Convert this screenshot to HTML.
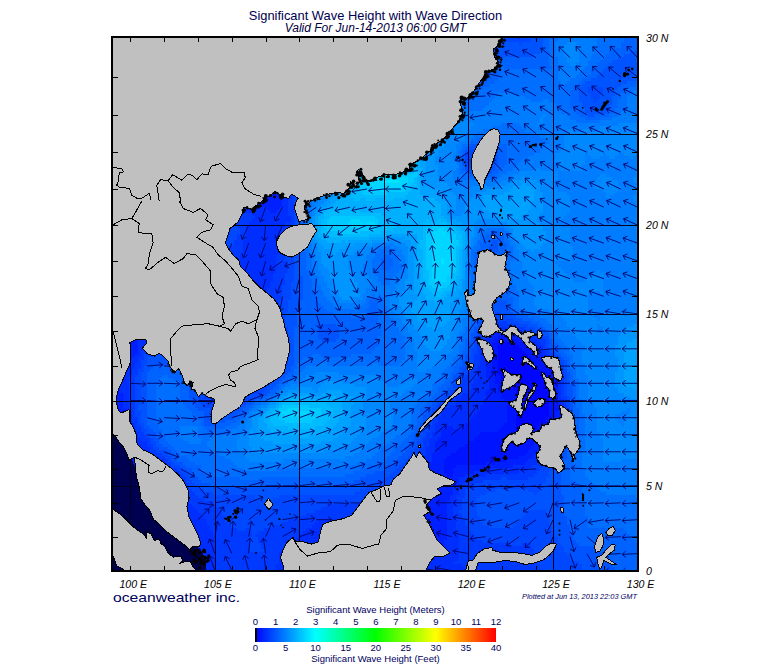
<!DOCTYPE html>
<html><head><meta charset="utf-8"><title>Significant Wave Height</title>
<style>
html,body{margin:0;padding:0;background:#fff;}
body{width:775px;height:665px;overflow:hidden;position:relative;font-family:"Liberation Sans",sans-serif;}
svg{position:absolute;left:0;top:0;}
text{font-family:"Liberation Sans",sans-serif;}
</style></head><body>
<svg width="775" height="665" viewBox="0 0 775 665">
<defs>
<clipPath id="mapclip"><rect x="112" y="37" width="526" height="534"/></clipPath>
<linearGradient id="lg" x1="0" x2="1" y1="0" y2="0">
<stop offset="0" stop-color="#0000ff"/>
<stop offset="0.25" stop-color="#00ffff"/>
<stop offset="0.5" stop-color="#00ff00"/>
<stop offset="0.75" stop-color="#ffff00"/>
<stop offset="1" stop-color="#ff0000"/>
</linearGradient>
</defs>

<g clip-path="url(#mapclip)" shape-rendering="crispEdges">
<rect x="111" y="36" width="528" height="536" fill="#0050ff"/>
<rect x="111" y="36" width="528" height="536" fill="#002eff"/>
<path fill="#0006ff" d="M501 342h12v3h-12zM498 345h21v3h-21zM498 348h24v3h-24zM498 351h27v3h-27zM498 354h30v3h-30zM498 357h33v3h-33zM498 360h33v3h-33zM498 363h36v3h-36zM498 366h39v3h-39zM498 369h42v3h-42zM498 372h48v3h-48zM501 375h48v3h-48zM501 378h48v3h-48zM504 381h45v3h-45zM507 384h39v3h-39zM513 387h33v3h-33zM516 390h33v3h-33zM516 393h33v3h-33zM519 396h30v3h-30zM519 399h30v3h-30zM519 402h30v3h-30zM519 405h30v3h-30zM519 408h30v3h-30zM519 411h30v3h-30zM516 414h33v3h-33zM516 417h30v3h-30zM516 420h30v3h-30zM516 423h24v3h-24zM516 426h21v3h-21zM516 429h15v3h-15zM516 432h12v3h-12zM516 435h6v3h-6zM516 438h3v3h-3zM111 468h3v3h-3zM111 471h3v3h-3zM111 474h6v3h-6zM111 477h6v3h-6zM111 480h6v3h-6zM111 483h9v3h-9zM111 486h9v3h-9zM111 489h9v3h-9zM111 492h12v3h-12zM111 495h12v3h-12zM111 498h12v3h-12zM111 501h12v3h-12zM111 504h12v3h-12zM111 507h12v3h-12zM111 510h12v3h-12zM111 513h12v3h-12zM111 516h12v3h-12zM111 519h12v3h-12zM111 522h12v3h-12zM111 525h12v3h-12zM111 528h12v3h-12zM111 531h12v3h-12zM111 534h12v3h-12zM111 537h12v3h-12zM111 540h12v3h-12zM111 543h12v3h-12zM111 546h12v3h-12zM111 549h12v3h-12zM111 552h12v3h-12zM111 555h12v3h-12zM111 558h9v3h-9zM111 561h9v3h-9zM111 564h9v3h-9zM111 567h9v3h-9zM111 570h9v3h-9z"/>
<path fill="#0014ff" d="M111 306h3v3h-3zM111 309h3v3h-3zM111 312h3v3h-3zM111 315h3v3h-3zM111 318h3v3h-3zM111 321h6v3h-6zM111 324h6v3h-6zM111 327h6v3h-6zM111 330h6v3h-6zM111 333h6v3h-6zM111 336h6v3h-6zM498 336h12v3h-12zM111 339h6v3h-6zM495 339h24v3h-24zM111 342h6v3h-6zM492 342h9v3h-9zM513 342h12v3h-12zM111 345h6v3h-6zM492 345h6v3h-6zM519 345h9v3h-9zM111 348h6v3h-6zM492 348h6v3h-6zM522 348h9v3h-9zM111 351h6v3h-6zM492 351h6v3h-6zM525 351h9v3h-9zM111 354h3v3h-3zM492 354h6v3h-6zM528 354h9v3h-9zM111 357h3v3h-3zM492 357h6v3h-6zM531 357h9v3h-9zM111 360h3v3h-3zM492 360h6v3h-6zM531 360h12v3h-12zM492 363h6v3h-6zM534 363h12v3h-12zM492 366h6v3h-6zM537 366h12v3h-12zM492 369h6v3h-6zM540 369h12v3h-12zM492 372h6v3h-6zM546 372h6v3h-6zM495 375h6v3h-6zM549 375h6v3h-6zM495 378h6v3h-6zM549 378h6v3h-6zM495 381h9v3h-9zM549 381h6v3h-6zM498 384h9v3h-9zM546 384h6v3h-6zM498 387h15v3h-15zM546 387h6v3h-6zM498 390h18v3h-18zM549 390h6v3h-6zM501 393h15v3h-15zM549 393h6v3h-6zM501 396h18v3h-18zM549 396h6v3h-6zM504 399h15v3h-15zM549 399h6v3h-6zM510 402h9v3h-9zM549 402h6v3h-6zM507 405h12v3h-12zM549 405h9v3h-9zM111 408h3v3h-3zM507 408h12v3h-12zM549 408h9v3h-9zM111 411h3v3h-3zM507 411h12v3h-12zM549 411h6v3h-6zM111 414h3v3h-3zM507 414h9v3h-9zM549 414h6v3h-6zM111 417h3v3h-3zM507 417h9v3h-9zM546 417h9v3h-9zM111 420h3v3h-3zM507 420h9v3h-9zM546 420h6v3h-6zM111 423h3v3h-3zM504 423h12v3h-12zM540 423h9v3h-9zM111 426h6v3h-6zM501 426h15v3h-15zM537 426h12v3h-12zM111 429h6v3h-6zM498 429h18v3h-18zM531 429h15v3h-15zM111 432h6v3h-6zM480 432h36v3h-36zM528 432h15v3h-15zM111 435h9v3h-9zM477 435h39v3h-39zM522 435h18v3h-18zM111 438h9v3h-9zM474 438h42v3h-42zM519 438h18v3h-18zM111 441h12v3h-12zM468 441h66v3h-66zM111 444h12v3h-12zM465 444h69v3h-69zM111 447h15v3h-15zM459 447h72v3h-72zM111 450h15v3h-15zM456 450h72v3h-72zM111 453h18v3h-18zM450 453h75v3h-75zM111 456h21v3h-21zM447 456h72v3h-72zM111 459h21v3h-21zM444 459h63v3h-63zM111 462h24v3h-24zM444 462h42v3h-42zM492 462h3v3h-3zM111 465h27v3h-27zM444 465h12v3h-12zM114 468h24v3h-24zM444 468h9v3h-9zM114 471h27v3h-27zM444 471h9v3h-9zM117 474h27v3h-27zM447 474h6v3h-6zM117 477h27v3h-27zM117 480h30v3h-30zM120 483h27v3h-27zM120 486h30v3h-30zM120 489h30v3h-30zM123 492h30v3h-30zM123 495h30v3h-30zM123 498h30v3h-30zM123 501h30v3h-30zM123 504h33v3h-33zM123 507h33v3h-33zM123 510h33v3h-33zM123 513h33v3h-33zM123 516h33v3h-33zM123 519h33v3h-33zM123 522h33v3h-33zM123 525h33v3h-33zM123 528h33v3h-33zM123 531h36v3h-36zM123 534h36v3h-36zM123 537h36v3h-36zM123 540h36v3h-36zM123 543h36v3h-36zM123 546h36v3h-36zM123 549h36v3h-36zM123 552h36v3h-36zM123 555h36v3h-36zM120 558h39v3h-39zM120 561h39v3h-39zM120 564h39v3h-39zM120 567h39v3h-39zM120 570h39v3h-39z"/>
<path fill="#0020ff" d="M111 36h24v3h-24zM111 39h24v3h-24zM111 42h24v3h-24zM111 45h24v3h-24zM111 48h27v3h-27zM111 51h27v3h-27zM111 54h27v3h-27zM111 57h27v3h-27zM111 60h27v3h-27zM111 63h27v3h-27zM111 66h30v3h-30zM111 69h30v3h-30zM111 72h30v3h-30zM111 75h30v3h-30zM111 78h30v3h-30zM111 81h30v3h-30zM111 84h33v3h-33zM111 87h33v3h-33zM111 90h33v3h-33zM111 93h33v3h-33zM111 96h33v3h-33zM111 99h33v3h-33zM111 102h36v3h-36zM111 105h36v3h-36zM111 108h36v3h-36zM111 111h36v3h-36zM111 114h36v3h-36zM111 117h36v3h-36zM111 120h36v3h-36zM111 123h36v3h-36zM111 126h36v3h-36zM111 129h39v3h-39zM111 132h39v3h-39zM111 135h39v3h-39zM111 138h39v3h-39zM111 141h39v3h-39zM111 144h39v3h-39zM111 147h39v3h-39zM111 150h39v3h-39zM111 153h36v3h-36zM111 156h36v3h-36zM111 159h36v3h-36zM111 162h36v3h-36zM111 165h36v3h-36zM111 168h36v3h-36zM111 171h36v3h-36zM111 174h36v3h-36zM111 177h33v3h-33zM111 180h33v3h-33zM111 183h33v3h-33zM111 186h33v3h-33zM111 189h33v3h-33zM111 192h30v3h-30zM258 192h18v3h-18zM111 195h30v3h-30zM255 195h24v3h-24zM111 198h30v3h-30zM255 198h27v3h-27zM111 201h30v3h-30zM255 201h27v3h-27zM111 204h30v3h-30zM261 204h21v3h-21zM111 207h30v3h-30zM267 207h12v3h-12zM111 210h30v3h-30zM270 210h6v3h-6zM111 213h30v3h-30zM111 216h30v3h-30zM111 219h27v3h-27zM111 222h27v3h-27zM111 225h27v3h-27zM111 228h27v3h-27zM111 231h27v3h-27zM111 234h27v3h-27zM111 237h27v3h-27zM111 240h27v3h-27zM111 243h27v3h-27zM111 246h27v3h-27zM111 249h30v3h-30zM111 252h30v3h-30zM111 255h30v3h-30zM111 258h30v3h-30zM111 261h30v3h-30zM111 264h30v3h-30zM111 267h30v3h-30zM111 270h30v3h-30zM111 273h30v3h-30zM111 276h30v3h-30zM111 279h30v3h-30zM111 282h30v3h-30zM111 285h30v3h-30zM111 288h30v3h-30zM111 291h30v3h-30zM111 294h30v3h-30zM111 297h30v3h-30zM111 300h30v3h-30zM111 303h30v3h-30zM114 306h27v3h-27zM114 309h27v3h-27zM114 312h27v3h-27zM114 315h27v3h-27zM114 318h24v3h-24zM117 321h21v3h-21zM117 324h21v3h-21zM117 327h21v3h-21zM117 330h21v3h-21zM117 333h21v3h-21zM495 333h21v3h-21zM117 336h21v3h-21zM492 336h6v3h-6zM510 336h15v3h-15zM117 339h21v3h-21zM489 339h6v3h-6zM519 339h9v3h-9zM117 342h21v3h-21zM486 342h6v3h-6zM525 342h9v3h-9zM117 345h21v3h-21zM486 345h6v3h-6zM528 345h9v3h-9zM117 348h21v3h-21zM486 348h6v3h-6zM531 348h6v3h-6zM117 351h21v3h-21zM486 351h6v3h-6zM534 351h6v3h-6zM114 354h21v3h-21zM486 354h6v3h-6zM537 354h6v3h-6zM114 357h18v3h-18zM486 357h6v3h-6zM540 357h6v3h-6zM114 360h15v3h-15zM486 360h6v3h-6zM543 360h6v3h-6zM111 363h15v3h-15zM486 363h6v3h-6zM546 363h6v3h-6zM111 366h15v3h-15zM486 366h6v3h-6zM549 366h3v3h-3zM111 369h12v3h-12zM486 369h6v3h-6zM552 369h3v3h-3zM111 372h12v3h-12zM486 372h6v3h-6zM552 372h3v3h-3zM111 375h12v3h-12zM486 375h9v3h-9zM555 375h3v3h-3zM111 378h9v3h-9zM489 378h6v3h-6zM555 378h3v3h-3zM111 381h9v3h-9zM489 381h6v3h-6zM555 381h3v3h-3zM111 384h9v3h-9zM489 384h9v3h-9zM552 384h6v3h-6zM111 387h9v3h-9zM489 387h9v3h-9zM552 387h6v3h-6zM111 390h9v3h-9zM486 390h12v3h-12zM555 390h3v3h-3zM111 393h12v3h-12zM486 393h15v3h-15zM555 393h3v3h-3zM111 396h12v3h-12zM486 396h15v3h-15zM555 396h3v3h-3zM111 399h12v3h-12zM483 399h21v3h-21zM555 399h3v3h-3zM111 402h12v3h-12zM483 402h27v3h-27zM555 402h6v3h-6zM111 405h12v3h-12zM480 405h27v3h-27zM558 405h3v3h-3zM114 408h12v3h-12zM480 408h27v3h-27zM558 408h3v3h-3zM114 411h12v3h-12zM477 411h30v3h-30zM555 411h6v3h-6zM114 414h12v3h-12zM474 414h33v3h-33zM555 414h6v3h-6zM114 417h12v3h-12zM471 417h36v3h-36zM555 417h3v3h-3zM114 420h12v3h-12zM468 420h39v3h-39zM552 420h6v3h-6zM114 423h12v3h-12zM465 423h39v3h-39zM549 423h6v3h-6zM117 426h9v3h-9zM444 426h9v3h-9zM462 426h39v3h-39zM549 426h6v3h-6zM117 429h12v3h-12zM441 429h57v3h-57zM546 429h6v3h-6zM117 432h12v3h-12zM441 432h39v3h-39zM543 432h9v3h-9zM120 435h12v3h-12zM441 435h36v3h-36zM540 435h9v3h-9zM120 438h12v3h-12zM438 438h36v3h-36zM537 438h9v3h-9zM123 441h12v3h-12zM435 441h33v3h-33zM534 441h9v3h-9zM123 444h15v3h-15zM435 444h30v3h-30zM534 444h9v3h-9zM126 447h15v3h-15zM435 447h24v3h-24zM531 447h9v3h-9zM126 450h15v3h-15zM435 450h21v3h-21zM528 450h9v3h-9zM129 453h15v3h-15zM432 453h18v3h-18zM525 453h9v3h-9zM132 456h15v3h-15zM432 456h15v3h-15zM519 456h15v3h-15zM132 459h18v3h-18zM432 459h12v3h-12zM507 459h21v3h-21zM135 462h18v3h-18zM429 462h15v3h-15zM486 462h6v3h-6zM495 462h30v3h-30zM138 465h18v3h-18zM429 465h15v3h-15zM456 465h57v3h-57zM138 468h21v3h-21zM429 468h15v3h-15zM453 468h36v3h-36zM141 471h18v3h-18zM429 471h15v3h-15zM453 471h21v3h-21zM144 474h18v3h-18zM426 474h21v3h-21zM453 474h12v3h-12zM144 477h21v3h-21zM426 477h33v3h-33zM147 480h18v3h-18zM426 480h33v3h-33zM147 483h21v3h-21zM423 483h33v3h-33zM150 486h21v3h-21zM423 486h30v3h-30zM150 489h21v3h-21zM420 489h33v3h-33zM153 492h18v3h-18zM420 492h33v3h-33zM153 495h21v3h-21zM417 495h33v3h-33zM153 498h21v3h-21zM417 498h33v3h-33zM153 501h21v3h-21zM414 501h33v3h-33zM156 504h18v3h-18zM411 504h36v3h-36zM156 507h21v3h-21zM411 507h36v3h-36zM156 510h21v3h-21zM408 510h39v3h-39zM156 513h24v3h-24zM405 513h42v3h-42zM156 516h24v3h-24zM405 516h42v3h-42zM156 519h24v3h-24zM402 519h45v3h-45zM156 522h27v3h-27zM399 522h48v3h-48zM156 525h27v3h-27zM396 525h51v3h-51zM156 528h27v3h-27zM396 528h51v3h-51zM159 531h27v3h-27zM393 531h54v3h-54zM159 534h27v3h-27zM390 534h57v3h-57zM159 537h27v3h-27zM387 537h60v3h-60zM159 540h27v3h-27zM384 540h60v3h-60zM159 543h27v3h-27zM381 543h63v3h-63zM159 546h27v3h-27zM375 546h66v3h-66zM159 549h27v3h-27zM372 549h66v3h-66zM159 552h27v3h-27zM363 552h69v3h-69zM159 555h30v3h-30zM357 555h72v3h-72zM159 558h30v3h-30zM348 558h78v3h-78zM159 561h30v3h-30zM345 561h78v3h-78zM159 564h30v3h-30zM339 564h84v3h-84zM159 567h30v3h-30zM336 567h84v3h-84zM159 570h30v3h-30zM333 570h84v3h-84z"/>
<path fill="#003aff" d="M198 36h48v3h-48zM198 39h48v3h-48zM198 42h48v3h-48zM198 45h48v3h-48zM198 48h48v3h-48zM198 51h48v3h-48zM198 54h48v3h-48zM201 57h45v3h-45zM201 60h45v3h-45zM201 63h45v3h-45zM201 66h45v3h-45zM201 69h45v3h-45zM201 72h45v3h-45zM201 75h45v3h-45zM204 78h42v3h-42zM204 81h42v3h-42zM204 84h42v3h-42zM204 87h42v3h-42zM204 90h42v3h-42zM207 93h39v3h-39zM207 96h42v3h-42zM207 99h42v3h-42zM210 102h39v3h-39zM210 105h39v3h-39zM210 108h42v3h-42zM213 111h39v3h-39zM213 114h39v3h-39zM213 117h42v3h-42zM216 120h39v3h-39zM216 123h39v3h-39zM219 126h39v3h-39zM219 129h39v3h-39zM222 132h39v3h-39zM225 135h36v3h-36zM225 138h39v3h-39zM228 141h36v3h-36zM231 144h36v3h-36zM234 147h36v3h-36zM237 150h33v3h-33zM243 153h30v3h-30zM246 156h27v3h-27zM471 156h3v3h-3zM252 159h24v3h-24zM468 159h6v3h-6zM255 162h24v3h-24zM261 165h18v3h-18zM264 168h18v3h-18zM267 171h18v3h-18zM270 174h15v3h-15zM276 177h12v3h-12zM276 180h12v3h-12zM279 183h9v3h-9zM282 186h9v3h-9zM285 189h6v3h-6zM285 192h6v3h-6zM204 195h15v3h-15zM288 195h6v3h-6zM195 198h30v3h-30zM288 198h6v3h-6zM192 201h36v3h-36zM288 201h6v3h-6zM189 204h45v3h-45zM288 204h6v3h-6zM186 207h51v3h-51zM288 207h6v3h-6zM186 210h57v3h-57zM288 210h6v3h-6zM183 213h69v3h-69zM288 213h6v3h-6zM180 216h75v3h-75zM291 216h3v3h-3zM180 219h72v3h-72zM291 219h3v3h-3zM180 222h36v3h-36zM234 222h15v3h-15zM285 222h9v3h-9zM177 225h36v3h-36zM237 225h9v3h-9zM285 225h6v3h-6zM177 228h33v3h-33zM240 228h6v3h-6zM282 228h9v3h-9zM177 231h33v3h-33zM240 231h6v3h-6zM279 231h9v3h-9zM177 234h33v3h-33zM237 234h9v3h-9zM279 234h9v3h-9zM177 237h33v3h-33zM237 237h9v3h-9zM279 237h9v3h-9zM177 240h33v3h-33zM234 240h9v3h-9zM279 240h9v3h-9zM177 243h33v3h-33zM234 243h9v3h-9zM279 243h6v3h-6zM177 246h36v3h-36zM231 246h12v3h-12zM279 246h6v3h-6zM177 249h39v3h-39zM231 249h12v3h-12zM279 249h6v3h-6zM177 252h66v3h-66zM279 252h6v3h-6zM177 255h63v3h-63zM276 255h9v3h-9zM177 258h63v3h-63zM276 258h9v3h-9zM177 261h63v3h-63zM276 261h12v3h-12zM180 264h57v3h-57zM276 264h12v3h-12zM180 267h57v3h-57zM276 267h12v3h-12zM180 270h57v3h-57zM276 270h12v3h-12zM180 273h54v3h-54zM273 273h12v3h-12zM183 276h51v3h-51zM273 276h12v3h-12zM183 279h48v3h-48zM273 279h12v3h-12zM183 282h45v3h-45zM270 282h15v3h-15zM183 285h45v3h-45zM270 285h12v3h-12zM183 288h42v3h-42zM267 288h15v3h-15zM183 291h42v3h-42zM264 291h18v3h-18zM180 294h45v3h-45zM261 294h21v3h-21zM180 297h42v3h-42zM258 297h24v3h-24zM177 300h45v3h-45zM258 300h21v3h-21zM174 303h48v3h-48zM255 303h24v3h-24zM174 306h48v3h-48zM252 306h24v3h-24zM171 309h51v3h-51zM252 309h24v3h-24zM168 312h57v3h-57zM249 312h27v3h-27zM165 315h60v3h-60zM249 315h24v3h-24zM162 318h63v3h-63zM249 318h24v3h-24zM159 321h69v3h-69zM249 321h24v3h-24zM495 321h12v3h-12zM156 324h72v3h-72zM249 324h24v3h-24zM489 324h27v3h-27zM156 327h72v3h-72zM249 327h24v3h-24zM486 327h9v3h-9zM513 327h12v3h-12zM153 330h75v3h-75zM249 330h27v3h-27zM483 330h6v3h-6zM522 330h9v3h-9zM150 333h78v3h-78zM249 333h27v3h-27zM480 333h6v3h-6zM528 333h9v3h-9zM150 336h21v3h-21zM183 336h48v3h-48zM252 336h24v3h-24zM480 336h6v3h-6zM534 336h9v3h-9zM147 339h15v3h-15zM192 339h39v3h-39zM252 339h24v3h-24zM477 339h6v3h-6zM537 339h9v3h-9zM147 342h12v3h-12zM195 342h36v3h-36zM252 342h24v3h-24zM477 342h6v3h-6zM540 342h6v3h-6zM144 345h9v3h-9zM198 345h33v3h-33zM255 345h24v3h-24zM477 345h3v3h-3zM543 345h3v3h-3zM144 348h6v3h-6zM201 348h30v3h-30zM255 348h24v3h-24zM477 348h3v3h-3zM543 348h6v3h-6zM141 351h6v3h-6zM201 351h27v3h-27zM255 351h24v3h-24zM477 351h3v3h-3zM546 351h3v3h-3zM141 354h3v3h-3zM204 354h24v3h-24zM255 354h24v3h-24zM474 354h6v3h-6zM549 354h3v3h-3zM138 357h6v3h-6zM204 357h24v3h-24zM255 357h24v3h-24zM474 357h6v3h-6zM549 357h6v3h-6zM138 360h3v3h-3zM207 360h21v3h-21zM255 360h21v3h-21zM474 360h6v3h-6zM552 360h6v3h-6zM135 363h6v3h-6zM207 363h21v3h-21zM255 363h21v3h-21zM474 363h6v3h-6zM555 363h6v3h-6zM135 366h6v3h-6zM207 366h21v3h-21zM255 366h18v3h-18zM471 366h6v3h-6zM558 366h3v3h-3zM132 369h6v3h-6zM207 369h21v3h-21zM255 369h15v3h-15zM471 369h6v3h-6zM558 369h3v3h-3zM132 372h6v3h-6zM207 372h24v3h-24zM252 372h18v3h-18zM468 372h9v3h-9zM561 372h3v3h-3zM129 375h6v3h-6zM207 375h24v3h-24zM252 375h15v3h-15zM465 375h12v3h-12zM561 375h3v3h-3zM129 378h6v3h-6zM207 378h27v3h-27zM249 378h15v3h-15zM462 378h12v3h-12zM561 378h3v3h-3zM129 381h6v3h-6zM207 381h57v3h-57zM462 381h12v3h-12zM561 381h3v3h-3zM129 384h6v3h-6zM207 384h54v3h-54zM459 384h12v3h-12zM561 384h3v3h-3zM129 387h6v3h-6zM207 387h51v3h-51zM459 387h12v3h-12zM561 387h3v3h-3zM129 390h6v3h-6zM207 390h51v3h-51zM453 390h15v3h-15zM561 390h3v3h-3zM129 393h6v3h-6zM207 393h42v3h-42zM453 393h9v3h-9zM561 393h3v3h-3zM129 396h6v3h-6zM204 396h39v3h-39zM450 396h6v3h-6zM561 396h6v3h-6zM129 399h6v3h-6zM213 399h24v3h-24zM447 399h9v3h-9zM564 399h3v3h-3zM129 402h6v3h-6zM444 402h12v3h-12zM564 402h3v3h-3zM129 405h6v3h-6zM438 405h12v3h-12zM564 405h3v3h-3zM129 408h6v3h-6zM438 408h3v3h-3zM564 408h3v3h-3zM129 411h6v3h-6zM435 411h6v3h-6zM564 411h3v3h-3zM132 414h3v3h-3zM435 414h6v3h-6zM564 414h3v3h-3zM132 417h6v3h-6zM432 417h6v3h-6zM564 417h3v3h-3zM132 420h6v3h-6zM432 420h6v3h-6zM561 420h6v3h-6zM135 423h3v3h-3zM432 423h3v3h-3zM561 423h3v3h-3zM135 426h6v3h-6zM429 426h6v3h-6zM558 426h6v3h-6zM135 429h6v3h-6zM429 429h6v3h-6zM558 429h6v3h-6zM138 432h6v3h-6zM426 432h6v3h-6zM558 432h3v3h-3zM138 435h9v3h-9zM426 435h6v3h-6zM555 435h6v3h-6zM141 438h9v3h-9zM423 438h6v3h-6zM555 438h6v3h-6zM147 441h3v3h-3zM423 441h6v3h-6zM552 441h6v3h-6zM147 444h6v3h-6zM423 444h6v3h-6zM549 444h9v3h-9zM150 447h3v3h-3zM420 447h6v3h-6zM549 447h6v3h-6zM150 450h6v3h-6zM420 450h6v3h-6zM546 450h9v3h-9zM153 453h9v3h-9zM417 453h9v3h-9zM543 453h9v3h-9zM156 456h9v3h-9zM417 456h6v3h-6zM543 456h6v3h-6zM165 459h3v3h-3zM414 459h9v3h-9zM540 459h9v3h-9zM165 462h6v3h-6zM411 462h9v3h-9zM537 462h9v3h-9zM165 465h6v3h-6zM411 465h9v3h-9zM531 465h12v3h-12zM168 468h9v3h-9zM408 468h9v3h-9zM528 468h12v3h-12zM171 471h9v3h-9zM405 471h12v3h-12zM504 471h3v3h-3zM519 471h18v3h-18zM174 474h9v3h-9zM402 474h12v3h-12zM486 474h48v3h-48zM180 477h6v3h-6zM402 477h12v3h-12zM474 477h27v3h-27zM507 477h21v3h-21zM180 480h6v3h-6zM396 480h15v3h-15zM465 480h18v3h-18zM183 483h6v3h-6zM393 483h15v3h-15zM462 483h12v3h-12zM183 486h6v3h-6zM390 486h18v3h-18zM462 486h6v3h-6zM183 489h9v3h-9zM387 489h18v3h-18zM459 489h6v3h-6zM183 492h12v3h-12zM381 492h21v3h-21zM459 492h6v3h-6zM186 495h12v3h-12zM375 495h24v3h-24zM456 495h9v3h-9zM186 498h18v3h-18zM369 498h27v3h-27zM456 498h6v3h-6zM189 501h24v3h-24zM363 501h30v3h-30zM456 501h6v3h-6zM192 504h24v3h-24zM327 504h60v3h-60zM456 504h6v3h-6zM195 507h24v3h-24zM321 507h63v3h-63zM453 507h9v3h-9zM198 510h24v3h-24zM315 510h66v3h-66zM453 510h6v3h-6zM201 513h21v3h-21zM306 513h69v3h-69zM453 513h9v3h-9zM204 516h21v3h-21zM297 516h69v3h-69zM456 516h6v3h-6zM207 519h18v3h-18zM288 519h30v3h-30zM456 519h9v3h-9zM207 522h21v3h-21zM282 522h33v3h-33zM456 522h9v3h-9zM210 525h21v3h-21zM273 525h39v3h-39zM456 525h12v3h-12zM210 528h27v3h-27zM246 528h3v3h-3zM264 528h42v3h-42zM456 528h12v3h-12zM213 531h39v3h-39zM258 531h45v3h-45zM459 531h12v3h-12zM213 534h39v3h-39zM255 534h45v3h-45zM459 534h15v3h-15zM216 537h33v3h-33zM258 537h39v3h-39zM459 537h18v3h-18zM216 540h33v3h-33zM258 540h36v3h-36zM459 540h24v3h-24zM216 543h33v3h-33zM261 543h27v3h-27zM459 543h51v3h-51zM522 543h9v3h-9zM216 546h33v3h-33zM261 546h24v3h-24zM459 546h72v3h-72zM216 549h33v3h-33zM264 549h18v3h-18zM459 549h75v3h-75zM216 552h63v3h-63zM459 552h75v3h-75zM216 555h63v3h-63zM459 555h78v3h-78zM216 558h63v3h-63zM459 558h78v3h-78zM216 561h63v3h-63zM453 561h84v3h-84zM216 564h60v3h-60zM462 564h78v3h-78zM216 567h60v3h-60zM465 567h75v3h-75zM219 570h54v3h-54zM465 570h78v3h-78z"/>
<path fill="#0048ff" d="M246 36h42v3h-42zM501 36h30v3h-30zM246 39h42v3h-42zM501 39h30v3h-30zM246 42h39v3h-39zM501 42h3v3h-3zM519 42h3v3h-3zM246 45h39v3h-39zM246 48h36v3h-36zM246 51h36v3h-36zM246 54h36v3h-36zM246 57h33v3h-33zM246 60h33v3h-33zM246 63h33v3h-33zM246 66h33v3h-33zM246 69h30v3h-30zM246 72h30v3h-30zM246 75h30v3h-30zM246 78h30v3h-30zM246 81h30v3h-30zM246 84h30v3h-30zM246 87h30v3h-30zM588 87h15v3h-15zM246 90h30v3h-30zM588 90h15v3h-15zM246 93h30v3h-30zM591 93h9v3h-9zM249 96h27v3h-27zM591 96h9v3h-9zM249 99h27v3h-27zM594 99h3v3h-3zM249 102h27v3h-27zM249 105h27v3h-27zM252 108h24v3h-24zM252 111h24v3h-24zM252 114h24v3h-24zM255 117h21v3h-21zM255 120h24v3h-24zM255 123h24v3h-24zM258 126h21v3h-21zM258 129h21v3h-21zM261 132h18v3h-18zM261 135h21v3h-21zM264 138h18v3h-18zM264 141h18v3h-18zM267 144h18v3h-18zM270 147h15v3h-15zM270 150h15v3h-15zM468 150h18v3h-18zM273 153h15v3h-15zM465 153h24v3h-24zM273 156h15v3h-15zM465 156h6v3h-6zM474 156h18v3h-18zM276 159h12v3h-12zM465 159h3v3h-3zM474 159h15v3h-15zM279 162h12v3h-12zM465 162h24v3h-24zM279 165h12v3h-12zM468 165h18v3h-18zM282 168h9v3h-9zM471 168h6v3h-6zM285 171h9v3h-9zM285 174h9v3h-9zM288 177h6v3h-6zM288 180h9v3h-9zM288 183h9v3h-9zM291 186h6v3h-6zM291 189h6v3h-6zM291 192h6v3h-6zM294 195h3v3h-3zM294 198h3v3h-3zM294 201h3v3h-3zM294 204h3v3h-3zM294 207h3v3h-3zM294 210h3v3h-3zM294 213h3v3h-3zM294 216h3v3h-3zM294 219h3v3h-3zM216 222h18v3h-18zM294 222h3v3h-3zM213 225h24v3h-24zM291 225h6v3h-6zM210 228h30v3h-30zM291 228h3v3h-3zM210 231h30v3h-30zM288 231h6v3h-6zM210 234h27v3h-27zM288 234h6v3h-6zM210 237h27v3h-27zM288 237h6v3h-6zM210 240h24v3h-24zM288 240h6v3h-6zM210 243h24v3h-24zM285 243h6v3h-6zM213 246h18v3h-18zM285 246h6v3h-6zM216 249h15v3h-15zM285 249h9v3h-9zM285 252h9v3h-9zM285 255h9v3h-9zM285 258h9v3h-9zM288 261h6v3h-6zM288 264h6v3h-6zM288 267h6v3h-6zM288 270h6v3h-6zM285 273h9v3h-9zM285 276h9v3h-9zM285 279h9v3h-9zM285 282h6v3h-6zM282 285h9v3h-9zM282 288h9v3h-9zM282 291h9v3h-9zM282 294h9v3h-9zM282 297h9v3h-9zM279 300h9v3h-9zM279 303h9v3h-9zM276 306h12v3h-12zM276 309h12v3h-12zM276 312h9v3h-9zM495 312h6v3h-6zM273 315h12v3h-12zM489 315h18v3h-18zM273 318h12v3h-12zM486 318h27v3h-27zM273 321h12v3h-12zM483 321h12v3h-12zM507 321h12v3h-12zM273 324h12v3h-12zM483 324h6v3h-6zM516 324h12v3h-12zM273 327h15v3h-15zM480 327h6v3h-6zM525 327h9v3h-9zM276 330h12v3h-12zM477 330h6v3h-6zM531 330h9v3h-9zM276 333h12v3h-12zM477 333h3v3h-3zM537 333h6v3h-6zM171 336h12v3h-12zM276 336h12v3h-12zM474 336h6v3h-6zM543 336h6v3h-6zM162 339h30v3h-30zM276 339h12v3h-12zM474 339h3v3h-3zM546 339h3v3h-3zM159 342h36v3h-36zM276 342h12v3h-12zM474 342h3v3h-3zM546 342h3v3h-3zM153 345h45v3h-45zM279 345h12v3h-12zM474 345h3v3h-3zM546 345h3v3h-3zM150 348h51v3h-51zM279 348h12v3h-12zM471 348h6v3h-6zM549 348h3v3h-3zM147 351h54v3h-54zM279 351h9v3h-9zM471 351h6v3h-6zM549 351h6v3h-6zM144 354h9v3h-9zM183 354h21v3h-21zM279 354h9v3h-9zM471 354h3v3h-3zM552 354h6v3h-6zM144 357h3v3h-3zM186 357h18v3h-18zM279 357h9v3h-9zM468 357h6v3h-6zM555 357h6v3h-6zM141 360h6v3h-6zM189 360h18v3h-18zM276 360h12v3h-12zM468 360h6v3h-6zM558 360h6v3h-6zM141 363h6v3h-6zM192 363h15v3h-15zM276 363h12v3h-12zM468 363h6v3h-6zM561 363h3v3h-3zM141 366h3v3h-3zM195 366h12v3h-12zM273 366h12v3h-12zM465 366h6v3h-6zM561 366h3v3h-3zM138 369h6v3h-6zM195 369h12v3h-12zM270 369h12v3h-12zM462 369h9v3h-9zM561 369h6v3h-6zM138 372h3v3h-3zM195 372h12v3h-12zM270 372h9v3h-9zM462 372h6v3h-6zM564 372h3v3h-3zM135 375h6v3h-6zM195 375h12v3h-12zM267 375h9v3h-9zM459 375h6v3h-6zM564 375h3v3h-3zM135 378h6v3h-6zM198 378h9v3h-9zM264 378h9v3h-9zM459 378h3v3h-3zM564 378h3v3h-3zM135 381h6v3h-6zM198 381h9v3h-9zM264 381h6v3h-6zM456 381h6v3h-6zM564 381h3v3h-3zM135 384h6v3h-6zM198 384h9v3h-9zM261 384h9v3h-9zM453 384h6v3h-6zM564 384h3v3h-3zM135 387h6v3h-6zM198 387h9v3h-9zM258 387h9v3h-9zM453 387h6v3h-6zM564 387h3v3h-3zM135 390h6v3h-6zM198 390h9v3h-9zM258 390h6v3h-6zM450 390h3v3h-3zM564 390h3v3h-3zM135 393h6v3h-6zM198 393h9v3h-9zM249 393h12v3h-12zM447 393h6v3h-6zM564 393h3v3h-3zM135 396h6v3h-6zM198 396h6v3h-6zM243 396h12v3h-12zM444 396h6v3h-6zM567 396h3v3h-3zM135 399h6v3h-6zM198 399h15v3h-15zM237 399h12v3h-12zM441 399h6v3h-6zM567 399h3v3h-3zM135 402h6v3h-6zM201 402h45v3h-45zM438 402h6v3h-6zM567 402h3v3h-3zM135 405h3v3h-3zM204 405h36v3h-36zM435 405h3v3h-3zM567 405h3v3h-3zM135 408h3v3h-3zM210 408h27v3h-27zM432 408h6v3h-6zM567 408h3v3h-3zM135 411h6v3h-6zM213 411h21v3h-21zM432 411h3v3h-3zM567 411h3v3h-3zM135 414h6v3h-6zM429 414h6v3h-6zM567 414h3v3h-3zM138 417h3v3h-3zM429 417h3v3h-3zM567 417h3v3h-3zM138 420h3v3h-3zM426 420h6v3h-6zM567 420h3v3h-3zM138 423h6v3h-6zM426 423h6v3h-6zM564 423h6v3h-6zM141 426h3v3h-3zM426 426h3v3h-3zM564 426h6v3h-6zM141 429h6v3h-6zM423 429h6v3h-6zM564 429h3v3h-3zM144 432h3v3h-3zM423 432h3v3h-3zM561 432h6v3h-6zM147 435h3v3h-3zM420 435h6v3h-6zM561 435h6v3h-6zM150 438h3v3h-3zM420 438h3v3h-3zM561 438h3v3h-3zM150 441h6v3h-6zM417 441h6v3h-6zM558 441h6v3h-6zM153 444h3v3h-3zM417 444h6v3h-6zM558 444h6v3h-6zM153 447h6v3h-6zM414 447h6v3h-6zM555 447h6v3h-6zM156 450h9v3h-9zM411 450h9v3h-9zM555 450h6v3h-6zM162 453h6v3h-6zM411 453h6v3h-6zM552 453h6v3h-6zM165 456h6v3h-6zM408 456h9v3h-9zM549 456h9v3h-9zM168 459h3v3h-3zM405 459h9v3h-9zM549 459h9v3h-9zM171 462h3v3h-3zM402 462h9v3h-9zM546 462h9v3h-9zM171 465h9v3h-9zM399 465h12v3h-12zM543 465h12v3h-12zM177 468h6v3h-6zM396 468h12v3h-12zM540 468h12v3h-12zM180 471h6v3h-6zM393 471h12v3h-12zM537 471h12v3h-12zM183 474h6v3h-6zM390 474h12v3h-12zM534 474h15v3h-15zM186 477h3v3h-3zM384 477h18v3h-18zM501 477h6v3h-6zM528 477h18v3h-18zM186 480h6v3h-6zM378 480h18v3h-18zM483 480h63v3h-63zM189 483h6v3h-6zM372 483h21v3h-21zM474 483h69v3h-69zM189 486h9v3h-9zM366 486h24v3h-24zM468 486h72v3h-72zM192 489h12v3h-12zM360 489h27v3h-27zM465 489h30v3h-30zM528 489h12v3h-12zM195 492h18v3h-18zM354 492h27v3h-27zM465 492h21v3h-21zM534 492h3v3h-3zM198 495h57v3h-57zM279 495h96v3h-96zM465 495h15v3h-15zM204 498h57v3h-57zM273 498h96v3h-96zM462 498h15v3h-15zM213 501h150v3h-150zM462 501h15v3h-15zM216 504h111v3h-111zM462 504h15v3h-15zM219 507h102v3h-102zM462 507h15v3h-15zM222 510h93v3h-93zM459 510h18v3h-18zM528 510h18v3h-18zM222 513h84v3h-84zM462 513h15v3h-15zM525 513h21v3h-21zM225 516h72v3h-72zM462 516h18v3h-18zM522 516h24v3h-24zM225 519h63v3h-63zM465 519h15v3h-15zM519 519h30v3h-30zM228 522h54v3h-54zM465 522h18v3h-18zM516 522h33v3h-33zM231 525h42v3h-42zM468 525h21v3h-21zM513 525h39v3h-39zM237 528h9v3h-9zM249 528h15v3h-15zM468 528h84v3h-84zM252 531h6v3h-6zM471 531h84v3h-84zM252 534h3v3h-3zM474 534h81v3h-81zM249 537h9v3h-9zM477 537h81v3h-81zM249 540h9v3h-9zM483 540h75v3h-75zM249 543h12v3h-12zM510 543h12v3h-12zM531 543h30v3h-30zM249 546h12v3h-12zM531 546h33v3h-33zM249 549h15v3h-15zM534 549h30v3h-30zM534 552h33v3h-33zM537 555h33v3h-33zM537 558h36v3h-36zM537 561h42v3h-42zM540 564h42v3h-42zM540 567h42v3h-42zM543 570h42v3h-42z"/>
<path fill="#0054ff" d="M288 36h45v3h-45zM441 36h60v3h-60zM531 36h12v3h-12zM288 39h39v3h-39zM444 39h57v3h-57zM531 39h12v3h-12zM285 42h39v3h-39zM447 42h54v3h-54zM504 42h15v3h-15zM522 42h21v3h-21zM285 45h36v3h-36zM453 45h90v3h-90zM282 48h39v3h-39zM456 48h84v3h-84zM636 48h3v3h-3zM282 51h36v3h-36zM459 51h81v3h-81zM630 51h9v3h-9zM282 54h33v3h-33zM462 54h72v3h-72zM624 54h15v3h-15zM279 57h33v3h-33zM465 57h36v3h-36zM618 57h21v3h-21zM279 60h33v3h-33zM468 60h30v3h-30zM612 60h27v3h-27zM279 63h30v3h-30zM471 63h21v3h-21zM609 63h30v3h-30zM279 66h30v3h-30zM474 66h15v3h-15zM606 66h33v3h-33zM276 69h30v3h-30zM477 69h9v3h-9zM603 69h36v3h-36zM276 72h30v3h-30zM480 72h6v3h-6zM600 72h39v3h-39zM276 75h27v3h-27zM597 75h42v3h-42zM276 78h27v3h-27zM591 78h45v3h-45zM276 81h24v3h-24zM585 81h42v3h-42zM276 84h24v3h-24zM582 84h39v3h-39zM276 87h24v3h-24zM579 87h9v3h-9zM603 87h15v3h-15zM276 90h21v3h-21zM579 90h9v3h-9zM603 90h12v3h-12zM276 93h21v3h-21zM579 93h12v3h-12zM600 93h15v3h-15zM276 96h21v3h-21zM579 96h12v3h-12zM600 96h12v3h-12zM276 99h21v3h-21zM579 99h15v3h-15zM597 99h15v3h-15zM276 102h21v3h-21zM582 102h30v3h-30zM276 105h21v3h-21zM582 105h27v3h-27zM276 108h18v3h-18zM585 108h24v3h-24zM276 111h18v3h-18zM585 111h21v3h-21zM276 114h18v3h-18zM588 114h6v3h-6zM276 117h18v3h-18zM279 120h15v3h-15zM279 123h15v3h-15zM279 126h15v3h-15zM279 129h15v3h-15zM279 132h15v3h-15zM282 135h15v3h-15zM282 138h15v3h-15zM282 141h15v3h-15zM285 144h12v3h-12zM471 144h21v3h-21zM285 147h12v3h-12zM468 147h30v3h-30zM285 150h12v3h-12zM465 150h3v3h-3zM486 150h12v3h-12zM288 153h9v3h-9zM489 153h9v3h-9zM288 156h12v3h-12zM462 156h3v3h-3zM492 156h6v3h-6zM288 159h12v3h-12zM462 159h3v3h-3zM489 159h9v3h-9zM291 162h9v3h-9zM462 162h3v3h-3zM489 162h9v3h-9zM291 165h9v3h-9zM465 165h3v3h-3zM486 165h9v3h-9zM291 168h9v3h-9zM465 168h6v3h-6zM477 168h18v3h-18zM294 171h9v3h-9zM468 171h24v3h-24zM294 174h9v3h-9zM294 177h9v3h-9zM297 180h6v3h-6zM297 183h6v3h-6zM297 186h6v3h-6zM297 189h6v3h-6zM297 192h6v3h-6zM297 195h6v3h-6zM297 198h6v3h-6zM297 201h6v3h-6zM297 204h6v3h-6zM297 207h6v3h-6zM297 210h6v3h-6zM297 213h3v3h-3zM297 216h3v3h-3zM297 219h3v3h-3zM297 222h3v3h-3zM297 225h3v3h-3zM294 228h6v3h-6zM294 231h3v3h-3zM294 234h3v3h-3zM294 237h3v3h-3zM294 240h3v3h-3zM492 240h6v3h-6zM291 243h6v3h-6zM492 243h6v3h-6zM291 246h6v3h-6zM489 246h9v3h-9zM294 249h3v3h-3zM486 249h12v3h-12zM294 252h6v3h-6zM486 252h9v3h-9zM294 255h6v3h-6zM483 255h12v3h-12zM294 258h6v3h-6zM483 258h9v3h-9zM294 261h6v3h-6zM483 261h9v3h-9zM294 264h6v3h-6zM483 264h6v3h-6zM294 267h6v3h-6zM483 267h6v3h-6zM294 270h6v3h-6zM294 273h6v3h-6zM294 276h9v3h-9zM294 279h9v3h-9zM291 282h12v3h-12zM291 285h12v3h-12zM291 288h12v3h-12zM291 291h12v3h-12zM291 294h12v3h-12zM291 297h12v3h-12zM495 297h3v3h-3zM288 300h12v3h-12zM492 300h15v3h-15zM288 303h12v3h-12zM489 303h18v3h-18zM288 306h9v3h-9zM486 306h21v3h-21zM288 309h9v3h-9zM486 309h24v3h-24zM285 312h12v3h-12zM483 312h12v3h-12zM501 312h12v3h-12zM285 315h12v3h-12zM480 315h9v3h-9zM507 315h9v3h-9zM285 318h12v3h-12zM480 318h6v3h-6zM513 318h9v3h-9zM285 321h12v3h-12zM477 321h6v3h-6zM519 321h12v3h-12zM285 324h12v3h-12zM315 324h21v3h-21zM477 324h6v3h-6zM528 324h9v3h-9zM288 327h6v3h-6zM318 327h21v3h-21zM474 327h6v3h-6zM534 327h9v3h-9zM288 330h6v3h-6zM318 330h21v3h-21zM474 330h3v3h-3zM540 330h6v3h-6zM288 333h6v3h-6zM318 333h21v3h-21zM471 333h6v3h-6zM543 333h6v3h-6zM288 336h6v3h-6zM318 336h21v3h-21zM471 336h3v3h-3zM288 339h6v3h-6zM321 339h15v3h-15zM471 339h3v3h-3zM549 339h3v3h-3zM288 342h6v3h-6zM468 342h6v3h-6zM549 342h3v3h-3zM291 345h3v3h-3zM468 345h6v3h-6zM549 345h6v3h-6zM291 348h3v3h-3zM468 348h3v3h-3zM552 348h6v3h-6zM288 351h6v3h-6zM468 351h3v3h-3zM555 351h3v3h-3zM153 354h30v3h-30zM288 354h6v3h-6zM465 354h6v3h-6zM558 354h3v3h-3zM147 357h39v3h-39zM288 357h6v3h-6zM465 357h3v3h-3zM561 357h3v3h-3zM147 360h42v3h-42zM288 360h6v3h-6zM462 360h6v3h-6zM564 360h3v3h-3zM147 363h45v3h-45zM288 363h6v3h-6zM462 363h6v3h-6zM564 363h3v3h-3zM144 366h9v3h-9zM177 366h18v3h-18zM285 366h6v3h-6zM459 366h6v3h-6zM564 366h3v3h-3zM144 369h6v3h-6zM183 369h12v3h-12zM282 369h9v3h-9zM459 369h3v3h-3zM141 372h6v3h-6zM186 372h9v3h-9zM279 372h9v3h-9zM456 372h6v3h-6zM567 372h3v3h-3zM141 375h6v3h-6zM186 375h9v3h-9zM276 375h9v3h-9zM453 375h6v3h-6zM567 375h3v3h-3zM141 378h6v3h-6zM189 378h9v3h-9zM273 378h9v3h-9zM453 378h6v3h-6zM567 378h3v3h-3zM141 381h6v3h-6zM189 381h9v3h-9zM270 381h9v3h-9zM450 381h6v3h-6zM567 381h3v3h-3zM141 384h6v3h-6zM189 384h9v3h-9zM270 384h6v3h-6zM450 384h3v3h-3zM567 384h6v3h-6zM141 387h6v3h-6zM189 387h9v3h-9zM267 387h6v3h-6zM447 387h6v3h-6zM567 387h6v3h-6zM141 390h6v3h-6zM189 390h9v3h-9zM264 390h6v3h-6zM444 390h6v3h-6zM567 390h6v3h-6zM141 393h6v3h-6zM189 393h9v3h-9zM261 393h6v3h-6zM441 393h6v3h-6zM567 393h6v3h-6zM141 396h6v3h-6zM189 396h9v3h-9zM255 396h6v3h-6zM438 396h6v3h-6zM570 396h3v3h-3zM141 399h6v3h-6zM192 399h6v3h-6zM249 399h6v3h-6zM435 399h6v3h-6zM570 399h3v3h-3zM141 402h6v3h-6zM192 402h9v3h-9zM246 402h6v3h-6zM432 402h6v3h-6zM570 402h3v3h-3zM138 405h9v3h-9zM195 405h9v3h-9zM240 405h6v3h-6zM429 405h6v3h-6zM570 405h3v3h-3zM138 408h9v3h-9zM198 408h12v3h-12zM237 408h6v3h-6zM426 408h6v3h-6zM570 408h3v3h-3zM141 411h6v3h-6zM204 411h9v3h-9zM234 411h6v3h-6zM426 411h6v3h-6zM570 411h3v3h-3zM141 414h6v3h-6zM204 414h33v3h-33zM423 414h6v3h-6zM570 414h3v3h-3zM141 417h6v3h-6zM204 417h30v3h-30zM423 417h6v3h-6zM570 417h3v3h-3zM141 420h6v3h-6zM204 420h21v3h-21zM423 420h3v3h-3zM570 420h3v3h-3zM144 423h3v3h-3zM204 423h12v3h-12zM420 423h6v3h-6zM570 423h3v3h-3zM144 426h6v3h-6zM420 426h6v3h-6zM570 426h3v3h-3zM147 429h6v3h-6zM417 429h6v3h-6zM567 429h6v3h-6zM147 432h9v3h-9zM417 432h6v3h-6zM567 432h6v3h-6zM150 435h6v3h-6zM414 435h6v3h-6zM567 435h6v3h-6zM153 438h6v3h-6zM414 438h6v3h-6zM564 438h6v3h-6zM156 441h3v3h-3zM411 441h6v3h-6zM564 441h6v3h-6zM156 444h6v3h-6zM408 444h9v3h-9zM564 444h6v3h-6zM159 447h9v3h-9zM405 447h9v3h-9zM561 447h9v3h-9zM165 450h6v3h-6zM405 450h6v3h-6zM561 450h6v3h-6zM168 453h6v3h-6zM402 453h9v3h-9zM558 453h9v3h-9zM171 456h3v3h-3zM399 456h9v3h-9zM558 456h9v3h-9zM171 459h6v3h-6zM396 459h9v3h-9zM558 459h6v3h-6zM174 462h9v3h-9zM393 462h9v3h-9zM555 462h9v3h-9zM180 465h6v3h-6zM387 465h12v3h-12zM555 465h9v3h-9zM183 468h9v3h-9zM384 468h12v3h-12zM552 468h9v3h-9zM186 471h6v3h-6zM375 471h18v3h-18zM549 471h12v3h-12zM189 474h6v3h-6zM366 474h24v3h-24zM549 474h12v3h-12zM189 477h9v3h-9zM360 477h24v3h-24zM546 477h15v3h-15zM192 480h9v3h-9zM354 480h24v3h-24zM546 480h15v3h-15zM195 483h15v3h-15zM348 483h24v3h-24zM543 483h18v3h-18zM198 486h168v3h-168zM540 486h21v3h-21zM204 489h156v3h-156zM495 489h33v3h-33zM540 489h21v3h-21zM213 492h141v3h-141zM486 492h48v3h-48zM537 492h24v3h-24zM255 495h24v3h-24zM480 495h84v3h-84zM261 498h12v3h-12zM477 498h87v3h-87zM477 501h87v3h-87zM477 504h87v3h-87zM477 507h84v3h-84zM477 510h51v3h-51zM546 510h15v3h-15zM477 513h48v3h-48zM546 513h18v3h-18zM480 516h42v3h-42zM546 516h21v3h-21zM480 519h39v3h-39zM549 519h18v3h-18zM483 522h33v3h-33zM549 522h18v3h-18zM489 525h24v3h-24zM552 525h18v3h-18zM552 528h18v3h-18zM555 531h15v3h-15zM555 534h18v3h-18zM558 537h15v3h-15zM558 540h18v3h-18zM561 543h18v3h-18zM564 546h30v3h-30zM564 549h33v3h-33zM567 552h36v3h-36zM570 555h36v3h-36zM573 558h36v3h-36zM579 561h30v3h-30zM582 564h30v3h-30zM582 567h33v3h-33zM585 570h30v3h-30z"/>
<path fill="#0062ff" d="M333 36h108v3h-108zM543 36h9v3h-9zM624 36h15v3h-15zM327 39h117v3h-117zM543 39h6v3h-6zM624 39h15v3h-15zM324 42h123v3h-123zM543 42h6v3h-6zM621 42h18v3h-18zM321 45h132v3h-132zM543 45h6v3h-6zM621 45h18v3h-18zM321 48h135v3h-135zM540 48h9v3h-9zM612 48h24v3h-24zM318 51h51v3h-51zM405 51h54v3h-54zM540 51h9v3h-9zM609 51h21v3h-21zM315 54h45v3h-45zM414 54h48v3h-48zM534 54h15v3h-15zM606 54h18v3h-18zM312 57h42v3h-42zM420 57h45v3h-45zM501 57h48v3h-48zM603 57h15v3h-15zM312 60h36v3h-36zM426 60h42v3h-42zM498 60h51v3h-51zM600 60h12v3h-12zM309 63h36v3h-36zM432 63h39v3h-39zM492 63h57v3h-57zM597 63h12v3h-12zM309 66h30v3h-30zM438 66h36v3h-36zM489 66h12v3h-12zM504 66h48v3h-48zM594 66h12v3h-12zM306 69h30v3h-30zM441 69h36v3h-36zM486 69h15v3h-15zM591 69h12v3h-12zM306 72h27v3h-27zM444 72h36v3h-36zM486 72h15v3h-15zM591 72h9v3h-9zM303 75h27v3h-27zM450 75h48v3h-48zM588 75h9v3h-9zM303 78h24v3h-24zM453 78h45v3h-45zM582 78h9v3h-9zM636 78h3v3h-3zM300 81h27v3h-27zM456 81h39v3h-39zM579 81h6v3h-6zM627 81h12v3h-12zM300 84h24v3h-24zM459 84h30v3h-30zM576 84h6v3h-6zM621 84h15v3h-15zM300 87h21v3h-21zM465 87h18v3h-18zM573 87h6v3h-6zM618 87h9v3h-9zM297 90h24v3h-24zM468 90h9v3h-9zM570 90h9v3h-9zM615 90h9v3h-9zM297 93h21v3h-21zM570 93h9v3h-9zM615 93h6v3h-6zM297 96h21v3h-21zM570 96h9v3h-9zM612 96h9v3h-9zM297 99h18v3h-18zM570 99h9v3h-9zM612 99h6v3h-6zM297 102h18v3h-18zM570 102h12v3h-12zM612 102h6v3h-6zM297 105h18v3h-18zM570 105h12v3h-12zM609 105h9v3h-9zM294 108h18v3h-18zM573 108h12v3h-12zM609 108h6v3h-6zM294 111h18v3h-18zM576 111h9v3h-9zM606 111h6v3h-6zM294 114h18v3h-18zM579 114h9v3h-9zM594 114h15v3h-15zM294 117h15v3h-15zM585 117h15v3h-15zM294 120h15v3h-15zM294 123h15v3h-15zM294 126h15v3h-15zM294 129h15v3h-15zM294 132h15v3h-15zM297 135h12v3h-12zM297 138h12v3h-12zM477 138h21v3h-21zM297 141h12v3h-12zM471 141h30v3h-30zM297 144h12v3h-12zM468 144h3v3h-3zM492 144h15v3h-15zM297 147h12v3h-12zM465 147h3v3h-3zM498 147h9v3h-9zM297 150h12v3h-12zM462 150h3v3h-3zM498 150h9v3h-9zM297 153h12v3h-12zM462 153h3v3h-3zM498 153h9v3h-9zM300 156h9v3h-9zM459 156h3v3h-3zM498 156h9v3h-9zM300 159h9v3h-9zM459 159h3v3h-3zM498 159h9v3h-9zM300 162h9v3h-9zM498 162h9v3h-9zM300 165h9v3h-9zM462 165h3v3h-3zM495 165h9v3h-9zM300 168h9v3h-9zM462 168h3v3h-3zM495 168h6v3h-6zM303 171h6v3h-6zM465 171h3v3h-3zM492 171h6v3h-6zM303 174h6v3h-6zM468 174h27v3h-27zM303 177h6v3h-6zM303 180h6v3h-6zM303 183h6v3h-6zM303 186h6v3h-6zM303 189h6v3h-6zM303 192h6v3h-6zM303 195h6v3h-6zM303 198h6v3h-6zM303 201h3v3h-3zM303 204h3v3h-3zM303 207h3v3h-3zM303 210h3v3h-3zM300 213h3v3h-3zM300 216h3v3h-3zM300 219h3v3h-3zM300 222h3v3h-3zM300 225h3v3h-3zM300 228h3v3h-3zM297 231h6v3h-6zM492 231h9v3h-9zM297 234h3v3h-3zM486 234h18v3h-18zM297 237h6v3h-6zM483 237h21v3h-21zM297 240h6v3h-6zM483 240h9v3h-9zM498 240h6v3h-6zM297 243h6v3h-6zM480 243h12v3h-12zM498 243h9v3h-9zM297 246h6v3h-6zM480 246h9v3h-9zM498 246h9v3h-9zM297 249h6v3h-6zM477 249h9v3h-9zM498 249h9v3h-9zM300 252h6v3h-6zM474 252h12v3h-12zM495 252h12v3h-12zM300 255h6v3h-6zM384 255h6v3h-6zM474 255h9v3h-9zM495 255h12v3h-12zM300 258h6v3h-6zM381 258h12v3h-12zM474 258h9v3h-9zM492 258h12v3h-12zM300 261h6v3h-6zM381 261h12v3h-12zM474 261h9v3h-9zM492 261h12v3h-12zM300 264h6v3h-6zM381 264h12v3h-12zM474 264h9v3h-9zM489 264h15v3h-15zM300 267h6v3h-6zM381 267h9v3h-9zM474 267h9v3h-9zM489 267h15v3h-15zM300 270h9v3h-9zM474 270h27v3h-27zM300 273h9v3h-9zM474 273h27v3h-27zM303 276h6v3h-6zM474 276h30v3h-30zM303 279h9v3h-9zM474 279h30v3h-30zM303 282h9v3h-9zM477 282h27v3h-27zM303 285h9v3h-9zM477 285h27v3h-27zM303 288h9v3h-9zM480 288h27v3h-27zM303 291h12v3h-12zM480 291h30v3h-30zM303 294h12v3h-12zM480 294h30v3h-30zM303 297h15v3h-15zM480 297h15v3h-15zM498 297h15v3h-15zM300 300h18v3h-18zM369 300h9v3h-9zM480 300h12v3h-12zM507 300h6v3h-6zM300 303h21v3h-21zM369 303h9v3h-9zM480 303h9v3h-9zM507 303h6v3h-6zM297 306h27v3h-27zM369 306h9v3h-9zM477 306h9v3h-9zM507 306h6v3h-6zM297 309h30v3h-30zM366 309h12v3h-12zM477 309h9v3h-9zM510 309h6v3h-6zM297 312h36v3h-36zM366 312h12v3h-12zM477 312h6v3h-6zM513 312h6v3h-6zM297 315h54v3h-54zM366 315h12v3h-12zM474 315h6v3h-6zM516 315h12v3h-12zM297 318h81v3h-81zM474 318h6v3h-6zM522 318h12v3h-12zM297 321h81v3h-81zM474 321h3v3h-3zM531 321h9v3h-9zM297 324h18v3h-18zM336 324h42v3h-42zM471 324h6v3h-6zM537 324h6v3h-6zM294 327h24v3h-24zM339 327h39v3h-39zM471 327h3v3h-3zM543 327h3v3h-3zM294 330h24v3h-24zM339 330h42v3h-42zM468 330h6v3h-6zM546 330h3v3h-3zM294 333h24v3h-24zM339 333h42v3h-42zM468 333h3v3h-3zM549 333h3v3h-3zM294 336h24v3h-24zM339 336h39v3h-39zM468 336h3v3h-3zM549 336h3v3h-3zM294 339h27v3h-27zM336 339h39v3h-39zM465 339h6v3h-6zM552 339h3v3h-3zM294 342h84v3h-84zM465 342h3v3h-3zM552 342h6v3h-6zM294 345h84v3h-84zM465 345h3v3h-3zM555 345h6v3h-6zM294 348h81v3h-81zM465 348h3v3h-3zM558 348h3v3h-3zM294 351h78v3h-78zM462 351h6v3h-6zM558 351h6v3h-6zM294 354h18v3h-18zM321 354h30v3h-30zM462 354h3v3h-3zM561 354h6v3h-6zM294 357h9v3h-9zM459 357h6v3h-6zM564 357h6v3h-6zM294 360h6v3h-6zM459 360h3v3h-3zM567 360h3v3h-3zM294 363h3v3h-3zM456 363h6v3h-6zM567 363h3v3h-3zM153 366h24v3h-24zM291 366h6v3h-6zM453 366h6v3h-6zM567 366h3v3h-3zM150 369h33v3h-33zM291 369h3v3h-3zM453 369h6v3h-6zM567 369h6v3h-6zM147 372h39v3h-39zM288 372h6v3h-6zM450 372h6v3h-6zM570 372h3v3h-3zM147 375h15v3h-15zM168 375h18v3h-18zM285 375h6v3h-6zM450 375h3v3h-3zM570 375h3v3h-3zM147 378h12v3h-12zM174 378h15v3h-15zM282 378h6v3h-6zM447 378h6v3h-6zM570 378h3v3h-3zM147 381h12v3h-12zM180 381h9v3h-9zM279 381h3v3h-3zM444 381h6v3h-6zM570 381h6v3h-6zM147 384h9v3h-9zM180 384h9v3h-9zM276 384h3v3h-3zM441 384h9v3h-9zM573 384h3v3h-3zM147 387h9v3h-9zM180 387h9v3h-9zM273 387h6v3h-6zM438 387h9v3h-9zM573 387h3v3h-3zM147 390h9v3h-9zM180 390h9v3h-9zM270 390h6v3h-6zM438 390h6v3h-6zM573 390h3v3h-3zM147 393h9v3h-9zM180 393h9v3h-9zM267 393h6v3h-6zM435 393h6v3h-6zM573 393h3v3h-3zM147 396h9v3h-9zM180 396h9v3h-9zM261 396h6v3h-6zM432 396h6v3h-6zM573 396h3v3h-3zM147 399h9v3h-9zM180 399h12v3h-12zM255 399h6v3h-6zM429 399h6v3h-6zM573 399h3v3h-3zM147 402h9v3h-9zM183 402h9v3h-9zM252 402h3v3h-3zM426 402h6v3h-6zM573 402h3v3h-3zM147 405h9v3h-9zM186 405h9v3h-9zM246 405h6v3h-6zM423 405h6v3h-6zM573 405h3v3h-3zM147 408h9v3h-9zM189 408h9v3h-9zM243 408h6v3h-6zM420 408h6v3h-6zM573 408h6v3h-6zM147 411h9v3h-9zM192 411h12v3h-12zM240 411h6v3h-6zM420 411h6v3h-6zM573 411h6v3h-6zM147 414h9v3h-9zM195 414h9v3h-9zM237 414h6v3h-6zM420 414h3v3h-3zM573 414h6v3h-6zM147 417h9v3h-9zM198 417h6v3h-6zM234 417h6v3h-6zM417 417h6v3h-6zM573 417h6v3h-6zM147 420h9v3h-9zM201 420h3v3h-3zM225 420h12v3h-12zM417 420h6v3h-6zM573 420h6v3h-6zM147 423h12v3h-12zM201 423h3v3h-3zM216 423h15v3h-15zM417 423h3v3h-3zM573 423h6v3h-6zM150 426h9v3h-9zM204 426h21v3h-21zM414 426h6v3h-6zM573 426h6v3h-6zM153 429h9v3h-9zM207 429h6v3h-6zM414 429h3v3h-3zM573 429h6v3h-6zM156 432h6v3h-6zM411 432h6v3h-6zM573 432h6v3h-6zM156 435h9v3h-9zM408 435h6v3h-6zM573 435h3v3h-3zM159 438h6v3h-6zM405 438h9v3h-9zM570 438h6v3h-6zM159 441h9v3h-9zM402 441h9v3h-9zM570 441h6v3h-6zM162 444h9v3h-9zM399 444h9v3h-9zM570 444h6v3h-6zM168 447h6v3h-6zM396 447h9v3h-9zM570 447h6v3h-6zM171 450h6v3h-6zM393 450h12v3h-12zM567 450h9v3h-9zM174 453h6v3h-6zM390 453h12v3h-12zM567 453h6v3h-6zM174 456h12v3h-12zM387 456h12v3h-12zM567 456h6v3h-6zM177 459h12v3h-12zM384 459h12v3h-12zM564 459h9v3h-9zM183 462h12v3h-12zM378 462h15v3h-15zM564 462h9v3h-9zM186 465h15v3h-15zM369 465h18v3h-18zM564 465h9v3h-9zM192 468h9v3h-9zM360 468h24v3h-24zM561 468h9v3h-9zM192 471h12v3h-12zM354 471h21v3h-21zM561 471h9v3h-9zM195 474h15v3h-15zM345 474h21v3h-21zM561 474h9v3h-9zM198 477h42v3h-42zM261 477h99v3h-99zM561 477h9v3h-9zM201 480h153v3h-153zM561 480h12v3h-12zM210 483h138v3h-138zM561 483h18v3h-18zM561 486h21v3h-21zM561 489h21v3h-21zM561 492h24v3h-24zM564 495h21v3h-21zM564 498h21v3h-21zM564 501h21v3h-21zM564 504h21v3h-21zM561 507h24v3h-24zM561 510h24v3h-24zM564 513h21v3h-21zM567 516h21v3h-21zM567 519h21v3h-21zM567 522h21v3h-21zM570 525h18v3h-18zM570 528h54v3h-54zM570 531h57v3h-57zM573 534h57v3h-57zM573 537h60v3h-60zM576 540h60v3h-60zM579 543h60v3h-60zM594 546h45v3h-45zM597 549h42v3h-42zM603 552h36v3h-36zM606 555h33v3h-33zM609 558h30v3h-30zM609 561h30v3h-30zM612 564h27v3h-27zM615 567h24v3h-24zM615 570h24v3h-24z"/>
<path fill="#006eff" d="M552 36h9v3h-9zM597 36h27v3h-27zM549 39h9v3h-9zM597 39h27v3h-27zM549 42h6v3h-6zM597 42h24v3h-24zM549 45h6v3h-6zM597 45h24v3h-24zM549 48h6v3h-6zM594 48h18v3h-18zM369 51h36v3h-36zM549 51h6v3h-6zM594 51h15v3h-15zM360 54h54v3h-54zM549 54h6v3h-6zM591 54h15v3h-15zM354 57h66v3h-66zM549 57h9v3h-9zM591 57h12v3h-12zM348 60h78v3h-78zM549 60h9v3h-9zM588 60h12v3h-12zM345 63h87v3h-87zM549 63h9v3h-9zM588 63h9v3h-9zM339 66h99v3h-99zM501 66h3v3h-3zM552 66h6v3h-6zM585 66h9v3h-9zM336 69h105v3h-105zM501 69h57v3h-57zM582 69h9v3h-9zM333 72h111v3h-111zM501 72h57v3h-57zM579 72h12v3h-12zM330 75h42v3h-42zM408 75h42v3h-42zM498 75h60v3h-60zM576 75h12v3h-12zM327 78h36v3h-36zM417 78h36v3h-36zM498 78h60v3h-60zM570 78h12v3h-12zM327 81h30v3h-30zM423 81h33v3h-33zM495 81h66v3h-66zM567 81h12v3h-12zM324 84h27v3h-27zM429 84h30v3h-30zM489 84h87v3h-87zM636 84h3v3h-3zM321 87h27v3h-27zM435 87h30v3h-30zM483 87h90v3h-90zM627 87h12v3h-12zM321 90h24v3h-24zM441 90h27v3h-27zM477 90h93v3h-93zM624 90h9v3h-9zM318 93h24v3h-24zM444 93h54v3h-54zM516 93h54v3h-54zM621 93h9v3h-9zM318 96h21v3h-21zM450 96h45v3h-45zM525 96h45v3h-45zM621 96h6v3h-6zM315 99h21v3h-21zM453 99h39v3h-39zM531 99h12v3h-12zM549 99h21v3h-21zM618 99h9v3h-9zM315 102h18v3h-18zM459 102h30v3h-30zM555 102h15v3h-15zM618 102h9v3h-9zM315 105h18v3h-18zM462 105h24v3h-24zM558 105h12v3h-12zM618 105h9v3h-9zM312 108h18v3h-18zM468 108h15v3h-15zM558 108h15v3h-15zM615 108h12v3h-12zM312 111h15v3h-15zM561 111h15v3h-15zM612 111h9v3h-9zM312 114h15v3h-15zM567 114h12v3h-12zM609 114h9v3h-9zM309 117h15v3h-15zM570 117h15v3h-15zM600 117h12v3h-12zM309 120h15v3h-15zM576 120h24v3h-24zM309 123h15v3h-15zM501 123h18v3h-18zM309 126h12v3h-12zM492 126h30v3h-30zM309 129h12v3h-12zM483 129h42v3h-42zM309 132h12v3h-12zM477 132h54v3h-54zM309 135h12v3h-12zM474 135h66v3h-66zM309 138h9v3h-9zM471 138h6v3h-6zM498 138h48v3h-48zM309 141h9v3h-9zM468 141h3v3h-3zM501 141h48v3h-48zM309 144h9v3h-9zM462 144h6v3h-6zM507 144h39v3h-39zM309 147h9v3h-9zM462 147h3v3h-3zM507 147h36v3h-36zM309 150h9v3h-9zM459 150h3v3h-3zM507 150h33v3h-33zM309 153h9v3h-9zM459 153h3v3h-3zM507 153h27v3h-27zM309 156h9v3h-9zM456 156h3v3h-3zM507 156h21v3h-21zM309 159h9v3h-9zM456 159h3v3h-3zM507 159h15v3h-15zM309 162h9v3h-9zM459 162h3v3h-3zM507 162h12v3h-12zM309 165h9v3h-9zM459 165h3v3h-3zM504 165h12v3h-12zM309 168h9v3h-9zM459 168h3v3h-3zM501 168h12v3h-12zM309 171h9v3h-9zM459 171h6v3h-6zM498 171h9v3h-9zM309 174h9v3h-9zM462 174h6v3h-6zM495 174h6v3h-6zM309 177h6v3h-6zM462 177h36v3h-36zM309 180h6v3h-6zM480 180h6v3h-6zM309 183h6v3h-6zM309 186h6v3h-6zM309 189h6v3h-6zM309 192h6v3h-6zM309 195h6v3h-6zM309 198h3v3h-3zM306 201h6v3h-6zM306 204h6v3h-6zM306 207h3v3h-3zM306 210h3v3h-3zM303 213h6v3h-6zM303 216h3v3h-3zM303 219h3v3h-3zM303 222h3v3h-3zM303 225h3v3h-3zM303 228h3v3h-3zM486 228h18v3h-18zM303 231h3v3h-3zM483 231h9v3h-9zM501 231h6v3h-6zM300 234h6v3h-6zM480 234h6v3h-6zM504 234h3v3h-3zM303 237h3v3h-3zM480 237h3v3h-3zM504 237h3v3h-3zM303 240h3v3h-3zM477 240h6v3h-6zM504 240h6v3h-6zM303 243h3v3h-3zM477 243h3v3h-3zM507 243h3v3h-3zM303 246h3v3h-3zM384 246h6v3h-6zM474 246h6v3h-6zM507 246h6v3h-6zM303 249h6v3h-6zM378 249h18v3h-18zM471 249h6v3h-6zM507 249h6v3h-6zM306 252h3v3h-3zM375 252h21v3h-21zM471 252h3v3h-3zM507 252h6v3h-6zM306 255h6v3h-6zM375 255h9v3h-9zM390 255h9v3h-9zM471 255h3v3h-3zM507 255h6v3h-6zM306 258h6v3h-6zM372 258h9v3h-9zM393 258h6v3h-6zM471 258h3v3h-3zM504 258h9v3h-9zM306 261h6v3h-6zM372 261h9v3h-9zM393 261h6v3h-6zM471 261h3v3h-3zM504 261h6v3h-6zM306 264h6v3h-6zM372 264h9v3h-9zM393 264h9v3h-9zM471 264h3v3h-3zM504 264h6v3h-6zM306 267h6v3h-6zM372 267h9v3h-9zM390 267h12v3h-12zM471 267h3v3h-3zM504 267h6v3h-6zM309 270h6v3h-6zM372 270h27v3h-27zM471 270h3v3h-3zM501 270h9v3h-9zM309 273h6v3h-6zM375 273h21v3h-21zM471 273h3v3h-3zM501 273h9v3h-9zM309 276h9v3h-9zM378 276h15v3h-15zM471 276h3v3h-3zM504 276h9v3h-9zM312 279h6v3h-6zM378 279h12v3h-12zM471 279h3v3h-3zM504 279h9v3h-9zM312 282h6v3h-6zM381 282h9v3h-9zM471 282h6v3h-6zM504 282h9v3h-9zM312 285h9v3h-9zM471 285h6v3h-6zM504 285h12v3h-12zM312 288h9v3h-9zM474 288h6v3h-6zM507 288h9v3h-9zM315 291h9v3h-9zM474 291h6v3h-6zM510 291h9v3h-9zM315 294h9v3h-9zM372 294h3v3h-3zM378 294h3v3h-3zM471 294h9v3h-9zM510 294h9v3h-9zM318 297h9v3h-9zM366 297h18v3h-18zM471 297h9v3h-9zM513 297h6v3h-6zM318 300h12v3h-12zM366 300h3v3h-3zM378 300h6v3h-6zM471 300h9v3h-9zM513 300h6v3h-6zM321 303h12v3h-12zM363 303h6v3h-6zM378 303h6v3h-6zM471 303h9v3h-9zM513 303h6v3h-6zM324 306h12v3h-12zM357 306h12v3h-12zM378 306h9v3h-9zM471 306h6v3h-6zM513 306h6v3h-6zM327 309h39v3h-39zM378 309h9v3h-9zM471 309h6v3h-6zM516 309h9v3h-9zM333 312h33v3h-33zM378 312h9v3h-9zM471 312h6v3h-6zM519 312h15v3h-15zM351 315h15v3h-15zM378 315h12v3h-12zM471 315h3v3h-3zM528 315h12v3h-12zM378 318h15v3h-15zM468 318h6v3h-6zM534 318h12v3h-12zM378 321h18v3h-18zM468 321h6v3h-6zM540 321h9v3h-9zM378 324h18v3h-18zM468 324h3v3h-3zM543 324h9v3h-9zM378 327h21v3h-21zM465 327h6v3h-6zM546 327h6v3h-6zM381 330h18v3h-18zM465 330h3v3h-3zM549 330h6v3h-6zM381 333h21v3h-21zM462 333h6v3h-6zM552 333h6v3h-6zM378 336h27v3h-27zM462 336h6v3h-6zM552 336h6v3h-6zM375 339h30v3h-30zM462 339h3v3h-3zM555 339h6v3h-6zM378 342h27v3h-27zM462 342h3v3h-3zM558 342h6v3h-6zM378 345h27v3h-27zM459 345h6v3h-6zM561 345h6v3h-6zM375 348h30v3h-30zM459 348h6v3h-6zM561 348h9v3h-9zM372 351h33v3h-33zM459 351h3v3h-3zM564 351h6v3h-6zM312 354h9v3h-9zM351 354h54v3h-54zM456 354h6v3h-6zM567 354h6v3h-6zM303 357h102v3h-102zM453 357h6v3h-6zM570 357h3v3h-3zM300 360h102v3h-102zM453 360h6v3h-6zM570 360h3v3h-3zM297 363h21v3h-21zM327 363h45v3h-45zM378 363h21v3h-21zM450 363h6v3h-6zM570 363h3v3h-3zM297 366h9v3h-9zM447 366h6v3h-6zM570 366h6v3h-6zM294 369h9v3h-9zM444 369h9v3h-9zM573 369h3v3h-3zM294 372h6v3h-6zM441 372h9v3h-9zM573 372h3v3h-3zM162 375h6v3h-6zM291 375h6v3h-6zM441 375h9v3h-9zM573 375h3v3h-3zM159 378h15v3h-15zM288 378h6v3h-6zM438 378h9v3h-9zM573 378h6v3h-6zM159 381h21v3h-21zM282 381h6v3h-6zM435 381h9v3h-9zM576 381h3v3h-3zM156 384h24v3h-24zM279 384h6v3h-6zM432 384h9v3h-9zM576 384h3v3h-3zM156 387h24v3h-24zM279 387h3v3h-3zM432 387h6v3h-6zM576 387h3v3h-3zM156 390h24v3h-24zM276 390h3v3h-3zM429 390h9v3h-9zM576 390h3v3h-3zM156 393h24v3h-24zM273 393h3v3h-3zM426 393h9v3h-9zM576 393h3v3h-3zM156 396h24v3h-24zM267 396h6v3h-6zM423 396h9v3h-9zM576 396h3v3h-3zM156 399h24v3h-24zM261 399h6v3h-6zM420 399h9v3h-9zM576 399h6v3h-6zM156 402h27v3h-27zM255 402h6v3h-6zM417 402h9v3h-9zM576 402h6v3h-6zM156 405h30v3h-30zM252 405h3v3h-3zM414 405h9v3h-9zM576 405h6v3h-6zM156 408h33v3h-33zM249 408h3v3h-3zM414 408h6v3h-6zM579 408h3v3h-3zM156 411h36v3h-36zM246 411h3v3h-3zM411 411h9v3h-9zM579 411h3v3h-3zM156 414h39v3h-39zM243 414h3v3h-3zM411 414h9v3h-9zM579 414h6v3h-6zM156 417h42v3h-42zM240 417h6v3h-6zM411 417h6v3h-6zM579 417h6v3h-6zM156 420h45v3h-45zM237 420h6v3h-6zM411 420h6v3h-6zM579 420h6v3h-6zM159 423h42v3h-42zM231 423h9v3h-9zM411 423h6v3h-6zM579 423h6v3h-6zM159 426h21v3h-21zM198 426h6v3h-6zM225 426h12v3h-12zM408 426h6v3h-6zM579 426h6v3h-6zM162 429h18v3h-18zM198 429h9v3h-9zM213 429h18v3h-18zM405 429h9v3h-9zM579 429h6v3h-6zM162 432h18v3h-18zM198 432h30v3h-30zM402 432h9v3h-9zM579 432h6v3h-6zM165 435h15v3h-15zM198 435h15v3h-15zM396 435h12v3h-12zM576 435h9v3h-9zM165 438h18v3h-18zM201 438h9v3h-9zM393 438h12v3h-12zM576 438h9v3h-9zM168 441h21v3h-21zM201 441h6v3h-6zM390 441h12v3h-12zM576 441h9v3h-9zM171 444h36v3h-36zM384 444h15v3h-15zM576 444h9v3h-9zM174 447h36v3h-36zM381 447h15v3h-15zM576 447h9v3h-9zM177 450h36v3h-36zM378 450h15v3h-15zM576 450h6v3h-6zM180 453h39v3h-39zM375 453h15v3h-15zM573 453h9v3h-9zM186 456h39v3h-39zM372 456h15v3h-15zM573 456h9v3h-9zM189 459h42v3h-42zM366 459h18v3h-18zM573 459h9v3h-9zM195 462h39v3h-39zM357 462h21v3h-21zM573 462h9v3h-9zM201 465h36v3h-36zM345 465h24v3h-24zM573 465h9v3h-9zM201 468h42v3h-42zM276 468h84v3h-84zM570 468h15v3h-15zM204 471h150v3h-150zM570 471h15v3h-15zM210 474h135v3h-135zM570 474h15v3h-15zM240 477h21v3h-21zM570 477h18v3h-18zM573 480h18v3h-18zM579 483h15v3h-15zM582 486h15v3h-15zM582 489h18v3h-18zM585 492h21v3h-21zM585 495h51v3h-51zM585 498h54v3h-54zM585 501h54v3h-54zM585 504h54v3h-54zM585 507h54v3h-54zM585 510h54v3h-54zM585 513h54v3h-54zM588 516h51v3h-51zM588 519h51v3h-51zM588 522h51v3h-51zM588 525h51v3h-51zM624 528h15v3h-15zM627 531h12v3h-12zM630 534h9v3h-9zM633 537h6v3h-6zM636 540h3v3h-3z"/>
<path fill="#007cff" d="M561 36h36v3h-36zM558 39h39v3h-39zM555 42h12v3h-12zM576 42h21v3h-21zM555 45h9v3h-9zM579 45h18v3h-18zM555 48h6v3h-6zM579 48h15v3h-15zM555 51h9v3h-9zM579 51h15v3h-15zM555 54h9v3h-9zM579 54h12v3h-12zM558 57h9v3h-9zM579 57h12v3h-12zM558 60h9v3h-9zM579 60h9v3h-9zM558 63h12v3h-12zM576 63h12v3h-12zM558 66h27v3h-27zM558 69h24v3h-24zM558 72h21v3h-21zM372 75h36v3h-36zM558 75h18v3h-18zM363 78h54v3h-54zM558 78h12v3h-12zM357 81h66v3h-66zM561 81h6v3h-6zM351 84h78v3h-78zM348 87h87v3h-87zM345 90h96v3h-96zM633 90h6v3h-6zM342 93h39v3h-39zM402 93h42v3h-42zM498 93h18v3h-18zM630 93h9v3h-9zM339 96h30v3h-30zM414 96h36v3h-36zM495 96h30v3h-30zM627 96h12v3h-12zM336 99h27v3h-27zM423 99h30v3h-30zM492 99h39v3h-39zM543 99h6v3h-6zM627 99h12v3h-12zM333 102h24v3h-24zM429 102h30v3h-30zM489 102h66v3h-66zM627 102h12v3h-12zM333 105h21v3h-21zM435 105h27v3h-27zM486 105h72v3h-72zM627 105h12v3h-12zM330 108h18v3h-18zM441 108h27v3h-27zM483 108h75v3h-75zM627 108h12v3h-12zM327 111h18v3h-18zM447 111h114v3h-114zM621 111h18v3h-18zM327 114h18v3h-18zM453 114h90v3h-90zM546 114h21v3h-21zM618 114h21v3h-21zM324 117h18v3h-18zM459 117h81v3h-81zM543 117h27v3h-27zM612 117h27v3h-27zM324 120h15v3h-15zM468 120h72v3h-72zM543 120h33v3h-33zM600 120h39v3h-39zM324 123h12v3h-12zM474 123h27v3h-27zM519 123h18v3h-18zM540 123h78v3h-78zM321 126h15v3h-15zM471 126h21v3h-21zM522 126h78v3h-78zM321 129h12v3h-12zM468 129h15v3h-15zM525 129h42v3h-42zM573 129h9v3h-9zM591 129h6v3h-6zM321 132h12v3h-12zM468 132h9v3h-9zM531 132h36v3h-36zM321 135h9v3h-9zM465 135h9v3h-9zM540 135h24v3h-24zM318 138h12v3h-12zM465 138h6v3h-6zM546 138h18v3h-18zM318 141h12v3h-12zM459 141h9v3h-9zM549 141h15v3h-15zM318 144h9v3h-9zM456 144h6v3h-6zM546 144h18v3h-18zM318 147h9v3h-9zM456 147h6v3h-6zM543 147h21v3h-21zM318 150h9v3h-9zM456 150h3v3h-3zM540 150h21v3h-21zM318 153h9v3h-9zM453 153h6v3h-6zM534 153h21v3h-21zM585 153h3v3h-3zM603 153h3v3h-3zM618 153h6v3h-6zM636 153h3v3h-3zM318 156h9v3h-9zM453 156h3v3h-3zM528 156h27v3h-27zM585 156h6v3h-6zM600 156h9v3h-9zM615 156h15v3h-15zM633 156h6v3h-6zM318 159h6v3h-6zM453 159h3v3h-3zM522 159h33v3h-33zM585 159h54v3h-54zM318 162h6v3h-6zM456 162h3v3h-3zM519 162h39v3h-39zM585 162h54v3h-54zM318 165h6v3h-6zM516 165h42v3h-42zM582 165h57v3h-57zM318 168h6v3h-6zM456 168h3v3h-3zM513 168h21v3h-21zM540 168h21v3h-21zM582 168h57v3h-57zM318 171h6v3h-6zM453 171h6v3h-6zM507 171h12v3h-12zM558 171h78v3h-78zM318 174h6v3h-6zM453 174h9v3h-9zM501 174h12v3h-12zM558 174h42v3h-42zM606 174h30v3h-30zM315 177h9v3h-9zM453 177h9v3h-9zM498 177h9v3h-9zM558 177h39v3h-39zM612 177h21v3h-21zM315 180h9v3h-9zM456 180h24v3h-24zM486 180h15v3h-15zM555 180h42v3h-42zM618 180h15v3h-15zM315 183h9v3h-9zM459 183h36v3h-36zM555 183h39v3h-39zM618 183h18v3h-18zM315 186h6v3h-6zM465 186h6v3h-6zM555 186h39v3h-39zM621 186h15v3h-15zM315 189h6v3h-6zM558 189h45v3h-45zM618 189h18v3h-18zM315 192h6v3h-6zM567 192h39v3h-39zM615 192h21v3h-21zM315 195h6v3h-6zM570 195h36v3h-36zM609 195h24v3h-24zM312 198h6v3h-6zM570 198h63v3h-63zM312 201h6v3h-6zM570 201h66v3h-66zM312 204h3v3h-3zM570 204h66v3h-66zM309 207h3v3h-3zM570 207h66v3h-66zM309 210h3v3h-3zM570 210h66v3h-66zM309 213h3v3h-3zM567 213h69v3h-69zM306 216h3v3h-3zM564 216h72v3h-72zM306 219h3v3h-3zM561 219h75v3h-75zM306 222h3v3h-3zM555 222h81v3h-81zM306 225h3v3h-3zM480 225h24v3h-24zM561 225h75v3h-75zM306 228h3v3h-3zM477 228h9v3h-9zM504 228h3v3h-3zM570 228h66v3h-66zM306 231h3v3h-3zM477 231h6v3h-6zM507 231h3v3h-3zM570 231h66v3h-66zM306 234h3v3h-3zM477 234h3v3h-3zM507 234h3v3h-3zM570 234h66v3h-66zM306 237h3v3h-3zM474 237h6v3h-6zM507 237h3v3h-3zM570 237h66v3h-66zM306 240h3v3h-3zM474 240h3v3h-3zM510 240h3v3h-3zM570 240h66v3h-66zM306 243h6v3h-6zM384 243h9v3h-9zM474 243h3v3h-3zM510 243h6v3h-6zM570 243h66v3h-66zM306 246h6v3h-6zM375 246h9v3h-9zM390 246h9v3h-9zM471 246h3v3h-3zM513 246h3v3h-3zM573 246h63v3h-63zM309 249h3v3h-3zM372 249h6v3h-6zM396 249h6v3h-6zM513 249h6v3h-6zM573 249h63v3h-63zM309 252h6v3h-6zM369 252h6v3h-6zM396 252h6v3h-6zM468 252h3v3h-3zM513 252h6v3h-6zM573 252h63v3h-63zM312 255h3v3h-3zM366 255h9v3h-9zM399 255h6v3h-6zM468 255h3v3h-3zM513 255h6v3h-6zM573 255h63v3h-63zM312 258h3v3h-3zM366 258h6v3h-6zM399 258h6v3h-6zM468 258h3v3h-3zM513 258h6v3h-6zM570 258h66v3h-66zM312 261h6v3h-6zM366 261h6v3h-6zM399 261h6v3h-6zM468 261h3v3h-3zM510 261h12v3h-12zM555 261h81v3h-81zM312 264h6v3h-6zM363 264h9v3h-9zM402 264h3v3h-3zM468 264h3v3h-3zM510 264h12v3h-12zM558 264h78v3h-78zM312 267h6v3h-6zM363 267h9v3h-9zM402 267h3v3h-3zM468 267h3v3h-3zM510 267h12v3h-12zM561 267h75v3h-75zM315 270h6v3h-6zM363 270h9v3h-9zM399 270h6v3h-6zM468 270h3v3h-3zM510 270h15v3h-15zM564 270h33v3h-33zM600 270h36v3h-36zM315 273h6v3h-6zM366 273h9v3h-9zM396 273h6v3h-6zM468 273h3v3h-3zM510 273h15v3h-15zM567 273h27v3h-27zM603 273h33v3h-33zM318 276h6v3h-6zM369 276h9v3h-9zM393 276h9v3h-9zM468 276h3v3h-3zM513 276h15v3h-15zM570 276h18v3h-18zM603 276h33v3h-33zM318 279h6v3h-6zM372 279h6v3h-6zM390 279h9v3h-9zM468 279h3v3h-3zM513 279h15v3h-15zM573 279h12v3h-12zM603 279h33v3h-33zM318 282h9v3h-9zM369 282h12v3h-12zM390 282h9v3h-9zM468 282h3v3h-3zM513 282h18v3h-18zM603 282h33v3h-33zM321 285h6v3h-6zM369 285h27v3h-27zM468 285h3v3h-3zM516 285h18v3h-18zM603 285h33v3h-33zM321 288h9v3h-9zM366 288h30v3h-30zM468 288h6v3h-6zM516 288h18v3h-18zM603 288h33v3h-33zM324 291h6v3h-6zM366 291h27v3h-27zM468 291h6v3h-6zM519 291h15v3h-15zM591 291h9v3h-9zM603 291h33v3h-33zM324 294h9v3h-9zM363 294h9v3h-9zM375 294h3v3h-3zM381 294h12v3h-12zM468 294h3v3h-3zM519 294h15v3h-15zM588 294h48v3h-48zM327 297h9v3h-9zM363 297h3v3h-3zM384 297h6v3h-6zM468 297h3v3h-3zM519 297h15v3h-15zM588 297h51v3h-51zM330 300h9v3h-9zM357 300h9v3h-9zM384 300h6v3h-6zM468 300h3v3h-3zM519 300h15v3h-15zM588 300h51v3h-51zM333 303h30v3h-30zM384 303h6v3h-6zM468 303h3v3h-3zM519 303h15v3h-15zM588 303h51v3h-51zM336 306h21v3h-21zM387 306h3v3h-3zM468 306h3v3h-3zM519 306h18v3h-18zM588 306h51v3h-51zM387 309h6v3h-6zM465 309h6v3h-6zM525 309h24v3h-24zM588 309h51v3h-51zM387 312h9v3h-9zM465 312h6v3h-6zM534 312h18v3h-18zM588 312h18v3h-18zM618 312h3v3h-3zM636 312h3v3h-3zM390 315h9v3h-9zM465 315h6v3h-6zM540 315h21v3h-21zM594 315h6v3h-6zM393 318h9v3h-9zM462 318h6v3h-6zM546 318h18v3h-18zM597 318h3v3h-3zM396 321h6v3h-6zM462 321h6v3h-6zM549 321h18v3h-18zM396 324h9v3h-9zM462 324h6v3h-6zM552 324h15v3h-15zM597 324h3v3h-3zM399 327h9v3h-9zM462 327h3v3h-3zM552 327h18v3h-18zM597 327h6v3h-6zM399 330h9v3h-9zM459 330h6v3h-6zM555 330h15v3h-15zM597 330h6v3h-6zM402 333h9v3h-9zM459 333h3v3h-3zM558 333h15v3h-15zM405 336h6v3h-6zM456 336h6v3h-6zM558 336h18v3h-18zM405 339h9v3h-9zM456 339h6v3h-6zM561 339h18v3h-18zM405 342h9v3h-9zM456 342h6v3h-6zM564 342h18v3h-18zM405 345h9v3h-9zM453 345h6v3h-6zM567 345h18v3h-18zM405 348h9v3h-9zM453 348h6v3h-6zM570 348h15v3h-15zM405 351h12v3h-12zM450 351h9v3h-9zM570 351h12v3h-12zM405 354h12v3h-12zM447 354h9v3h-9zM573 354h9v3h-9zM405 357h12v3h-12zM444 357h9v3h-9zM573 357h9v3h-9zM402 360h15v3h-15zM441 360h12v3h-12zM573 360h9v3h-9zM318 363h9v3h-9zM372 363h6v3h-6zM399 363h18v3h-18zM438 363h12v3h-12zM573 363h12v3h-12zM306 366h111v3h-111zM432 366h15v3h-15zM576 366h9v3h-9zM303 369h114v3h-114zM426 369h18v3h-18zM576 369h9v3h-9zM300 372h15v3h-15zM339 372h102v3h-102zM576 372h9v3h-9zM297 375h9v3h-9zM378 375h63v3h-63zM576 375h12v3h-12zM294 378h9v3h-9zM381 378h30v3h-30zM417 378h21v3h-21zM579 378h9v3h-9zM288 381h12v3h-12zM384 381h21v3h-21zM417 381h18v3h-18zM579 381h9v3h-9zM285 384h6v3h-6zM387 384h12v3h-12zM414 384h18v3h-18zM579 384h9v3h-9zM282 387h3v3h-3zM411 387h21v3h-21zM579 387h9v3h-9zM279 390h3v3h-3zM405 390h24v3h-24zM579 390h9v3h-9zM276 393h3v3h-3zM402 393h24v3h-24zM579 393h9v3h-9zM273 396h3v3h-3zM393 396h30v3h-30zM579 396h9v3h-9zM267 399h6v3h-6zM390 399h30v3h-30zM582 399h9v3h-9zM261 402h6v3h-6zM390 402h27v3h-27zM582 402h12v3h-12zM255 405h6v3h-6zM390 405h24v3h-24zM582 405h12v3h-12zM252 408h6v3h-6zM390 408h24v3h-24zM582 408h15v3h-15zM627 408h3v3h-3zM249 411h3v3h-3zM393 411h18v3h-18zM582 411h15v3h-15zM621 411h9v3h-9zM246 414h6v3h-6zM393 414h18v3h-18zM585 414h12v3h-12zM615 414h12v3h-12zM246 417h3v3h-3zM393 417h18v3h-18zM585 417h12v3h-12zM615 417h12v3h-12zM243 420h6v3h-6zM393 420h18v3h-18zM585 420h12v3h-12zM618 420h6v3h-6zM240 423h6v3h-6zM393 423h18v3h-18zM585 423h12v3h-12zM621 423h3v3h-3zM180 426h18v3h-18zM237 426h9v3h-9zM390 426h18v3h-18zM585 426h12v3h-12zM180 429h18v3h-18zM231 429h12v3h-12zM384 429h21v3h-21zM585 429h12v3h-12zM180 432h18v3h-18zM228 432h12v3h-12zM381 432h21v3h-21zM585 432h15v3h-15zM180 435h18v3h-18zM213 435h27v3h-27zM378 435h18v3h-18zM585 435h15v3h-15zM183 438h18v3h-18zM210 438h27v3h-27zM372 438h21v3h-21zM585 438h18v3h-18zM189 441h12v3h-12zM207 441h30v3h-30zM369 441h21v3h-21zM585 441h18v3h-18zM207 444h30v3h-30zM366 444h18v3h-18zM585 444h18v3h-18zM210 447h27v3h-27zM363 447h18v3h-18zM585 447h18v3h-18zM213 450h27v3h-27zM360 450h18v3h-18zM582 450h21v3h-21zM219 453h24v3h-24zM354 453h21v3h-21zM582 453h21v3h-21zM225 456h21v3h-21zM345 456h27v3h-27zM582 456h21v3h-21zM231 459h18v3h-18zM282 459h84v3h-84zM582 459h21v3h-21zM621 459h18v3h-18zM234 462h123v3h-123zM582 462h57v3h-57zM237 465h108v3h-108zM582 465h57v3h-57zM243 468h33v3h-33zM585 468h54v3h-54zM585 471h54v3h-54zM585 474h54v3h-54zM588 477h51v3h-51zM591 480h48v3h-48zM594 483h45v3h-45zM597 486h42v3h-42zM600 489h39v3h-39zM606 492h33v3h-33zM636 495h3v3h-3z"/>
<path fill="#0088ff" d="M567 42h9v3h-9zM564 45h15v3h-15zM561 48h18v3h-18zM564 51h15v3h-15zM564 54h15v3h-15zM567 57h12v3h-12zM567 60h12v3h-12zM570 63h6v3h-6zM381 93h21v3h-21zM369 96h45v3h-45zM363 99h60v3h-60zM357 102h72v3h-72zM354 105h81v3h-81zM348 108h93v3h-93zM345 111h30v3h-30zM405 111h42v3h-42zM345 114h21v3h-21zM414 114h39v3h-39zM543 114h3v3h-3zM342 117h18v3h-18zM423 117h36v3h-36zM540 117h3v3h-3zM339 120h18v3h-18zM426 120h42v3h-42zM540 120h3v3h-3zM336 123h18v3h-18zM432 123h42v3h-42zM537 123h3v3h-3zM618 123h21v3h-21zM336 126h15v3h-15zM438 126h33v3h-33zM600 126h39v3h-39zM333 129h15v3h-15zM441 129h27v3h-27zM567 129h6v3h-6zM582 129h9v3h-9zM597 129h42v3h-42zM333 132h12v3h-12zM444 132h24v3h-24zM567 132h72v3h-72zM330 135h12v3h-12zM444 135h21v3h-21zM564 135h75v3h-75zM330 138h12v3h-12zM444 138h21v3h-21zM564 138h75v3h-75zM330 141h9v3h-9zM444 141h15v3h-15zM564 141h75v3h-75zM327 144h12v3h-12zM444 144h12v3h-12zM564 144h75v3h-75zM327 147h9v3h-9zM441 147h15v3h-15zM564 147h75v3h-75zM327 150h9v3h-9zM438 150h18v3h-18zM561 150h78v3h-78zM327 153h9v3h-9zM438 153h15v3h-15zM555 153h30v3h-30zM588 153h15v3h-15zM606 153h12v3h-12zM624 153h12v3h-12zM327 156h6v3h-6zM435 156h18v3h-18zM555 156h30v3h-30zM591 156h9v3h-9zM609 156h6v3h-6zM630 156h3v3h-3zM324 159h9v3h-9zM435 159h18v3h-18zM555 159h30v3h-30zM324 162h9v3h-9zM435 162h21v3h-21zM558 162h27v3h-27zM324 165h9v3h-9zM438 165h21v3h-21zM558 165h24v3h-24zM324 168h9v3h-9zM438 168h18v3h-18zM534 168h6v3h-6zM561 168h21v3h-21zM324 171h6v3h-6zM438 171h15v3h-15zM519 171h39v3h-39zM636 171h3v3h-3zM324 174h6v3h-6zM438 174h15v3h-15zM513 174h45v3h-45zM600 174h6v3h-6zM636 174h3v3h-3zM324 177h6v3h-6zM441 177h12v3h-12zM507 177h15v3h-15zM531 177h27v3h-27zM597 177h15v3h-15zM633 177h6v3h-6zM324 180h6v3h-6zM444 180h12v3h-12zM501 180h12v3h-12zM537 180h18v3h-18zM597 180h21v3h-21zM633 180h6v3h-6zM324 183h6v3h-6zM447 183h12v3h-12zM495 183h12v3h-12zM540 183h15v3h-15zM594 183h24v3h-24zM636 183h3v3h-3zM321 186h9v3h-9zM450 186h15v3h-15zM471 186h30v3h-30zM540 186h15v3h-15zM594 186h27v3h-27zM636 186h3v3h-3zM321 189h6v3h-6zM450 189h36v3h-36zM540 189h18v3h-18zM603 189h15v3h-15zM636 189h3v3h-3zM321 192h6v3h-6zM453 192h24v3h-24zM543 192h24v3h-24zM606 192h9v3h-9zM636 192h3v3h-3zM321 195h6v3h-6zM456 195h18v3h-18zM543 195h27v3h-27zM606 195h3v3h-3zM633 195h6v3h-6zM318 198h9v3h-9zM456 198h15v3h-15zM543 198h27v3h-27zM633 198h6v3h-6zM318 201h6v3h-6zM456 201h12v3h-12zM543 201h27v3h-27zM636 201h3v3h-3zM315 204h6v3h-6zM456 204h9v3h-9zM543 204h27v3h-27zM636 204h3v3h-3zM312 207h6v3h-6zM456 207h9v3h-9zM543 207h27v3h-27zM636 207h3v3h-3zM312 210h3v3h-3zM453 210h12v3h-12zM543 210h27v3h-27zM636 210h3v3h-3zM312 213h3v3h-3zM453 213h9v3h-9zM540 213h27v3h-27zM636 213h3v3h-3zM309 216h3v3h-3zM537 216h27v3h-27zM636 216h3v3h-3zM309 219h3v3h-3zM477 219h18v3h-18zM537 219h24v3h-24zM636 219h3v3h-3zM309 222h3v3h-3zM474 222h33v3h-33zM540 222h15v3h-15zM636 222h3v3h-3zM309 225h3v3h-3zM474 225h6v3h-6zM504 225h6v3h-6zM543 225h18v3h-18zM636 225h3v3h-3zM309 228h3v3h-3zM474 228h3v3h-3zM507 228h6v3h-6zM543 228h27v3h-27zM636 228h3v3h-3zM309 231h3v3h-3zM474 231h3v3h-3zM510 231h3v3h-3zM546 231h24v3h-24zM636 231h3v3h-3zM309 234h3v3h-3zM474 234h3v3h-3zM510 234h3v3h-3zM546 234h24v3h-24zM636 234h3v3h-3zM309 237h3v3h-3zM471 237h3v3h-3zM510 237h6v3h-6zM546 237h24v3h-24zM636 237h3v3h-3zM309 240h6v3h-6zM387 240h9v3h-9zM471 240h3v3h-3zM513 240h6v3h-6zM546 240h24v3h-24zM636 240h3v3h-3zM312 243h3v3h-3zM372 243h12v3h-12zM393 243h12v3h-12zM471 243h3v3h-3zM516 243h6v3h-6zM543 243h27v3h-27zM636 243h3v3h-3zM312 246h6v3h-6zM363 246h12v3h-12zM399 246h9v3h-9zM468 246h3v3h-3zM516 246h9v3h-9zM540 246h33v3h-33zM636 246h3v3h-3zM312 249h6v3h-6zM357 249h15v3h-15zM402 249h6v3h-6zM468 249h3v3h-3zM519 249h12v3h-12zM534 249h39v3h-39zM636 249h3v3h-3zM315 252h6v3h-6zM354 252h15v3h-15zM402 252h6v3h-6zM519 252h54v3h-54zM636 252h3v3h-3zM315 255h6v3h-6zM348 255h18v3h-18zM405 255h3v3h-3zM519 255h54v3h-54zM636 255h3v3h-3zM315 258h6v3h-6zM348 258h18v3h-18zM405 258h3v3h-3zM519 258h51v3h-51zM636 258h3v3h-3zM318 261h3v3h-3zM348 261h18v3h-18zM405 261h3v3h-3zM465 261h3v3h-3zM522 261h33v3h-33zM636 261h3v3h-3zM318 264h6v3h-6zM348 264h15v3h-15zM405 264h3v3h-3zM465 264h3v3h-3zM522 264h36v3h-36zM636 264h3v3h-3zM318 267h9v3h-9zM348 267h15v3h-15zM405 267h3v3h-3zM465 267h3v3h-3zM522 267h39v3h-39zM636 267h3v3h-3zM321 270h9v3h-9zM351 270h12v3h-12zM405 270h3v3h-3zM465 270h3v3h-3zM525 270h39v3h-39zM597 270h3v3h-3zM636 270h3v3h-3zM321 273h9v3h-9zM351 273h15v3h-15zM402 273h6v3h-6zM465 273h3v3h-3zM525 273h42v3h-42zM594 273h9v3h-9zM636 273h3v3h-3zM324 276h6v3h-6zM354 276h15v3h-15zM402 276h6v3h-6zM465 276h3v3h-3zM528 276h42v3h-42zM588 276h15v3h-15zM636 276h3v3h-3zM324 279h9v3h-9zM354 279h18v3h-18zM399 279h6v3h-6zM465 279h3v3h-3zM528 279h45v3h-45zM585 279h18v3h-18zM636 279h3v3h-3zM327 282h6v3h-6zM357 282h12v3h-12zM399 282h6v3h-6zM465 282h3v3h-3zM531 282h72v3h-72zM636 282h3v3h-3zM327 285h9v3h-9zM357 285h12v3h-12zM396 285h9v3h-9zM465 285h3v3h-3zM534 285h69v3h-69zM636 285h3v3h-3zM330 288h6v3h-6zM357 288h9v3h-9zM396 288h9v3h-9zM465 288h3v3h-3zM534 288h69v3h-69zM636 288h3v3h-3zM330 291h9v3h-9zM357 291h9v3h-9zM393 291h9v3h-9zM465 291h3v3h-3zM534 291h57v3h-57zM600 291h3v3h-3zM636 291h3v3h-3zM333 294h6v3h-6zM360 294h3v3h-3zM393 294h9v3h-9zM465 294h3v3h-3zM534 294h54v3h-54zM636 294h3v3h-3zM336 297h6v3h-6zM351 297h12v3h-12zM390 297h9v3h-9zM465 297h3v3h-3zM534 297h54v3h-54zM339 300h18v3h-18zM390 300h9v3h-9zM462 300h6v3h-6zM534 300h54v3h-54zM390 303h9v3h-9zM462 303h6v3h-6zM534 303h54v3h-54zM390 306h12v3h-12zM462 306h6v3h-6zM537 306h51v3h-51zM393 309h9v3h-9zM459 309h6v3h-6zM549 309h39v3h-39zM396 312h9v3h-9zM459 312h6v3h-6zM552 312h36v3h-36zM606 312h12v3h-12zM621 312h15v3h-15zM399 315h6v3h-6zM459 315h6v3h-6zM561 315h33v3h-33zM600 315h39v3h-39zM402 318h6v3h-6zM459 318h3v3h-3zM564 318h33v3h-33zM600 318h39v3h-39zM402 321h9v3h-9zM456 321h6v3h-6zM567 321h72v3h-72zM405 324h9v3h-9zM456 324h6v3h-6zM567 324h30v3h-30zM600 324h33v3h-33zM408 327h6v3h-6zM453 327h9v3h-9zM570 327h27v3h-27zM603 327h24v3h-24zM408 330h9v3h-9zM453 330h6v3h-6zM570 330h27v3h-27zM603 330h21v3h-21zM411 333h9v3h-9zM450 333h9v3h-9zM573 333h48v3h-48zM411 336h12v3h-12zM450 336h6v3h-6zM576 336h42v3h-42zM414 339h9v3h-9zM447 339h9v3h-9zM579 339h39v3h-39zM414 342h9v3h-9zM447 342h9v3h-9zM582 342h36v3h-36zM414 345h12v3h-12zM444 345h9v3h-9zM585 345h30v3h-30zM414 348h15v3h-15zM441 348h12v3h-12zM585 348h30v3h-30zM417 351h33v3h-33zM582 351h33v3h-33zM417 354h30v3h-30zM582 354h33v3h-33zM417 357h27v3h-27zM582 357h36v3h-36zM417 360h24v3h-24zM582 360h36v3h-36zM417 363h21v3h-21zM585 363h33v3h-33zM417 366h15v3h-15zM585 366h33v3h-33zM417 369h9v3h-9zM585 369h33v3h-33zM315 372h24v3h-24zM585 372h30v3h-30zM306 375h72v3h-72zM588 375h27v3h-27zM303 378h78v3h-78zM411 378h6v3h-6zM588 378h27v3h-27zM300 381h24v3h-24zM342 381h42v3h-42zM405 381h12v3h-12zM588 381h27v3h-27zM291 384h30v3h-30zM354 384h33v3h-33zM399 384h15v3h-15zM588 384h27v3h-27zM285 387h12v3h-12zM312 387h6v3h-6zM366 387h45v3h-45zM588 387h30v3h-30zM282 390h6v3h-6zM315 390h3v3h-3zM366 390h39v3h-39zM588 390h30v3h-30zM279 393h3v3h-3zM366 393h36v3h-36zM588 393h36v3h-36zM276 396h3v3h-3zM366 396h27v3h-27zM588 396h42v3h-42zM273 399h3v3h-3zM363 399h27v3h-27zM591 399h45v3h-45zM267 402h3v3h-3zM363 402h27v3h-27zM594 402h45v3h-45zM261 405h6v3h-6zM363 405h27v3h-27zM594 405h45v3h-45zM258 408h3v3h-3zM363 408h27v3h-27zM597 408h30v3h-30zM630 408h9v3h-9zM252 411h6v3h-6zM363 411h30v3h-30zM597 411h24v3h-24zM630 411h9v3h-9zM252 414h3v3h-3zM363 414h30v3h-30zM597 414h18v3h-18zM627 414h12v3h-12zM249 417h3v3h-3zM366 417h27v3h-27zM597 417h18v3h-18zM627 417h12v3h-12zM249 420h3v3h-3zM366 420h27v3h-27zM597 420h21v3h-21zM624 420h15v3h-15zM246 423h6v3h-6zM366 423h27v3h-27zM597 423h24v3h-24zM624 423h15v3h-15zM246 426h6v3h-6zM366 426h24v3h-24zM597 426h42v3h-42zM243 429h6v3h-6zM363 429h21v3h-21zM597 429h42v3h-42zM240 432h9v3h-9zM360 432h21v3h-21zM600 432h39v3h-39zM240 435h9v3h-9zM357 435h21v3h-21zM600 435h39v3h-39zM237 438h12v3h-12zM354 438h18v3h-18zM603 438h36v3h-36zM237 441h12v3h-12zM351 441h18v3h-18zM603 441h36v3h-36zM237 444h12v3h-12zM345 444h21v3h-21zM603 444h36v3h-36zM237 447h15v3h-15zM339 447h24v3h-24zM603 447h36v3h-36zM240 450h18v3h-18zM324 450h36v3h-36zM603 450h36v3h-36zM243 453h111v3h-111zM603 453h36v3h-36zM246 456h99v3h-99zM603 456h36v3h-36zM249 459h33v3h-33zM603 459h18v3h-18z"/>
<path fill="#0096ff" d="M375 111h30v3h-30zM366 114h48v3h-48zM360 117h63v3h-63zM357 120h69v3h-69zM354 123h78v3h-78zM351 126h24v3h-24zM402 126h36v3h-36zM348 129h18v3h-18zM408 129h33v3h-33zM345 132h18v3h-18zM414 132h30v3h-30zM342 135h15v3h-15zM417 135h27v3h-27zM342 138h12v3h-12zM420 138h24v3h-24zM339 141h12v3h-12zM423 141h21v3h-21zM339 144h12v3h-12zM423 144h21v3h-21zM336 147h12v3h-12zM426 147h15v3h-15zM336 150h9v3h-9zM426 150h12v3h-12zM336 153h9v3h-9zM426 153h12v3h-12zM333 156h9v3h-9zM426 156h9v3h-9zM333 159h9v3h-9zM426 159h9v3h-9zM333 162h9v3h-9zM426 162h9v3h-9zM333 165h6v3h-6zM426 165h12v3h-12zM333 168h6v3h-6zM426 168h12v3h-12zM330 171h9v3h-9zM426 171h12v3h-12zM330 174h9v3h-9zM423 174h15v3h-15zM330 177h6v3h-6zM423 177h18v3h-18zM522 177h9v3h-9zM330 180h6v3h-6zM423 180h21v3h-21zM513 180h24v3h-24zM330 183h6v3h-6zM426 183h21v3h-21zM507 183h15v3h-15zM525 183h15v3h-15zM330 186h6v3h-6zM432 186h18v3h-18zM501 186h12v3h-12zM531 186h9v3h-9zM327 189h9v3h-9zM438 189h12v3h-12zM486 189h24v3h-24zM534 189h6v3h-6zM327 192h6v3h-6zM441 192h12v3h-12zM477 192h27v3h-27zM534 192h9v3h-9zM327 195h6v3h-6zM444 195h12v3h-12zM474 195h9v3h-9zM534 195h9v3h-9zM327 198h3v3h-3zM444 198h12v3h-12zM471 198h12v3h-12zM534 198h9v3h-9zM324 201h6v3h-6zM447 201h9v3h-9zM468 201h12v3h-12zM531 201h12v3h-12zM321 204h6v3h-6zM447 204h9v3h-9zM465 204h18v3h-18zM531 204h12v3h-12zM318 207h3v3h-3zM447 207h9v3h-9zM465 207h18v3h-18zM531 207h12v3h-12zM315 210h3v3h-3zM447 210h6v3h-6zM465 210h24v3h-24zM528 210h15v3h-15zM315 213h3v3h-3zM447 213h6v3h-6zM462 213h33v3h-33zM525 213h15v3h-15zM312 216h3v3h-3zM450 216h51v3h-51zM522 216h15v3h-15zM312 219h3v3h-3zM456 219h21v3h-21zM495 219h42v3h-42zM312 222h3v3h-3zM462 222h12v3h-12zM507 222h33v3h-33zM312 225h3v3h-3zM465 225h9v3h-9zM510 225h33v3h-33zM312 228h3v3h-3zM468 228h6v3h-6zM513 228h30v3h-30zM312 231h3v3h-3zM468 231h6v3h-6zM513 231h33v3h-33zM312 234h3v3h-3zM468 234h6v3h-6zM513 234h33v3h-33zM312 237h3v3h-3zM390 237h15v3h-15zM468 237h3v3h-3zM516 237h30v3h-30zM315 240h3v3h-3zM372 240h15v3h-15zM396 240h15v3h-15zM468 240h3v3h-3zM519 240h27v3h-27zM315 243h6v3h-6zM354 243h18v3h-18zM405 243h6v3h-6zM468 243h3v3h-3zM522 243h21v3h-21zM318 246h6v3h-6zM345 246h18v3h-18zM408 246h3v3h-3zM525 246h15v3h-15zM318 249h12v3h-12zM339 249h18v3h-18zM408 249h6v3h-6zM465 249h3v3h-3zM531 249h3v3h-3zM321 252h12v3h-12zM336 252h18v3h-18zM408 252h6v3h-6zM465 252h3v3h-3zM321 255h27v3h-27zM408 255h6v3h-6zM465 255h3v3h-3zM321 258h27v3h-27zM408 258h6v3h-6zM465 258h3v3h-3zM321 261h27v3h-27zM408 261h6v3h-6zM324 264h24v3h-24zM408 264h6v3h-6zM327 267h21v3h-21zM408 267h6v3h-6zM330 270h21v3h-21zM408 270h6v3h-6zM330 273h21v3h-21zM408 273h6v3h-6zM330 276h24v3h-24zM408 276h6v3h-6zM333 279h21v3h-21zM405 279h9v3h-9zM462 279h3v3h-3zM333 282h24v3h-24zM405 282h9v3h-9zM462 282h3v3h-3zM336 285h21v3h-21zM405 285h9v3h-9zM462 285h3v3h-3zM336 288h21v3h-21zM405 288h9v3h-9zM462 288h3v3h-3zM339 291h18v3h-18zM402 291h12v3h-12zM459 291h6v3h-6zM339 294h21v3h-21zM402 294h15v3h-15zM459 294h6v3h-6zM342 297h9v3h-9zM399 297h18v3h-18zM453 297h12v3h-12zM399 300h15v3h-15zM453 300h9v3h-9zM399 303h12v3h-12zM450 303h12v3h-12zM402 306h9v3h-9zM450 306h12v3h-12zM402 309h9v3h-9zM450 309h9v3h-9zM405 312h9v3h-9zM450 312h9v3h-9zM405 315h12v3h-12zM450 315h9v3h-9zM408 318h9v3h-9zM450 318h9v3h-9zM411 321h12v3h-12zM447 321h9v3h-9zM414 324h12v3h-12zM444 324h12v3h-12zM633 324h6v3h-6zM414 327h18v3h-18zM438 327h15v3h-15zM627 327h12v3h-12zM417 330h36v3h-36zM624 330h15v3h-15zM420 333h30v3h-30zM621 333h18v3h-18zM423 336h27v3h-27zM618 336h21v3h-21zM423 339h24v3h-24zM618 339h15v3h-15zM423 342h24v3h-24zM618 342h9v3h-9zM426 345h18v3h-18zM615 345h12v3h-12zM429 348h12v3h-12zM615 348h9v3h-9zM615 351h9v3h-9zM615 354h9v3h-9zM618 357h6v3h-6zM618 360h6v3h-6zM618 363h6v3h-6zM618 366h6v3h-6zM618 369h6v3h-6zM615 372h9v3h-9zM615 375h9v3h-9zM615 378h9v3h-9zM324 381h18v3h-18zM615 381h9v3h-9zM321 384h33v3h-33zM615 384h9v3h-9zM297 387h15v3h-15zM318 387h48v3h-48zM618 387h15v3h-15zM288 390h27v3h-27zM318 390h9v3h-9zM342 390h24v3h-24zM618 390h21v3h-21zM282 393h6v3h-6zM312 393h9v3h-9zM348 393h18v3h-18zM624 393h15v3h-15zM279 396h3v3h-3zM354 396h12v3h-12zM630 396h9v3h-9zM276 399h3v3h-3zM354 399h9v3h-9zM636 399h3v3h-3zM270 402h6v3h-6zM354 402h9v3h-9zM267 405h3v3h-3zM351 405h12v3h-12zM261 408h6v3h-6zM351 408h12v3h-12zM258 411h6v3h-6zM351 411h12v3h-12zM255 414h6v3h-6zM351 414h12v3h-12zM252 417h6v3h-6zM351 417h15v3h-15zM252 420h6v3h-6zM351 420h15v3h-15zM252 423h6v3h-6zM351 423h15v3h-15zM252 426h6v3h-6zM348 426h18v3h-18zM249 429h9v3h-9zM345 429h18v3h-18zM249 432h9v3h-9zM342 432h18v3h-18zM249 435h12v3h-12zM339 435h18v3h-18zM249 438h15v3h-15zM333 438h21v3h-21zM249 441h24v3h-24zM321 441h30v3h-30zM249 444h96v3h-96zM252 447h87v3h-87zM258 450h66v3h-66z"/>
<path fill="#00a2ff" d="M375 126h27v3h-27zM366 129h42v3h-42zM363 132h51v3h-51zM357 135h60v3h-60zM354 138h21v3h-21zM396 138h24v3h-24zM351 141h18v3h-18zM402 141h21v3h-21zM351 144h12v3h-12zM408 144h15v3h-15zM348 147h12v3h-12zM411 147h15v3h-15zM345 150h12v3h-12zM411 150h15v3h-15zM345 153h9v3h-9zM414 153h12v3h-12zM342 156h12v3h-12zM417 156h9v3h-9zM342 159h9v3h-9zM420 159h6v3h-6zM342 162h6v3h-6zM420 162h6v3h-6zM339 165h9v3h-9zM420 165h6v3h-6zM339 168h9v3h-9zM423 168h3v3h-3zM339 171h6v3h-6zM423 171h3v3h-3zM339 174h6v3h-6zM420 174h3v3h-3zM336 177h9v3h-9zM420 177h3v3h-3zM336 180h9v3h-9zM420 180h3v3h-3zM336 183h6v3h-6zM420 183h6v3h-6zM522 183h3v3h-3zM336 186h6v3h-6zM420 186h12v3h-12zM513 186h18v3h-18zM336 189h6v3h-6zM420 189h18v3h-18zM510 189h24v3h-24zM333 192h9v3h-9zM420 192h21v3h-21zM504 192h30v3h-30zM333 195h6v3h-6zM423 195h21v3h-21zM483 195h51v3h-51zM330 198h9v3h-9zM435 198h9v3h-9zM483 198h51v3h-51zM330 201h6v3h-6zM438 201h9v3h-9zM480 201h51v3h-51zM327 204h6v3h-6zM363 204h3v3h-3zM441 204h6v3h-6zM483 204h48v3h-48zM321 207h6v3h-6zM363 207h3v3h-3zM441 207h6v3h-6zM483 207h48v3h-48zM318 210h3v3h-3zM441 210h6v3h-6zM489 210h39v3h-39zM318 213h3v3h-3zM441 213h6v3h-6zM495 213h30v3h-30zM315 216h3v3h-3zM444 216h6v3h-6zM501 216h21v3h-21zM315 219h3v3h-3zM447 219h9v3h-9zM315 222h3v3h-3zM453 222h9v3h-9zM315 225h3v3h-3zM459 225h6v3h-6zM315 228h3v3h-3zM462 228h6v3h-6zM315 231h3v3h-3zM465 231h3v3h-3zM315 234h3v3h-3zM390 234h27v3h-27zM465 234h3v3h-3zM315 237h6v3h-6zM369 237h21v3h-21zM405 237h12v3h-12zM465 237h3v3h-3zM318 240h9v3h-9zM342 240h3v3h-3zM348 240h24v3h-24zM411 240h6v3h-6zM465 240h3v3h-3zM321 243h33v3h-33zM411 243h6v3h-6zM465 243h3v3h-3zM324 246h21v3h-21zM411 246h6v3h-6zM465 246h3v3h-3zM330 249h9v3h-9zM414 249h3v3h-3zM462 249h3v3h-3zM333 252h3v3h-3zM414 252h3v3h-3zM462 252h3v3h-3zM414 255h3v3h-3zM462 255h3v3h-3zM414 258h3v3h-3zM462 258h3v3h-3zM414 261h3v3h-3zM462 261h3v3h-3zM414 264h3v3h-3zM462 264h3v3h-3zM414 267h3v3h-3zM462 267h3v3h-3zM414 270h3v3h-3zM462 270h3v3h-3zM414 273h6v3h-6zM462 273h3v3h-3zM414 276h6v3h-6zM462 276h3v3h-3zM414 279h6v3h-6zM459 279h3v3h-3zM414 282h6v3h-6zM459 282h3v3h-3zM414 285h6v3h-6zM456 285h6v3h-6zM414 288h9v3h-9zM456 288h6v3h-6zM414 291h9v3h-9zM450 291h9v3h-9zM417 294h9v3h-9zM447 294h12v3h-12zM417 297h9v3h-9zM444 297h9v3h-9zM414 300h21v3h-21zM438 300h15v3h-15zM411 303h39v3h-39zM411 306h39v3h-39zM411 309h39v3h-39zM414 312h36v3h-36zM417 315h33v3h-33zM417 318h33v3h-33zM423 321h24v3h-24zM426 324h18v3h-18zM432 327h6v3h-6zM633 339h6v3h-6zM627 342h12v3h-12zM627 345h12v3h-12zM624 348h15v3h-15zM624 351h15v3h-15zM624 354h15v3h-15zM624 357h15v3h-15zM624 360h15v3h-15zM624 363h15v3h-15zM624 366h9v3h-9zM624 369h15v3h-15zM624 372h15v3h-15zM624 375h15v3h-15zM624 378h15v3h-15zM624 381h15v3h-15zM624 384h15v3h-15zM633 387h6v3h-6zM327 390h15v3h-15zM288 393h24v3h-24zM321 393h27v3h-27zM282 396h6v3h-6zM309 396h18v3h-18zM336 396h18v3h-18zM279 399h3v3h-3zM342 399h12v3h-12zM276 402h3v3h-3zM342 402h12v3h-12zM270 405h6v3h-6zM342 405h9v3h-9zM267 408h3v3h-3zM342 408h9v3h-9zM264 411h3v3h-3zM342 411h9v3h-9zM261 414h3v3h-3zM342 414h9v3h-9zM258 417h6v3h-6zM339 417h12v3h-12zM258 420h6v3h-6zM339 420h12v3h-12zM258 423h9v3h-9zM336 423h15v3h-15zM258 426h9v3h-9zM333 426h15v3h-15zM258 429h12v3h-12zM330 429h15v3h-15zM258 432h27v3h-27zM324 432h18v3h-18zM261 435h39v3h-39zM309 435h30v3h-30zM264 438h69v3h-69zM273 441h48v3h-48z"/>
<path fill="#00b0ff" d="M375 138h21v3h-21zM369 141h33v3h-33zM363 144h45v3h-45zM360 147h51v3h-51zM357 150h18v3h-18zM393 150h18v3h-18zM354 153h15v3h-15zM399 153h15v3h-15zM354 156h9v3h-9zM402 156h15v3h-15zM351 159h9v3h-9zM405 159h15v3h-15zM348 162h12v3h-12zM408 162h12v3h-12zM348 165h9v3h-9zM414 165h6v3h-6zM348 168h9v3h-9zM417 168h6v3h-6zM345 171h9v3h-9zM420 171h3v3h-3zM345 174h9v3h-9zM345 177h6v3h-6zM417 177h3v3h-3zM345 180h6v3h-6zM417 180h3v3h-3zM342 183h9v3h-9zM417 183h3v3h-3zM342 186h9v3h-9zM414 186h6v3h-6zM342 189h9v3h-9zM411 189h9v3h-9zM342 192h9v3h-9zM408 192h12v3h-12zM339 195h12v3h-12zM405 195h18v3h-18zM339 198h15v3h-15zM360 198h6v3h-6zM375 198h9v3h-9zM393 198h42v3h-42zM336 201h102v3h-102zM333 204h30v3h-30zM366 204h75v3h-75zM327 207h9v3h-9zM339 207h24v3h-24zM366 207h75v3h-75zM321 210h6v3h-6zM360 210h81v3h-81zM321 213h3v3h-3zM381 213h60v3h-60zM318 216h6v3h-6zM384 216h60v3h-60zM318 219h3v3h-3zM393 219h33v3h-33zM429 219h9v3h-9zM441 219h6v3h-6zM318 222h3v3h-3zM393 222h30v3h-30zM447 222h6v3h-6zM318 225h3v3h-3zM396 225h27v3h-27zM453 225h6v3h-6zM318 228h3v3h-3zM393 228h30v3h-30zM456 228h6v3h-6zM318 231h3v3h-3zM381 231h42v3h-42zM459 231h6v3h-6zM318 234h9v3h-9zM369 234h21v3h-21zM417 234h6v3h-6zM462 234h3v3h-3zM321 237h48v3h-48zM417 237h6v3h-6zM462 237h3v3h-3zM327 240h15v3h-15zM345 240h3v3h-3zM417 240h3v3h-3zM462 240h3v3h-3zM417 243h3v3h-3zM462 243h3v3h-3zM417 246h3v3h-3zM462 246h3v3h-3zM417 249h6v3h-6zM459 249h3v3h-3zM417 252h6v3h-6zM459 252h3v3h-3zM417 255h6v3h-6zM459 255h3v3h-3zM417 258h6v3h-6zM459 258h3v3h-3zM417 261h6v3h-6zM459 261h3v3h-3zM417 264h6v3h-6zM459 264h3v3h-3zM417 267h6v3h-6zM459 267h3v3h-3zM417 270h6v3h-6zM459 270h3v3h-3zM420 273h3v3h-3zM459 273h3v3h-3zM420 276h3v3h-3zM456 276h6v3h-6zM420 279h6v3h-6zM456 279h3v3h-3zM420 282h6v3h-6zM453 282h6v3h-6zM420 285h6v3h-6zM453 285h3v3h-3zM423 288h6v3h-6zM450 288h6v3h-6zM423 291h9v3h-9zM444 291h6v3h-6zM426 294h9v3h-9zM441 294h6v3h-6zM426 297h18v3h-18zM435 300h3v3h-3zM633 366h6v3h-6zM288 396h21v3h-21zM327 396h9v3h-9zM282 399h9v3h-9zM300 399h42v3h-42zM279 402h3v3h-3zM327 402h15v3h-15zM276 405h3v3h-3zM330 405h12v3h-12zM270 408h6v3h-6zM333 408h9v3h-9zM267 411h6v3h-6zM333 411h9v3h-9zM264 414h6v3h-6zM330 414h12v3h-12zM264 417h6v3h-6zM330 417h9v3h-9zM264 420h6v3h-6zM327 420h12v3h-12zM267 423h6v3h-6zM324 423h12v3h-12zM267 426h21v3h-21zM315 426h18v3h-18zM270 429h60v3h-60zM285 432h39v3h-39zM300 435h9v3h-9z"/>
<path fill="#00bcff" d="M375 150h18v3h-18zM369 153h30v3h-30zM363 156h39v3h-39zM360 159h18v3h-18zM390 159h15v3h-15zM360 162h12v3h-12zM396 162h12v3h-12zM357 165h12v3h-12zM399 165h15v3h-15zM357 168h9v3h-9zM402 168h15v3h-15zM354 171h9v3h-9zM405 171h9v3h-9zM417 171h3v3h-3zM354 174h9v3h-9zM417 174h3v3h-3zM351 177h9v3h-9zM414 177h3v3h-3zM351 180h9v3h-9zM414 180h3v3h-3zM351 183h9v3h-9zM411 183h6v3h-6zM351 186h9v3h-9zM408 186h6v3h-6zM351 189h9v3h-9zM405 189h6v3h-6zM351 192h12v3h-12zM387 192h21v3h-21zM351 195h54v3h-54zM354 198h6v3h-6zM366 198h9v3h-9zM384 198h9v3h-9zM336 207h3v3h-3zM327 210h33v3h-33zM324 213h57v3h-57zM324 216h6v3h-6zM375 216h9v3h-9zM321 219h6v3h-6zM378 219h15v3h-15zM426 219h3v3h-3zM438 219h3v3h-3zM321 222h6v3h-6zM378 222h15v3h-15zM423 222h24v3h-24zM321 225h3v3h-3zM381 225h15v3h-15zM423 225h9v3h-9zM447 225h6v3h-6zM321 228h6v3h-6zM375 228h18v3h-18zM423 228h6v3h-6zM450 228h6v3h-6zM321 231h21v3h-21zM360 231h21v3h-21zM423 231h3v3h-3zM453 231h6v3h-6zM327 234h42v3h-42zM423 234h3v3h-3zM456 234h6v3h-6zM423 237h3v3h-3zM456 237h6v3h-6zM420 240h6v3h-6zM459 240h3v3h-3zM420 243h6v3h-6zM459 243h3v3h-3zM420 246h6v3h-6zM456 246h6v3h-6zM423 249h3v3h-3zM456 249h3v3h-3zM423 252h3v3h-3zM456 252h3v3h-3zM423 255h3v3h-3zM456 255h3v3h-3zM423 258h3v3h-3zM456 258h3v3h-3zM423 261h3v3h-3zM456 261h3v3h-3zM423 264h3v3h-3zM456 264h3v3h-3zM423 267h3v3h-3zM456 267h3v3h-3zM423 270h6v3h-6zM456 270h3v3h-3zM423 273h6v3h-6zM453 273h6v3h-6zM423 276h6v3h-6zM453 276h3v3h-3zM426 279h3v3h-3zM450 279h6v3h-6zM426 282h3v3h-3zM450 282h3v3h-3zM426 285h6v3h-6zM447 285h6v3h-6zM429 288h9v3h-9zM441 288h9v3h-9zM432 291h12v3h-12zM435 294h6v3h-6zM291 399h9v3h-9zM282 402h45v3h-45zM279 405h3v3h-3zM309 405h21v3h-21zM276 408h3v3h-3zM321 408h12v3h-12zM273 411h6v3h-6zM321 411h12v3h-12zM270 414h6v3h-6zM321 414h9v3h-9zM270 417h9v3h-9zM315 417h15v3h-15zM270 420h15v3h-15zM312 420h15v3h-15zM273 423h51v3h-51zM288 426h27v3h-27z"/>
<path fill="#00caff" d="M378 159h12v3h-12zM372 162h24v3h-24zM369 165h30v3h-30zM366 168h15v3h-15zM390 168h12v3h-12zM363 171h12v3h-12zM396 171h9v3h-9zM414 171h3v3h-3zM363 174h9v3h-9zM402 174h15v3h-15zM360 177h9v3h-9zM408 177h6v3h-6zM360 180h9v3h-9zM408 180h6v3h-6zM360 183h9v3h-9zM405 183h6v3h-6zM360 186h12v3h-12zM402 186h6v3h-6zM360 189h21v3h-21zM384 189h21v3h-21zM363 192h24v3h-24zM330 216h45v3h-45zM327 219h24v3h-24zM360 219h18v3h-18zM327 222h21v3h-21zM363 222h3v3h-3zM375 222h3v3h-3zM324 225h27v3h-27zM360 225h21v3h-21zM432 225h15v3h-15zM327 228h48v3h-48zM429 228h9v3h-9zM444 228h6v3h-6zM342 231h18v3h-18zM426 231h6v3h-6zM447 231h6v3h-6zM426 234h6v3h-6zM450 234h6v3h-6zM426 237h6v3h-6zM450 237h6v3h-6zM426 240h6v3h-6zM453 240h6v3h-6zM426 243h6v3h-6zM453 243h6v3h-6zM426 246h6v3h-6zM453 246h3v3h-3zM426 249h6v3h-6zM453 249h3v3h-3zM426 252h6v3h-6zM453 252h3v3h-3zM426 255h6v3h-6zM453 255h3v3h-3zM426 258h6v3h-6zM453 258h3v3h-3zM426 261h6v3h-6zM453 261h3v3h-3zM426 264h6v3h-6zM453 264h3v3h-3zM426 267h6v3h-6zM450 267h6v3h-6zM429 270h3v3h-3zM450 270h6v3h-6zM429 273h3v3h-3zM450 273h3v3h-3zM429 276h3v3h-3zM447 276h6v3h-6zM429 279h6v3h-6zM447 279h3v3h-3zM429 282h21v3h-21zM432 285h15v3h-15zM438 288h3v3h-3zM282 405h27v3h-27zM279 408h9v3h-9zM300 408h21v3h-21zM279 411h3v3h-3zM309 411h12v3h-12zM276 414h9v3h-9zM306 414h15v3h-15zM279 417h36v3h-36zM285 420h27v3h-27z"/>
<path fill="#00d6ff" d="M381 168h9v3h-9zM375 171h21v3h-21zM372 174h30v3h-30zM369 177h39v3h-39zM369 180h15v3h-15zM399 180h9v3h-9zM369 183h36v3h-36zM372 186h30v3h-30zM381 189h3v3h-3zM351 219h9v3h-9zM348 222h15v3h-15zM366 222h9v3h-9zM351 225h9v3h-9zM438 228h6v3h-6zM432 231h15v3h-15zM432 234h18v3h-18zM432 237h18v3h-18zM432 240h21v3h-21zM432 243h21v3h-21zM432 246h21v3h-21zM432 249h21v3h-21zM432 252h21v3h-21zM432 255h21v3h-21zM432 258h9v3h-9zM444 258h9v3h-9zM432 261h9v3h-9zM444 261h9v3h-9zM432 264h21v3h-21zM432 267h18v3h-18zM432 270h18v3h-18zM432 273h18v3h-18zM432 276h15v3h-15zM435 279h12v3h-12zM288 408h12v3h-12zM282 411h27v3h-27zM285 414h21v3h-21z"/>
<path fill="#00e4ff" d="M384 180h15v3h-15zM441 258h3v3h-3zM441 261h3v3h-3z"/>
<polygon points="105,430 118,436 128,450 136,470 141,495 151,512 165,528 185,544 200,548 206,560 206,575 105,575" fill="#000050"/>
</g>
<g clip-path="url(#mapclip)" stroke="#000020" stroke-width="1" shape-rendering="crispEdges">
<line x1="130.5" y1="36" x2="130.5" y2="572"/>
<line x1="215.5" y1="36" x2="215.5" y2="572"/>
<line x1="299.5" y1="36" x2="299.5" y2="572"/>
<line x1="384.5" y1="36" x2="384.5" y2="572"/>
<line x1="468.5" y1="36" x2="468.5" y2="572"/>
<line x1="553.5" y1="36" x2="553.5" y2="572"/>
<line x1="111" y1="486.5" x2="639" y2="486.5"/>
<line x1="111" y1="401.5" x2="639" y2="401.5"/>
<line x1="111" y1="314.5" x2="639" y2="314.5"/>
<line x1="111" y1="225.5" x2="639" y2="225.5"/>
<line x1="111" y1="134.5" x2="639" y2="134.5"/>
</g>
<g clip-path="url(#mapclip)" stroke="#000064" stroke-width="0.9" fill="none">
<path d="M130.3 400.5L145.8 400.5M142.1 403.6L145.8 400.5L142.1 397.4M130.3 383.3L145.8 384.1M141.9 387.0L145.8 384.1L142.3 380.9M147.2 434.8L162.7 436.1M158.7 438.9L162.7 436.1L159.3 432.7M147.2 417.7L162.2 421.7M157.8 423.7L162.2 421.7L159.4 417.8M147.2 400.5L162.7 401.7M158.8 404.5L162.7 401.7L159.2 398.3M147.2 383.3L162.7 383.3M159.0 386.4L162.7 383.3L159.0 380.3M147.2 366.1L162.7 364.7M159.3 368.1L162.7 364.7L158.7 362.0M164.1 451.8L178.7 457.1M174.2 458.8L178.7 457.1L176.3 453.0M164.1 434.8L179.6 433.4M176.2 436.8L179.6 433.4L175.6 430.7M164.1 417.7L179.6 418.5M175.8 421.4L179.6 418.5L176.1 415.2M164.1 400.5L179.6 400.5M175.9 403.6L179.6 400.5L175.9 397.4M164.1 383.3L179.6 383.9M175.8 386.8L179.6 383.9L176.0 380.7M164.1 366.1L179.6 366.1M175.9 369.2L179.6 366.1L175.9 363.0M181.0 468.9L194.5 476.6M189.7 477.4L194.5 476.6L192.8 472.1M181.0 451.8L196.4 453.5M192.5 456.1L196.4 453.5L193.1 450.0M181.0 434.8L196.5 433.4M193.1 436.8L196.5 433.4L192.5 430.7M181.0 417.7L196.5 419.0M192.5 421.8L196.5 419.0L193.1 415.6M181.0 400.5L196.5 401.0M192.8 403.9L196.5 401.0L192.9 397.8M181.0 383.3L196.5 383.3M192.9 386.4L196.5 383.3L192.9 380.3M197.9 519.7L209.0 508.9M208.5 513.6L209.0 508.9L204.2 509.2M197.9 502.8L213.3 505.2M209.2 507.6L213.3 505.2L210.1 501.5M197.9 485.8L207.9 497.7M203.2 496.9L207.9 497.7L207.9 492.9M197.9 468.9L211.4 476.6M206.6 477.4L211.4 476.6L209.7 472.1M197.9 451.8L213.4 452.9M209.5 455.7L213.4 452.9L209.9 449.6M197.9 434.8L213.4 433.5M210.0 436.9L213.4 433.5L209.5 430.7M197.9 417.7L213.4 416.3M210.0 419.7L213.4 416.3L209.4 413.6M197.9 400.5L213.4 400.5M209.8 403.6L213.4 400.5L209.8 397.4M214.9 570.5L209.5 555.9M213.7 558.3L209.5 555.9L207.9 560.4M214.9 553.6L209.5 539.0M213.7 541.4L209.5 539.0L207.9 543.5M214.9 536.7L217.5 521.4M219.9 525.6L217.5 521.4L213.9 524.5M214.9 519.7L223.7 507.0M224.2 511.8L223.7 507.0L219.1 508.3M214.9 502.8L230.1 500.1M227.0 503.8L230.1 500.1L226.0 497.7M214.9 485.8L228.3 493.6M223.5 494.4L228.3 493.6L226.6 489.1M214.9 468.9L229.2 474.7M224.7 476.1L229.2 474.7L227.0 470.4M214.9 451.8L230.3 452.4M226.6 455.3L230.3 452.4L226.8 449.2M214.9 434.8L230.1 432.1M227.0 435.8L230.1 432.1L226.0 429.7M231.8 570.5L225.2 556.5M229.6 558.5L225.2 556.5L224.0 561.1M231.8 553.6L225.2 539.5M229.6 541.6L225.2 539.5L224.0 544.2M231.8 536.7L233.1 521.2M235.9 525.2L233.1 521.2L229.7 524.6M231.8 519.7L242.7 508.8M242.3 513.6L242.7 508.8L237.9 509.2M231.8 502.8L245.8 496.3M243.8 500.6L245.8 496.3L241.2 495.0M231.8 485.8L246.7 489.9M242.4 491.9L246.7 489.9L244.0 485.9M231.8 468.9L246.3 474.2M241.8 475.8L246.3 474.2L243.9 470.0M231.8 451.8L247.3 451.8M243.6 454.9L247.3 451.8L243.6 448.7M231.8 434.8L247.0 432.1M243.9 435.8L247.0 432.1L242.9 429.7M231.8 417.7L246.6 413.1M244.0 417.2L246.6 413.1L242.2 411.3M231.8 243.2L226.2 257.6M224.7 253.1L226.2 257.6L230.4 255.3M248.7 570.5L244.7 555.5M248.6 558.3L244.7 555.5L242.6 559.9M248.7 553.6L250.0 538.1M252.8 542.1L250.0 538.1L246.6 541.5M248.7 536.7L251.4 521.4M253.8 525.6L251.4 521.4L247.7 524.5M248.7 519.7L260.9 510.2M259.9 514.9L260.9 510.2L256.1 510.0M248.7 502.8L263.0 497.0M260.8 501.2L263.0 497.0L258.5 495.5M248.7 485.8L263.6 481.8M260.9 485.8L263.6 481.8L259.3 479.8M248.7 468.9L263.9 466.2M260.8 469.8L263.9 466.2L259.8 463.8M248.7 451.8L264.1 450.5M260.7 453.9L264.1 450.5L260.2 447.7M248.7 434.8L264.0 432.6M260.8 436.2L264.0 432.6L259.9 430.1M248.7 417.7L263.0 411.9M260.8 416.1L263.0 411.9L258.5 410.4M248.7 400.5L263.2 395.1M260.8 399.3L263.2 395.1L258.7 393.5M248.7 261.0L243.4 275.6M241.7 271.0L243.4 275.6L247.5 273.2M248.7 243.2L243.4 257.7M241.7 253.2L243.4 257.7L247.5 255.3M248.7 225.2L242.1 239.3M240.9 234.6L242.1 239.3L246.5 237.2M265.6 570.5L264.2 555.1M267.6 558.5L264.2 555.1L261.5 559.0M265.6 553.6L263.4 538.2M267.0 541.5L263.4 538.2L260.9 542.3M265.6 536.7L272.1 522.6M273.4 527.3L272.1 522.6L267.8 524.7M265.6 519.7L277.5 509.8M276.6 514.5L277.5 509.8L272.7 509.8M265.6 485.8L281.1 485.8M277.4 488.9L281.1 485.8L277.4 482.8M265.6 468.9L280.5 464.6M277.8 468.6L280.5 464.6L276.1 462.6M265.6 451.8L280.6 447.8M277.8 451.8L280.6 447.8L276.2 445.8M265.6 434.8L280.8 432.1M277.8 435.8L280.8 432.1L276.7 429.7M265.6 417.7L280.1 412.4M277.7 416.5L280.1 412.4L275.6 410.7M265.6 400.5L279.9 394.5M277.7 398.8L279.9 394.5L275.3 393.1M265.6 278.7L261.6 293.7M259.5 289.3L261.6 293.7L265.5 290.9M265.6 261.0L261.6 276.0M259.5 271.6L261.6 276.0L265.5 273.2M265.6 243.2L260.3 257.7M258.6 253.2L260.3 257.7L264.4 255.3M265.6 225.2L264.2 240.7M261.5 236.7L264.2 240.7L267.6 237.3M265.6 207.2L260.4 221.8M258.7 217.3L260.4 221.8L264.5 219.3M282.5 536.7L295.9 528.9M294.3 533.4L295.9 528.9L291.2 528.1M282.5 519.7L297.8 517.1M294.7 520.7L297.8 517.1L293.6 514.7M282.5 502.8L297.5 498.8M294.7 502.7L297.5 498.8L293.1 496.8M282.5 485.8L298.0 485.8M294.3 488.9L298.0 485.8L294.3 482.8M282.5 468.9L296.5 462.3M294.5 466.7L296.5 462.3L291.9 461.1M282.5 451.8L296.9 446.0M294.6 450.3L296.9 446.0L292.3 444.5M282.5 434.8L297.5 430.8M294.7 434.7L297.5 430.8L293.1 428.7M282.5 417.7L297.1 412.4M294.7 416.5L297.1 412.4L292.5 410.7M282.5 400.5L296.8 394.7M294.6 398.9L296.8 394.7L292.3 393.2M282.5 383.3L296.7 377.2M294.6 381.5L296.7 377.2L292.1 375.8M282.5 296.4L279.8 311.6M277.4 307.5L279.8 311.6L283.5 308.5M282.5 278.7L277.2 293.3M275.5 288.8L277.2 293.3L281.3 290.9M282.5 261.0L269.8 269.9M271.0 265.2L269.8 269.9L274.6 270.3M282.5 225.2L276.4 239.4M275.0 234.9L276.4 239.4L280.6 237.3M282.5 207.2L275.2 220.8M274.2 216.1L275.2 220.8L279.6 219.0M299.4 536.7L314.1 531.9M311.6 535.9L314.1 531.9L309.7 530.1M299.4 519.7L314.8 518.4M311.4 521.8L314.8 518.4L310.9 515.6M299.4 502.8L314.8 501.5M311.4 504.8L314.8 501.5L310.9 498.7M299.4 485.8L314.7 483.7M311.5 487.3L314.7 483.7L310.7 481.1M299.4 468.9L313.4 462.3M311.4 466.7L313.4 462.3L308.8 461.1M299.4 451.8L313.4 445.3M311.4 449.6L313.4 445.3L308.8 444.0M299.4 434.8L314.4 430.8M311.6 434.7L314.4 430.8L310.0 428.7M299.4 417.7L314.0 412.4M311.6 416.5L314.0 412.4L309.5 410.7M299.4 400.5L314.0 395.2M311.6 399.4L314.0 395.2L309.5 393.6M299.4 383.3L313.8 377.5M311.5 381.8L313.8 377.5L309.2 376.0M299.4 366.1L312.8 358.3M311.2 362.8L312.8 358.3L308.1 357.5M299.4 348.8L313.1 341.5M311.3 345.9L313.1 341.5L308.4 340.5M299.4 331.4L314.9 331.4M311.2 334.5L314.9 331.4L311.2 328.3M299.4 313.9L302.1 329.2M298.4 326.1L302.1 329.2L304.5 325.0M299.4 296.4L298.0 311.8M295.3 307.9L298.0 311.8L301.4 308.4M299.4 278.7L295.4 293.7M293.4 289.3L295.4 293.7L299.3 290.9M299.4 261.0L284.8 266.3M287.2 262.1L284.8 266.3L289.3 267.9M316.3 519.7L331.8 519.7M328.1 522.8L331.8 519.7L328.1 516.7M316.3 502.8L331.8 502.8M328.1 505.9L331.8 502.8L328.1 499.7M316.3 485.8L331.7 483.7M328.4 487.3L331.7 483.7L327.6 481.1M316.3 468.9L331.0 463.8M328.5 467.9L331.0 463.8L326.5 462.1M316.3 451.8L330.6 445.7M328.4 450.0L330.6 445.7L326.0 444.3M316.3 434.8L330.8 429.3M328.5 433.5L330.8 429.3L326.3 427.7M316.3 417.7L330.9 412.3M328.5 416.5L330.9 412.3L326.3 410.7M316.3 400.5L330.9 395.2M328.5 399.3L330.9 395.2L326.3 393.5M316.3 383.3L330.5 377.1M328.4 381.4L330.5 377.1L325.9 375.7M316.3 366.1L329.1 357.3M327.8 362.0L329.1 357.3L324.3 356.9M316.3 348.8L328.2 338.8M327.4 343.5L328.2 338.8L323.4 338.8M316.3 331.4L331.8 331.4M328.1 334.5L331.8 331.4L328.1 328.3M316.3 313.9L320.8 328.7M316.8 326.1L320.8 328.7L322.7 324.3M316.3 296.4L317.7 311.8M314.3 308.4L317.7 311.8L320.4 307.9M316.3 278.7L315.0 294.2M312.2 290.2L315.0 294.2L318.4 290.8M316.3 261.0L311.0 275.6M309.4 271.0L311.0 275.6L315.2 273.2M316.3 243.2L311.0 257.7M309.4 253.2L311.0 257.7L315.2 255.3M316.3 207.2L303.6 216.1M304.9 211.4L303.6 216.1L308.4 216.5M333.2 502.8L348.7 503.3M344.9 506.3L348.7 503.3L345.1 500.1M333.2 485.8L348.7 484.5M345.3 487.9L348.7 484.5L344.7 481.7M333.2 468.9L348.1 464.4M345.4 468.4L348.1 464.4L343.6 462.5M333.2 451.8L347.3 445.3M345.2 449.6L347.3 445.3L342.6 444.0M333.2 434.8L347.4 428.5M345.3 432.8L347.4 428.5L342.8 427.2M333.2 417.7L347.6 411.9M345.3 416.1L347.6 411.9L343.0 410.4M333.2 400.5L347.8 395.2M345.4 399.4L347.8 395.2L343.3 393.6M333.2 383.3L347.6 377.5M345.3 381.8L347.6 377.5L343.0 376.0M333.2 366.1L345.9 357.2M344.7 361.8L345.9 357.2L341.1 356.8M333.2 348.8L346.5 340.7M344.9 345.3L346.5 340.7L341.7 340.0M333.2 331.4L348.7 330.6M345.2 333.8L348.7 330.6L344.9 327.7M333.2 313.9L342.1 326.6M337.5 325.4L342.1 326.6L342.5 321.8M333.2 296.4L339.8 310.4M335.4 308.4L339.8 310.4L341.0 305.8M333.2 278.7L335.4 294.1M331.8 290.9L335.4 294.1L337.9 290.0M333.2 261.0L334.6 276.4M331.2 273.0L334.6 276.4L337.3 272.5M333.2 243.2L329.2 258.1M327.2 253.8L329.2 258.1L333.1 255.4M333.2 225.2L324.3 237.9M323.9 233.1L324.3 237.9L329.0 236.7M333.2 207.2L318.2 211.2M321.0 207.2L318.2 211.2L322.6 213.2M350.1 502.8L365.6 503.1M361.9 506.1L365.6 503.1L362.0 499.9M350.1 485.8L365.4 483.2M362.3 486.8L365.4 483.2L361.2 480.8M350.1 468.9L364.9 464.2M362.3 468.2L364.9 464.2L360.5 462.3M350.1 451.8L364.3 445.5M362.2 449.8L364.3 445.5L359.7 444.2M350.1 434.8L364.0 427.9M362.1 432.3L364.0 427.9L359.4 426.8M350.1 417.7L364.2 411.3M362.2 415.6L364.2 411.3L359.6 410.0M350.1 400.5L364.4 394.4M362.2 398.7L364.4 394.4L359.8 393.1M350.1 383.3L364.0 376.5M362.1 380.9L364.0 376.5L359.4 375.3M350.1 366.1L362.9 357.3M361.6 362.0L362.9 357.3L358.1 356.9M350.1 348.8L362.3 339.2M361.3 343.9L362.3 339.2L357.5 339.0M350.1 331.4L365.2 327.9M362.3 331.7L365.2 327.9L361.0 325.7M350.1 313.9L364.7 319.2M360.2 320.8L364.7 319.2L362.3 315.0M350.1 296.4L359.0 309.1M354.4 307.8L359.0 309.1L359.4 304.3M350.1 278.7L357.2 292.5M352.7 290.7L357.2 292.5L358.2 287.9M350.1 261.0L352.8 276.3M349.1 273.2L352.8 276.3L355.2 272.1M350.1 243.2L343.6 257.2M342.3 252.6L343.6 257.2L347.9 255.2M350.1 225.2L337.9 234.8M338.9 230.1L337.9 234.8L342.7 234.9M350.1 207.2L335.0 210.6M337.9 206.8L335.0 210.6L339.3 212.8M367.0 485.8L382.1 482.4M379.3 486.2L382.1 482.4L377.9 480.2M367.0 468.9L381.6 463.6M379.2 467.7L381.6 463.6L377.1 461.9M367.0 451.8L380.9 444.9M379.0 449.3L380.9 444.9L376.2 443.8M367.0 434.8L380.5 427.0M378.8 431.5L380.5 427.0L375.7 426.2M367.0 417.7L380.8 410.5M378.9 414.9L380.8 410.5L376.1 409.5M367.0 400.5L381.1 394.0M379.1 398.3L381.1 394.0L376.5 392.7M367.0 383.3L380.7 376.1M378.9 380.5L380.7 376.1L376.0 375.1M367.0 366.1L379.7 357.2M378.5 361.8L379.7 357.2L375.0 356.8M367.0 348.8L379.5 339.6M378.4 344.3L379.5 339.6L374.8 339.3M367.0 331.4L380.9 324.3M379.0 328.8L380.9 324.3L376.2 323.3M367.0 313.9L382.4 311.7M379.2 315.3L382.4 311.7L378.3 309.2M367.0 296.4L382.0 300.4M377.7 302.4L382.0 300.4L379.3 296.4M367.0 278.7L376.4 291.1M371.7 290.0L376.4 291.1L376.6 286.3M367.0 261.0L363.0 276.0M361.0 271.6L363.0 276.0L367.0 273.2M367.0 243.2L358.1 255.9M357.7 251.1L358.1 255.9L362.8 254.6M367.0 225.2L352.8 231.3M355.0 227.0L352.8 231.3L357.4 232.7M367.0 207.2L351.9 210.4M354.8 206.6L351.9 210.4L356.1 212.6M367.0 189.0L351.8 191.6M354.9 187.9L351.8 191.6L355.9 194.0M384.0 468.9L397.8 462.0M395.9 466.4L397.8 462.0L393.2 460.8M384.0 451.8L397.2 443.8M395.7 448.3L397.2 443.8L392.5 443.1M384.0 434.8L397.0 426.4M395.6 431.0L397.0 426.4L392.2 425.8M384.0 417.7L397.2 409.6M395.7 414.2L397.2 409.6L392.5 408.9M384.0 400.5L397.6 393.1M395.8 397.6L397.6 393.1L392.8 392.2M384.0 383.3L397.2 375.3M395.7 379.9L397.2 375.3L392.5 374.6M384.0 366.1L396.4 356.8M395.3 361.5L396.4 356.8L391.6 356.5M384.0 348.8L395.8 338.8M395.0 343.5L395.8 338.8L391.0 338.8M384.0 331.4L395.8 321.4M395.0 326.1L395.8 321.4L391.0 321.4M384.0 313.9L396.9 305.5M395.5 310.1L396.9 305.5L392.2 304.9M384.0 296.4L399.2 293.7M396.1 297.3L399.2 293.7L395.1 291.3M384.0 278.7L399.4 280.1M395.5 282.8L399.4 280.1L396.0 276.7M384.0 261.0L374.0 272.9M374.0 268.1L374.0 272.9L378.7 272.0M384.0 243.2L371.3 252.0M372.5 247.4L371.3 252.0L376.0 252.5M384.0 225.2L369.0 229.2M371.7 225.3L369.0 229.2L373.3 231.3M384.0 207.2L368.7 209.9M371.8 206.2L368.7 209.9L372.8 212.3M384.0 189.0L368.6 190.8M371.8 187.3L368.6 190.8L372.6 193.5M400.9 451.8L413.4 442.8M412.3 447.4L413.4 442.8L408.7 442.4M400.9 434.8L413.1 425.2M412.1 429.9L413.1 425.2L408.3 425.1M400.9 417.7L413.7 408.9M412.4 413.6L413.7 408.9L408.9 408.5M400.9 400.5L414.3 392.8M412.6 397.3L414.3 392.8L409.6 392.0M400.9 383.3L413.9 374.9M412.5 379.5L413.9 374.9L409.1 374.3M400.9 366.1L412.4 355.7M411.7 360.5L412.4 355.7L407.6 355.9M400.9 348.8L411.4 337.4M411.2 342.2L411.4 337.4L406.7 338.0M400.9 331.4L410.8 319.5M410.8 324.3L410.8 319.5L406.1 320.3M400.9 313.9L411.8 302.9M411.4 307.7L411.8 302.9L407.0 303.4M400.9 296.4L411.4 285.0M411.2 289.8L411.4 285.0L406.7 285.6M400.9 278.7L405.6 264.0M407.4 268.4L405.6 264.0L401.6 266.5M400.9 261.0L389.9 250.0M394.7 250.4L389.9 250.0L390.3 254.8M400.9 243.2L386.8 236.6M391.4 235.4L386.8 236.6L388.8 241.0M400.9 225.2L386.3 219.9M390.8 218.3L386.3 219.9L388.7 224.1M400.9 207.2L385.4 208.5M388.8 205.1L385.4 208.5L389.4 211.3M400.9 189.0L385.4 189.0M389.0 185.9L385.4 189.0L389.0 192.1M417.8 434.8L429.7 424.9M428.9 429.6L429.7 424.9L424.9 424.9M417.8 417.7L429.6 407.7M428.8 412.4L429.6 407.7L424.8 407.7M417.8 400.5L430.5 391.8M429.3 396.4L430.5 391.8L425.8 391.3M417.8 383.3L430.5 374.5M429.2 379.1L430.5 374.5L425.7 374.0M417.8 366.1L428.8 355.2M428.3 359.9L428.8 355.2L424.0 355.6M417.8 348.8L426.7 336.1M427.1 340.8L426.7 336.1L422.0 337.3M417.8 331.4L426.2 318.4M426.8 323.1L426.2 318.4L421.6 319.8M417.8 313.9L426.0 300.8M426.7 305.5L426.0 300.8L421.4 302.2M417.8 296.4L424.3 282.3M425.6 286.9L424.3 282.3L420.0 284.3M417.8 278.7L419.4 263.3M422.1 267.3L419.4 263.3L415.9 266.6M417.8 261.0L412.0 246.6M416.2 248.9L412.0 246.6L410.5 251.2M417.8 243.2L407.8 231.3M412.5 232.1L407.8 231.3L407.8 236.1M417.8 225.2L407.4 213.7M412.2 214.4L407.4 213.7L407.6 218.5M417.8 207.2L403.2 201.9M407.7 200.2L403.2 201.9L405.6 206.0M417.8 189.0L402.6 185.8M406.8 183.5L402.6 185.8L405.6 189.5M417.8 170.7L402.4 172.3M405.7 168.8L402.4 172.3L406.3 175.0M434.7 570.5L419.5 567.4M423.7 565.1L419.5 567.4L422.5 571.2M434.7 451.8L446.5 441.8M445.7 446.6L446.5 441.8L441.7 441.8M434.7 434.8L446.1 424.3M445.5 429.1L446.1 424.3L441.3 424.5M434.7 400.5L447.4 391.6M446.1 396.3L447.4 391.6L442.6 391.2M434.7 383.3L447.4 374.4M446.1 379.1L447.4 374.4L442.6 374.0M434.7 366.1L445.6 355.1M445.2 359.9L445.6 355.1L440.9 355.5M434.7 348.8L442.4 335.3M443.3 340.1L442.4 335.3L437.9 337.0M434.7 331.4L440.0 316.8M441.6 321.3L440.0 316.8L435.8 319.2M434.7 313.9L441.2 299.9M442.5 304.5L441.2 299.9L436.9 301.9M434.7 296.4L438.7 281.4M440.7 285.7L438.7 281.4L434.8 284.1M434.7 278.7L435.5 263.2M438.4 267.1L435.5 263.2L432.2 266.7M434.7 261.0L432.0 245.7M435.7 248.8L432.0 245.7L429.6 249.9M434.7 243.2L428.9 228.8M433.1 231.0L428.9 228.8L427.4 233.3M434.7 225.2L429.9 210.5M434.0 213.0L429.9 210.5L428.1 214.9M434.7 207.2L423.7 196.2M428.5 196.6L423.7 196.2L424.1 201.0M434.7 189.0L421.3 181.2M426.0 180.4L421.3 181.2L422.9 185.7M434.7 170.7L419.8 174.9M422.5 170.9L419.8 174.9L424.1 176.9M434.7 152.2L421.1 159.7M422.8 155.2L421.1 159.7L425.8 160.6M451.6 570.5L436.3 567.9M440.5 565.4L436.3 567.9L439.4 571.5M451.6 536.7L436.6 532.7M441.0 530.6L436.6 532.7L439.4 536.6M451.6 519.7L436.3 517.1M440.5 514.7L436.3 517.1L439.4 520.7M451.6 502.8L436.1 502.8M439.8 499.7L436.1 502.8L439.8 505.9M451.6 434.8L463.5 424.8M462.6 429.5L463.5 424.8L458.7 424.8M451.6 417.7L460.9 405.3M461.2 410.1L460.9 405.3L456.2 406.4M451.6 383.3L463.5 373.4M462.6 378.1L463.5 373.4L458.7 373.4M451.6 366.1L462.6 355.2M462.2 360.0L462.6 355.2L457.8 355.6M451.6 348.8L461.6 336.9M461.6 341.7L461.6 336.9L456.8 337.7M451.6 331.4L459.3 317.9M460.2 322.7L459.3 317.9L454.8 319.6M451.6 313.9L458.1 299.9M459.4 304.5L458.1 299.9L453.8 301.9M451.6 296.4L454.3 281.1M456.7 285.2L454.3 281.1L450.6 284.2M451.6 278.7L452.4 263.2M455.3 267.1L452.4 263.2L449.1 266.7M451.6 261.0L450.8 245.5M454.1 249.0L450.8 245.5L447.9 249.3M451.6 243.2L450.2 227.7M453.6 231.1L450.2 227.7L447.5 231.6M451.6 225.2L450.8 209.7M454.1 213.2L450.8 209.7L447.9 213.6M451.6 207.2L442.7 194.5M447.3 195.7L442.7 194.5L442.3 199.2M451.6 189.0L437.0 194.3M439.4 190.1L437.0 194.3L441.5 195.9M451.6 170.7L439.7 180.6M440.5 175.9L439.7 180.6L444.5 180.6M451.6 152.2L439.3 161.7M440.4 157.0L439.3 161.7L444.1 161.9M451.6 133.7L438.3 141.6M439.9 137.1L438.3 141.6L443.0 142.4M468.5 553.6L453.2 550.9M457.4 548.5L453.2 550.9L456.3 554.6M468.5 536.7L453.5 532.7M457.9 530.6L453.5 532.7L456.3 536.6M468.5 519.7L453.2 517.1M457.4 514.7L453.2 517.1L456.3 520.7M468.5 502.8L453.0 502.8M456.7 499.7L453.0 502.8L456.7 505.9M468.5 485.8L453.0 485.8M456.7 482.8L453.0 485.8L456.7 488.9M468.5 417.7L477.4 405.0M477.8 409.8L477.4 405.0L472.8 406.2M468.5 400.5L478.1 388.4M478.3 393.2L478.1 388.4L473.4 389.4M468.5 383.3L478.5 371.5M478.5 376.3L478.5 371.5L473.7 372.3M468.5 348.8L478.5 336.9M478.5 341.7L478.5 336.9L473.7 337.7M468.5 331.4L477.4 318.7M477.8 323.5L477.4 318.7L472.8 319.9M468.5 278.7L469.0 263.2M472.0 267.0L469.0 263.2L465.8 266.8M468.5 261.0L468.0 245.5M471.2 249.1L468.0 245.5L465.0 249.3M468.5 243.2L468.0 227.7M471.2 231.2L468.0 227.7L465.0 231.4M468.5 225.2L468.0 209.7M471.2 213.3L468.0 209.7L465.0 213.5M468.5 207.2L459.6 194.5M464.2 195.7L459.6 194.5L459.2 199.2M468.5 189.0L455.1 181.2M459.8 180.4L455.1 181.2L456.7 185.7M468.5 170.7L457.5 181.6M458.0 176.9L457.5 181.6L462.3 181.2M468.5 152.2L455.4 160.6M456.9 156.0L455.4 160.6L460.2 161.2M468.5 133.7L454.3 139.9M456.4 135.6L454.3 139.9L458.9 141.2M468.5 114.9L453.8 119.9M456.3 115.8L453.8 119.9L458.3 121.6M485.4 570.5L470.0 572.3M473.3 568.8L470.0 572.3L474.0 574.9M485.4 536.7L470.1 538.8M473.3 535.3L470.1 538.8L474.1 541.4M485.4 519.7L470.1 521.9M473.3 518.3L470.1 521.9L474.1 524.4M485.4 502.8L470.0 504.2M473.4 500.8L470.0 504.2L473.9 506.9M485.4 485.8L470.0 487.2M473.4 483.8L470.0 487.2L473.9 489.9M485.4 468.9L495.3 456.9M495.3 461.7L495.3 456.9L490.6 457.8M485.4 400.5L495.2 388.6M495.3 393.4L495.2 388.6L490.5 389.4M485.4 383.3L495.4 371.5M495.4 376.3L495.4 371.5L490.6 372.3M485.4 366.1L496.4 355.1M496.0 359.9L496.4 355.1L491.6 355.5M485.4 243.2L480.4 228.5M484.5 231.0L480.4 228.5L478.7 233.0M485.4 225.2L479.6 210.9M483.8 213.1L479.6 210.9L478.1 215.4M485.4 207.2L476.7 194.3M481.3 195.6L476.7 194.3L476.2 199.1M485.4 114.9L470.1 117.6M473.2 113.9L470.1 117.6L474.3 120.0M485.4 96.0L469.9 96.9M473.4 93.6L469.9 96.9L473.8 99.8M502.3 570.5L488.2 577.0M490.3 572.6L488.2 577.0L492.9 578.2M502.3 536.7L487.8 542.0M490.2 537.8L487.8 542.0L492.3 543.6M502.3 519.7L487.3 523.8M490.1 519.8L487.3 523.8L491.7 525.8M502.3 502.8L487.1 505.5M490.1 501.8L487.1 505.5L491.2 507.9M502.3 485.8L487.0 488.0M490.2 484.4L487.0 488.0L491.0 490.5M502.3 468.9L487.1 471.5M490.1 467.9L487.1 471.5L491.2 473.9M502.3 243.2L492.0 231.6M496.8 232.3L492.0 231.6L492.2 236.4M502.3 225.2L492.7 213.1M497.4 214.0L492.7 213.1L492.5 217.9M502.3 207.2L492.4 195.3M497.1 196.1L492.4 195.3L492.4 200.1M502.3 189.0L492.4 177.1M497.1 177.9L492.4 177.1L492.4 181.9M502.3 170.7L491.3 159.8M496.1 160.2L491.3 159.8L491.7 164.6M502.3 152.2L492.4 140.4M497.1 141.2L492.4 140.4L492.4 145.2M502.3 114.9L486.9 113.1M491.0 110.4L486.9 113.1L490.2 116.6M502.3 96.0L487.1 93.3M491.2 90.9L487.1 93.3L490.1 97.0M502.3 77.0L487.2 73.6M491.4 71.4L487.2 73.6L490.1 77.4M502.3 57.7L487.3 53.7M491.7 51.7L487.3 53.7L490.1 57.6M519.2 570.5L507.7 580.9M508.4 576.1L507.7 580.9L512.5 580.7M519.2 536.7L506.5 545.6M507.8 540.9L506.5 545.6L511.3 546.0M519.2 519.7L505.5 527.0M507.3 522.6L505.5 527.0L510.2 528.0M519.2 502.8L504.7 508.1M507.1 503.9L504.7 508.1L509.2 509.7M519.2 485.8L504.0 488.5M507.1 484.9L504.0 488.5L508.1 490.9M519.2 468.9L503.9 471.2M507.1 467.6L503.9 471.2L508.0 473.7M519.2 313.9L506.2 305.5M511.0 304.9L506.2 305.5L507.6 310.1M519.2 296.4L505.4 289.4M510.0 288.3L505.4 289.4L507.3 293.8M519.2 278.7L505.7 271.1M510.4 270.2L505.7 271.1L507.4 275.6M519.2 261.0L506.2 252.6M511.0 252.0L506.2 252.6L507.6 257.2M519.2 243.2L506.7 234.0M511.5 233.7L506.7 234.0L507.9 238.6M519.2 225.2L507.7 214.8M512.5 215.0L507.7 214.8L508.4 219.6M519.2 207.2L508.6 195.9M513.3 196.5L508.6 195.9L508.9 200.7M519.2 189.0L509.0 177.4M513.7 178.1L509.0 177.4L509.1 182.2M519.2 170.7L509.3 158.8M514.0 159.6L509.3 158.8L509.3 163.6M519.2 152.2L509.0 140.6M513.8 141.3L509.0 140.6L509.1 145.4M519.2 133.7L507.5 123.6M512.3 123.6L507.5 123.6L508.3 128.3M519.2 114.9L505.7 107.3M510.4 106.4L505.7 107.3L507.4 111.8M519.2 96.0L504.8 90.3M509.4 88.8L504.8 90.3L507.1 94.5M519.2 77.0L504.8 71.3M509.3 69.8L504.8 71.3L507.1 75.6M519.2 57.7L504.9 51.8M509.5 50.3L504.9 51.8L507.1 56.1M519.2 38.3L505.0 32.1M509.6 30.7L505.0 32.1L507.2 36.4M536.1 570.5L529.0 584.3M528.0 579.6L529.0 584.3L533.5 582.4M536.1 536.7L525.2 547.6M525.6 542.9L525.2 547.6L530.0 547.2M536.1 519.7L523.4 528.6M524.7 524.0L523.4 528.6L528.2 529.1M536.1 502.8L523.4 511.7M524.7 507.1L523.4 511.7L528.2 512.1M536.1 485.8L520.7 487.2M524.1 483.8L520.7 487.2L524.6 489.9M536.1 468.9L520.7 469.8M524.2 466.5L520.7 469.8L524.5 472.6M536.1 313.9L520.9 311.2M525.0 308.8L520.9 311.2L524.0 314.9M536.1 296.4L521.8 290.5M526.3 289.1L521.8 290.5L524.0 294.8M536.1 278.7L522.2 271.9M526.9 270.8L522.2 271.9L524.2 276.3M536.1 261.0L523.0 252.8M527.7 252.1L523.0 252.8L524.5 257.3M536.1 243.2L523.1 234.8M527.9 234.2L523.1 234.8L524.5 239.4M536.1 225.2L523.8 215.9M528.6 215.6L523.8 215.9L524.8 220.5M536.1 207.2L524.5 196.9M529.3 197.0L524.5 196.9L525.2 201.7M536.1 189.0L525.2 178.0M530.0 178.4L525.2 178.0L525.6 182.8M536.1 170.7L525.1 159.8M529.9 160.2L525.1 159.8L525.6 164.5M536.1 152.2L525.2 141.3M530.0 141.7L525.2 141.3L525.6 146.1M536.1 133.7L524.2 123.8M529.0 123.8L524.2 123.8L525.1 128.5M536.1 114.9L523.3 106.2M528.1 105.7L523.3 106.2L524.6 110.8M536.1 96.0L522.7 88.3M527.4 87.4L522.7 88.3L524.4 92.8M536.1 77.0L522.8 69.1M527.5 68.3L522.8 69.1L524.4 73.7M536.1 57.7L522.7 50.0M527.4 49.1L522.7 50.0L524.4 54.5M536.1 38.3L522.7 30.5M527.5 29.7L522.7 30.5L524.4 35.0M553.0 570.5L551.7 585.9M548.9 582.0L551.7 585.9L555.1 582.5M553.0 536.7L547.7 551.2M546.1 546.7L547.7 551.2L551.9 548.8M553.0 519.7L546.5 533.8M545.3 529.2L546.5 533.8L550.8 531.8M553.0 502.8L547.7 517.4M546.1 512.9L547.7 517.4L551.9 515.0M553.0 485.8L537.6 487.2M541.0 483.8L537.6 487.2L541.5 489.9M553.0 348.8L537.6 350.2M541.0 346.8L537.6 350.2L541.6 352.9M553.0 331.4L537.6 330.8M541.3 327.9L537.6 330.8L541.1 334.0M553.0 313.9L537.8 311.3M541.9 308.9L537.8 311.3L540.9 315.0M553.0 296.4L538.3 291.6M542.7 289.8L538.3 291.6L540.9 295.7M553.0 278.7L538.5 273.4M543.0 271.8L538.5 273.4L540.9 277.6M553.0 261.0L538.9 254.7M543.5 253.4L538.9 254.7L541.0 259.0M553.0 243.2L539.0 236.6M543.6 235.4L539.0 236.6L541.0 241.0M553.0 225.2L539.6 217.4M544.4 216.6L539.6 217.4L541.3 221.9M553.0 207.2L540.1 198.7M544.9 198.1L540.1 198.7L541.5 203.2M553.0 189.0L540.3 180.2M545.1 179.7L540.3 180.2L541.6 184.8M553.0 170.7L540.4 161.8M545.2 161.4L540.4 161.8L541.6 166.4M553.0 152.2L540.3 143.5M545.0 143.0L540.3 143.5L541.6 148.1M553.0 133.7L539.9 125.5M544.6 124.8L539.9 125.5L541.4 130.0M553.0 114.9L540.1 106.5M544.8 105.9L540.1 106.5L541.5 111.1M553.0 96.0L540.7 86.6M545.5 86.4L540.7 86.6L541.8 91.3M553.0 77.0L540.9 67.3M545.7 67.2L540.9 67.3L541.9 72.0M553.0 57.7L540.8 48.2M545.6 48.0L540.8 48.2L541.8 52.9M553.0 38.3L540.7 29.0M545.4 28.7L540.7 29.0L541.7 33.7M570.0 570.5L575.3 585.1M571.1 582.7L575.3 585.1L576.9 580.6M570.0 553.6L575.3 568.2M571.1 565.8L575.3 568.2L576.9 563.6M570.0 536.7L574.0 551.6M570.0 548.9L574.0 551.6L576.0 547.3M570.0 519.7L573.4 534.8M569.6 532.0L573.4 534.8L575.6 530.6M570.0 502.8L554.5 504.2M557.9 500.8L554.5 504.2L558.5 506.9M570.0 485.8L554.5 485.8M558.1 482.8L554.5 485.8L558.1 488.9M570.0 468.9L554.5 468.2M558.3 465.3L554.5 468.2L558.0 471.5M570.0 400.5L554.5 400.9M558.1 397.7L554.5 400.9L558.2 403.9M570.0 383.3L554.5 383.3M558.1 380.3L554.5 383.3L558.1 386.4M570.0 366.1L554.5 366.1M558.1 363.0L554.5 366.1L558.1 369.2M570.0 348.8L554.5 348.8M558.1 345.7L554.5 348.8L558.1 351.8M570.0 331.4L554.5 330.8M558.3 327.9L554.5 330.8L558.0 334.0M570.0 313.9L554.6 311.7M558.7 309.2L554.6 311.7L557.8 315.3M570.0 296.4L555.4 291.1M559.9 289.4L555.4 291.1L557.8 295.2M570.0 278.7L555.4 273.4M559.9 271.8L555.4 273.4L557.8 277.6M570.0 261.0L555.4 255.7M559.9 254.0L555.4 255.7L557.8 259.8M570.0 243.2L555.4 237.9M559.9 236.2L555.4 237.9L557.8 242.0M570.0 225.2L555.9 218.7M560.5 217.4L555.9 218.7L557.9 223.0M570.0 207.2L556.2 200.1M560.8 199.0L556.2 200.1L558.0 204.5M570.0 189.0L555.9 182.4M560.5 181.2L555.9 182.4L557.9 186.8M570.0 170.7L556.2 163.6M560.8 162.5L556.2 163.6L558.0 168.0M570.0 152.2L555.9 145.7M560.5 144.5L555.9 145.7L557.9 150.0M570.0 133.7L556.2 126.6M560.9 125.5L556.2 126.6L558.0 131.0M570.0 114.9L557.0 106.5M561.7 105.9L557.0 106.5L558.4 111.1M570.0 96.0L559.0 85.1M563.8 85.5L559.0 85.1L559.4 89.9M570.0 77.0L558.8 66.2M563.6 66.6L558.8 66.2L559.3 71.0M570.0 57.7L559.0 46.8M563.8 47.2L559.0 46.8L559.4 51.5M570.0 38.3L558.5 27.8M563.3 28.0L558.5 27.8L559.2 32.6M586.9 570.5L589.8 585.7M586.1 582.7L589.8 585.7L592.1 581.5M586.9 553.6L594.6 567.0M590.1 565.4L594.6 567.0L595.5 562.3M586.9 536.7L598.7 546.6M593.9 546.6L598.7 546.6L597.9 541.9M586.9 519.7L574.2 528.6M575.4 524.0L574.2 528.6L579.0 529.1M586.9 502.8L571.4 502.8M575.0 499.7L571.4 502.8L575.0 505.9M586.9 485.8L571.4 484.8M575.3 482.0L571.4 484.8L574.9 488.1M586.9 468.9L571.4 468.1M575.2 465.2L571.4 468.1L574.9 471.4M586.9 451.8L571.4 451.8M575.1 448.7L571.4 451.8L575.0 454.9M586.9 434.8L571.4 434.7M575.1 431.7L571.4 434.7L575.0 437.8M586.9 417.7L571.4 417.7M575.0 414.6L571.4 417.7L575.0 420.8M586.9 400.5L571.4 400.5M575.1 397.4L571.4 400.5L575.0 403.6M586.9 383.3L571.4 383.1M575.1 380.1L571.4 383.1L575.0 386.3M586.9 366.1L571.4 365.8M575.1 362.8L571.4 365.8L575.0 369.0M586.9 348.8L571.4 348.5M575.1 345.5L571.4 348.5L575.0 351.6M586.9 331.4L571.4 330.6M575.2 327.7L571.4 330.6L574.9 333.9M586.9 313.9L571.6 311.4M575.7 309.0L571.6 311.4L574.7 315.0M586.9 296.4L572.1 291.6M576.6 289.8L572.1 291.6L574.7 295.6M586.9 278.7L572.3 273.4M576.8 271.7L572.3 273.4L574.7 277.5M586.9 261.0L572.3 255.8M576.8 254.1L572.3 255.8L574.7 259.9M586.9 243.2L572.4 237.7M576.9 236.1L572.4 237.7L574.7 241.9M586.9 225.2L572.7 219.0M577.3 217.7L572.7 219.0L574.8 223.3M586.9 207.2L572.8 200.7M577.4 199.4L572.8 200.7L574.8 205.0M586.9 189.0L572.8 182.6M577.4 181.3L572.8 182.6L574.8 186.9M586.9 170.7L572.8 164.3M577.4 163.0L572.8 164.3L574.8 168.6M586.9 152.2L572.7 146.0M577.3 144.6L572.7 146.0L574.8 150.3M586.9 133.7L572.7 127.3M577.3 126.0L572.7 127.3L574.8 131.6M586.9 114.9L573.5 107.0M578.3 106.2L573.5 107.0L575.1 111.5M586.9 96.0L575.2 85.8M580.0 85.9L575.2 85.8L576.0 90.5M586.9 77.0L575.9 66.0M580.7 66.4L575.9 66.0L576.3 70.8M586.9 57.7L576.0 46.6M580.8 47.1L576.0 46.6L576.4 51.4M586.9 38.3L575.9 27.3M580.7 27.7L575.9 27.3L576.3 32.1M603.8 570.5L592.7 581.4M593.2 576.6L592.7 581.4L597.5 581.0M603.8 519.7L588.5 522.4M591.6 518.8L588.5 522.4L592.7 524.8M603.8 502.8L588.3 503.3M591.9 500.1L588.3 503.3L592.1 506.3M603.8 485.8L588.3 485.8M592.0 482.8L588.3 485.8L592.0 488.9M603.8 468.9L588.3 468.7M592.0 465.7L588.3 468.7L591.9 471.9M603.8 451.8L588.3 451.8M592.0 448.7L588.3 451.8L592.0 454.9M603.8 434.8L588.3 434.8M592.0 431.7L588.3 434.8L592.0 437.9M603.8 417.7L588.3 417.7M592.0 414.6L588.3 417.7L592.0 420.8M603.8 400.5L588.3 400.5M592.0 397.4L588.3 400.5L592.0 403.6M603.8 383.3L588.3 383.3M592.0 380.3L588.3 383.3L592.0 386.4M603.8 366.1L588.3 366.1M591.9 363.0L588.3 366.1L592.0 369.2M603.8 348.8L588.3 348.8M592.0 345.7L588.3 348.8L592.0 351.8M603.8 331.4L588.3 330.8M592.1 327.9L588.3 330.8L591.9 334.0M603.8 313.9L588.4 311.7M592.5 309.2L588.4 311.7L591.6 315.3M603.8 296.4L589.2 291.1M593.7 289.4L589.2 291.1L591.6 295.2M603.8 278.7L589.2 273.4M593.7 271.8L589.2 273.4L591.6 277.6M603.8 261.0L589.2 255.7M593.7 254.0L589.2 255.7L591.6 259.8M603.8 243.2L589.2 237.9M593.7 236.2L589.2 237.9L591.6 242.0M603.8 225.2L589.7 218.7M594.4 217.4L589.7 218.7L591.8 223.0M603.8 207.2L589.8 200.5M594.4 199.3L589.8 200.5L591.8 204.9M603.8 189.0L589.7 182.4M594.4 181.2L589.7 182.4L591.8 186.8M603.8 170.7L589.7 164.1M594.4 162.9L589.7 164.1L591.8 168.5M603.8 152.2L589.7 145.7M594.4 144.5L589.7 145.7L591.8 150.0M603.8 133.7L589.6 127.5M594.2 126.1L589.6 127.5L591.7 131.8M603.8 114.9L590.1 107.7M594.8 106.7L590.1 107.7L591.9 112.1M603.8 96.0L591.9 86.1M596.7 86.1L591.9 86.1L592.7 90.8M603.8 77.0L592.5 66.4M597.3 66.6L592.5 66.4L593.0 71.1M603.8 57.7L592.8 46.8M597.6 47.2L592.8 46.8L593.2 51.5M603.8 38.3L593.1 27.0M597.9 27.6L593.1 27.0L593.4 31.8M620.7 570.5L605.2 571.3M608.7 568.0L605.2 571.3L609.0 574.2M620.7 553.6L605.2 554.4M608.7 551.1L605.2 554.4L609.0 557.3M620.7 536.7L605.2 537.5M608.7 534.2L605.2 537.5L609.0 540.4M620.7 519.7L605.2 520.6M608.7 517.3L605.2 520.6L609.0 523.4M620.7 502.8L605.2 503.6M608.7 500.3L605.2 503.6L609.0 506.5M620.7 485.8L605.2 485.9M608.8 482.8L605.2 485.9L608.9 489.0M620.7 468.9L605.2 468.8M608.9 465.8L605.2 468.8L608.9 471.9M620.7 451.8L605.2 451.8M608.9 448.7L605.2 451.8L608.9 454.9M620.7 434.8L605.2 434.8M608.9 431.7L605.2 434.8L608.9 437.9M620.7 417.7L605.2 417.7M608.9 414.6L605.2 417.7L608.9 420.8M620.7 400.5L605.2 400.5M608.9 397.4L605.2 400.5L608.9 403.6M620.7 383.3L605.2 383.4M608.9 380.3L605.2 383.4L608.9 386.4M620.7 366.1L605.2 366.1M608.9 363.0L605.2 366.1L608.9 369.2M620.7 348.8L605.2 348.8M608.9 345.7L605.2 348.8L608.9 351.8M620.7 331.4L605.2 330.7M609.0 327.8L605.2 330.7L608.7 333.9M620.7 313.9L605.4 311.4M609.5 308.9L605.4 311.4L608.5 315.0M620.7 296.4L605.9 291.6M610.4 289.8L605.9 291.6L608.5 295.7M620.7 278.7L606.1 273.4M610.7 271.7L606.1 273.4L608.5 277.5M620.7 261.0L606.1 255.7M610.6 254.1L606.1 255.7L608.5 259.9M620.7 243.2L606.2 237.6M610.7 236.1L606.2 237.6L608.5 241.8M620.7 225.2L606.5 218.9M611.2 217.6L606.5 218.9L608.6 223.2M620.7 207.2L606.7 200.5M611.3 199.3L606.7 200.5L608.7 204.9M620.7 189.0L606.7 182.4M611.3 181.2L606.7 182.4L608.7 186.7M620.7 170.7L606.7 164.1M611.3 162.9L606.7 164.1L608.7 168.4M620.7 152.2L606.5 145.9M611.2 144.6L606.5 145.9L608.6 150.2M620.7 133.7L606.3 128.0M610.8 126.5L606.3 128.0L608.6 132.2M620.7 114.9L606.4 108.8M611.0 107.4L606.4 108.8L608.6 113.1M620.7 96.0L607.2 88.3M612.0 87.5L607.2 88.3L608.9 92.8M620.7 77.0L608.8 67.0M613.6 67.0L608.8 67.0L609.6 71.7M620.7 57.7L610.3 46.2M615.1 46.9L610.3 46.2L610.5 51.0M620.7 38.3L610.5 26.6M615.2 27.4L610.5 26.6L610.6 31.4M637.6 570.5L622.1 571.3M625.6 568.0L622.1 571.3L626.0 574.2M637.6 553.6L622.1 554.4M625.6 551.1L622.1 554.4L626.0 557.3M637.6 536.7L622.1 537.5M625.6 534.2L622.1 537.5L626.0 540.4M637.6 519.7L622.1 520.6M625.6 517.3L622.1 520.6L626.0 523.4M637.6 502.8L622.1 503.6M625.6 500.3L622.1 503.6L626.0 506.5M637.6 485.8L622.1 485.8M625.8 482.8L622.1 485.8L625.8 488.9M637.6 468.9L622.1 468.8M625.8 465.7L622.1 468.8L625.8 471.9M637.6 451.8L622.1 451.8M625.8 448.7L622.1 451.8L625.8 454.9M637.6 434.8L622.1 434.8M625.8 431.7L622.1 434.8L625.8 437.9M637.6 417.7L622.1 417.7M625.8 414.6L622.1 417.7L625.8 420.8M637.6 400.5L622.1 400.5M625.8 397.4L622.1 400.5L625.8 403.6M637.6 383.3L622.1 383.3M625.8 380.3L622.1 383.3L625.8 386.4M637.6 366.1L622.1 366.1M625.8 363.0L622.1 366.1L625.8 369.2M637.6 348.8L622.1 348.8M625.8 345.7L622.1 348.8L625.8 351.8M637.6 331.4L622.1 330.8M625.9 327.9L622.1 330.8L625.7 334.0M637.6 313.9L622.3 311.7M626.3 309.2L622.3 311.7L625.5 315.3M637.6 296.4L623.0 291.1M627.5 289.4L623.0 291.1L625.4 295.2M637.6 278.7L623.0 273.4M627.5 271.8L623.0 273.4L625.4 277.6M637.6 261.0L623.0 255.7M627.5 254.0L623.0 255.7L625.4 259.8M637.6 243.2L623.0 237.9M627.5 236.2L623.0 237.9L625.4 242.0M637.6 225.2L623.6 218.7M628.2 217.4L623.6 218.7L625.6 223.0M637.6 207.2L623.6 200.6M628.2 199.3L623.6 200.6L625.6 204.9M637.6 189.0L623.6 182.4M628.2 181.2L623.6 182.4L625.6 186.8M637.6 170.7L623.6 164.1M628.2 162.9L623.6 164.1L625.6 168.5M637.6 152.2L623.6 145.7M628.2 144.5L623.6 145.7L625.6 150.0M637.6 133.7L623.3 127.7M627.9 126.3L623.3 127.7L625.5 132.0M637.6 114.9L623.3 108.9M627.9 107.5L623.3 108.9L625.5 113.2M637.6 96.0L623.7 89.1M628.4 88.0L623.7 89.1L625.6 93.5M637.6 77.0L625.3 67.5M630.1 67.3L625.3 67.5L626.3 72.2M637.6 57.7L627.1 46.4M631.8 47.0L627.1 46.4L627.3 51.1M637.6 38.3L627.3 26.7M632.1 27.4L627.3 26.7L627.4 31.5"/>
</g>
<g clip-path="url(#mapclip)" fill="#c0c0c0" stroke="#000" stroke-width="1" stroke-linejoin="round" shape-rendering="crispEdges">
<polygon points="100,30 502,30 502.2,37.3 500.6,44.3 493.7,48.9 494.5,56.7 499.1,62.9 495.2,68.3 486.7,72.2 483.6,77.6 479.0,83.0 475.9,88.4 471.2,94.6 466.6,98.5 460.4,100.0 461.2,107.8 462.7,114.0 458.8,121.7 453.0,127.7 448.4,133.9 442.2,140.1 434.5,144.8 429.8,151.0 423.6,156.4 417.4,161.0 409.7,164.9 408.9,169.5 401.9,172.6 394.2,175.0 386.5,174.2 381.8,175.7 377.2,177.3 371.0,181.2 364.8,180.4 363.2,175.7 358.6,169.5 357.0,171.1 359.4,181.9 355.5,186.6 350.8,181.9 349.3,188.1 344.6,192.8 340.0,195.9 344.6,194.4 338.4,192.1 330.6,193.6 322.9,196.0 316.7,198.3 310.5,201.4 306.6,205.3 305.9,200.6 304.3,208.4 308.2,214.5 309.0,218.4 302.8,220.7 298.9,221.5 296.6,214.5 294.3,208.4 295.8,202.2 298.1,198.3 293.5,195.2 291.2,194.4 288.8,198.3 284.2,197.5 279.5,194.4 274.9,191.3 270.3,196.0 264.8,197.5 261.0,202.2 256.3,205.3 251.7,209.1 243.9,207.6 243.2,211.5 240.8,216.1 237.7,222.3 233.1,226.2 230.0,228.5 227.9,235.1 225.5,242.9 228.6,249.1 233.3,255.3 238.7,259.9 240.3,266.1 246.5,272.3 252.6,280.0 260.4,287.8 268.1,294.0 274.3,299.4 279.0,306.4 281.3,312.5 282.1,318.0 282.8,317.7 285.2,328.6 288.3,337.9 289.8,348.7 288.3,356.5 285.9,364.2 284.4,371.9 280.5,376.6 274.3,380.5 268.1,384.3 261.9,388.2 255.7,391.3 249.5,394.4 244.9,397.5 242.6,402.9 239.5,407.5 232.8,411.3 222.0,418.5 216.6,423.0 212.1,423.9 211.2,418.5 212.1,409.5 214.8,402.3 213.9,398.6 207.5,396.8 202.1,393.2 198.5,396.8 194.9,389.6 191.3,389.6 193.1,382.4 189.5,381.5 187.7,386.0 184.1,382.4 182.3,375.2 178.6,368.8 174.1,372.5 169.6,366.1 167.8,360.7 162.4,355.3 158.8,353.5 154.3,356.2 147.0,353.5 142.5,348.1 147.0,342.6 146.1,339.9 137.1,339.0 129.9,342.6 130.8,353.5 129.9,364.3 126.3,371.5 122.6,380.6 119.0,387.8 117.2,393.2 116.3,402.3 118.1,409.5 120.8,413.1 125.4,411.3 129.0,409.5 129.9,416.7 129.0,420.3 133.5,427.5 136.2,434.8 137.1,443.8 142.7,449.7 152.2,453.9 160.6,460.3 169.1,466.6 177.5,473.9 183.8,481.3 188.0,489.7 189.1,498.2 186.9,506.6 189.1,517.1 193.3,525.5 197.5,533.9 200.6,542.4 199.6,546.6 192.2,546.6 190.1,549.7 183.8,544.5 175.4,538.2 166.9,531.8 160.6,525.5 153.3,519.2 150.1,510.8 144.8,504.5 140.6,498.2 139.6,487.6 136.4,477.1 135.4,466.6 134.3,457.1 129.1,460.3 126.9,453.9 123.8,447.6 118.5,441.3 114.3,435.0 100,434"/>
<polygon points="100,508 112.2,508.7 118.5,512.9 124.8,518.2 130.1,523.4 134.3,527.6 141.7,532.9 146.9,538.2 145.9,531.8 151.2,533.9 154.3,540.3 159.6,539.2 160.6,543.4 164.8,546.6 168.0,552.9 173.3,557.1 180.6,556.1 182.7,560.3 179.6,563.4 185.9,561.3 190.1,561.3 192.2,565.5 195.4,569.7 196.4,576.1 125.9,576.1 123.8,569.7 116.4,565.5 114.3,559.2 111.8,552.9 100,553"/>
<polygon points="284,580 284,570 283,565 280.5,557.5 283,550 286.75,542.5 293,537.5 292.2,537.5 296.6,541.9 303.2,541.9 311.9,544.1 318.5,541.9 320.7,530.9 322.9,524.3 331.7,521.0 342.6,518.8 351.4,515.5 358.0,506.8 364.6,498.0 369.0,492.5 377.7,489.2 384.3,485.9 390.9,484.8 393.1,479.4 399.7,473.9 404.1,467.3 410.6,458.5 413.9,451.9 416.1,457.4 419.4,451.9 423.8,457.4 428.2,462.9 429.3,469.5 434.8,472.8 443.5,476.1 450.1,479.4 455.6,481.5 452.3,484.8 443.5,485.9 437.0,489.2 441.4,493.6 434.8,496.9 430.4,500.2 426.0,505.7 430.4,511.2 423.8,515.5 428.2,522.1 432.6,530.9 437.0,539.7 443.5,546.3 450.1,552.8 443.5,556.1 434.8,556.1 430.4,561.6 426.0,570.4 424.9,579.2"/>
<polygon points="461.9,387.3 461.2,391.9 457.3,395.0 452.6,398.1 448.0,402.0 444.9,407.4 441.0,412.1 435.6,416.7 430.2,421.4 425.5,426.0 421.7,430.6 418.6,432.2 419.4,429.1 423.2,424.5 427.9,419.0 433.3,414.4 438.7,409.0 443.4,403.5 446.5,399.7 451.1,395.8 455.0,391.9 458.1,388.1"/>
<polygon points="456.5,381.1 460.4,378.0 460.1,384.2 457.3,385.0"/>
<polygon points="466.6,362.5 473.5,364.1 472.8,368.7 468.1,370.3"/>
<polygon points="494.2,128.6 498.1,130.1 500.1,134.0 499.6,141.0 497.3,148.7 494.2,158.0 491.1,167.3 487.2,175.0 484.9,179.7 483.4,187.4 481.0,189.7 479.5,184.3 476.4,179.7 473.3,175.0 471.7,168.8 471.0,161.1 473.3,153.4 477.2,145.6 481.8,138.6 486.5,133.2 490.3,130.1"/>
<polygon points="276.5,241.6 279.5,235.5 285.7,229.3 291.9,226.2 299.7,224.6 307.4,224.6 311.3,223.1 314.4,226.9 316.7,230.8 313.6,235.5 310.5,240.9 307.4,247.1 301.2,251.7 296.6,254.8 291.9,257.1 285.7,255.6 279.5,252.5 277.2,247.8"/>
<polygon points="479.4,252.1 483.2,250.5 487.9,249.8 493.3,252.9 498.7,256.0 503.4,254.4 506.5,251.3 506.5,259.1 504.9,266.8 508.0,273.0 510.3,279.2 509.5,285.4 506.5,290.8 501.8,294.7 496.4,297.8 494.8,304.0 493.5,301.2 491.9,307.4 493.5,312.6 495.6,318.8 497.6,326.1 500.8,330.2 504.9,331.8 508.0,329.2 510.1,326.6 514.2,326.1 517.4,328.2 519.4,332.3 521.5,334.4 524.6,332.3 528.8,331.8 534.0,332.8 536.0,334.9 531.9,335.9 528.8,337.5 529.8,340.6 532.9,343.7 537.1,346.8 536.5,350.0 538.1,353.6 536.0,356.2 534.0,353.1 531.9,350.0 528.8,347.9 525.7,344.8 522.5,340.6 519.4,337.5 516.3,335.4 514.2,333.4 511.6,332.8 511.1,337.5 513.2,342.7 512.2,344.8 510.1,341.7 508.0,337.5 505.9,335.4 502.8,333.9 499.7,332.3 495.6,331.8 492.5,334.4 489.3,335.9 486.2,337.5 483.1,336.5 478.6,330.2 481.7,325.5 483.2,320.1 478.6,318.6 474.7,320.1 471.6,317.0 469.3,309.3 468.5,308.6 466.2,300.9 464.6,293.1 466.2,290.8 469.3,295.5 473.9,294.7 474.7,286.9 475.5,277.6 476.3,268.4 477.8,259.1"/>
<polygon points="538.1,330.8 541.2,331.8 542.3,334.9 540.7,338.0 538.1,338.5 537.1,335.4"/>
<polygon points="500.2,314.2 502.3,314.7 502.3,319.9 500.2,319.9"/>
<polygon points="476.9,338.5 480.0,339.6 484.2,340.1 489.3,343.2 492.5,347.9 494.0,354.1 492.5,359.3 489.3,362.4 486.2,361.4 484.2,356.2 482.1,350.0 480.0,345.8 477.4,341.7"/>
<polygon points="499.7,340.1 502.3,339.6 503.3,342.2 501.8,344.2 499.7,342.7"/>
<polygon points="523.9,356.2 527.0,357.8 531.1,361.4 534.8,365.6 536.8,369.2 534.8,368.7 531.1,365.6 527.0,363.0 524.4,362.5 523.3,365.6 521.8,364.5 522.8,360.4"/>
<polygon points="541.5,357.8 545.7,356.7 551.9,356.7 557.1,357.8 559.7,361.4 560.2,366.6 561.2,371.8 562.8,377.0 560.7,380.6 557.6,379.6 554.0,377.5 552.9,373.3 552.4,370.2 548.8,367.6 545.7,364.5 543.1,361.4"/>
<polygon points="541.5,372.3 544.6,373.9 545.7,377.0 548.8,377.5 551.9,380.1 552.9,384.2 554.0,389.4 556.0,392.5 555.0,396.7 552.4,398.2 549.8,397.2 549.8,392.5 548.2,388.4 545.7,385.3 544.6,381.1 543.1,378.0"/>
<polygon points="501.6,368.7 504.2,369.7 507.3,372.3 511.4,374.4 515.6,374.9 520.2,374.4 521.8,377.0 519.7,380.1 516.6,382.2 513.5,385.3 510.4,387.4 506.2,388.9 503.1,391.5 501.0,392.0 501.6,387.4 502.6,382.2 504.2,377.0 503.1,372.8"/>
<polygon points="520.8,384.8 524.9,384.2 527.5,386.3 526.5,391.5 524.4,395.7 522.3,399.8 521.8,405.0 523.3,410.2 522.3,414.3 520.2,416.4 518.2,413.3 515.6,409.1 511.4,406.5 509.3,404.0 510.9,401.4 515.6,400.3 517.6,396.7 518.7,391.5 519.2,387.4"/>
<polygon points="534.8,383.2 536.3,384.2 535.8,388.4 533.7,392.5 530.6,396.7 528.0,400.8 526.5,406.0 525.4,410.2 524.4,408.1 525.4,401.9 527.5,396.7 530.6,391.5 533.2,386.8"/>
<polygon points="535.8,400.8 539.4,398.2 542.5,398.2 544.6,400.3 544.1,404.0 541.5,406.0 537.4,407.1 534.2,405.5 533.7,402.9"/>
<polygon points="510.4,357.8 513.5,358.3 513.0,360.4 510.9,359.9"/>
<polygon points="501.6,447.4 503.9,439.7 508.6,435.0 514.8,432.7 518.6,430.4 520.2,425.7 526.4,423.4 531.8,425.0 533.4,429.6 531.0,433.5 534.9,431.9 539.5,431.2 541.9,425.7 548.8,424.2 549.6,419.5 556.6,418.8 562.0,417.2 560.5,411.8 559.7,405.6 563.5,406.4 567.4,410.3 572.1,413.4 574.4,419.5 575.2,427.3 576.7,435.0 579.8,441.2 579.8,447.4 576.7,452.1 574.4,454.4 573.6,461.4 572.1,456.7 570.5,452.1 567.4,447.4 565.1,445.9 562.8,452.1 559.7,456.7 562.8,461.4 565.1,466.0 562.8,469.9 558.9,473.0 555.0,468.3 547.3,466.8 541.1,464.5 537.2,460.6 536.5,454.4 539.5,450.5 540.3,445.9 536.5,442.8 531.8,438.1 527.2,438.9 524.8,442.8 519.4,444.3 516.3,445.9 511.7,441.2 508.6,444.3 506.3,449.0 504.7,452.1 501.6,451.3"/>
<polygon points="465.75,575 465.75,570 468.25,561.25 473.25,560 477,553.75 484.5,548.75 492,547.5 492.4,550.2 500.6,552.3 511.0,552.3 521.3,553.3 531.6,555.4 539.9,552.3 546.1,546.1 551.2,543.0 556.4,544.0 554.3,549.2 550.2,554.3 544.0,559.5 535.7,562.6 525.4,564.6 515.1,561.5 504.8,560.5 492.4,562.6 484.1,562.6 478,563 474,575"/>
<polygon points="609.0,528.5 613.2,526.5 615.2,530.6 612.1,535.7 608.0,535.7 605.9,532.6"/>
<polygon points="601.8,533.7 603.9,539.9 602.8,546.1 599.7,551.2 595.6,552.3 594.6,546.1 596.6,539.9 598.7,535.7"/>
<polygon points="612.1,544.0 615.2,545.0 614.2,550.2 609.0,554.3 605.9,557.4 612.1,561.5 616.3,564.6 612.1,564.6 603.9,560.5 601.8,566.7 599.7,569.8 597.7,562.6 596.6,557.4 601.8,555.4 605.9,550.2"/>
<polygon points="582.2,493.4 583.8,494.5 583.8,500.6 582.2,500.6"/>
<polygon points="560.5,507.3 563.2,507.9 563.6,512.0 561.1,512.0"/>
<polygon points="491.8,235.6 494.8,235.6 494.8,238 491.8,238"/>
<polygon points="500,232.5 502,232.5 502,235 500,235"/>
<polygon points="418.3,445.5 420.5,445.0 421,447 418.8,447.8"/>
<polygon points="268.5,498.5 273,504.5 269,510 264.5,504"/>
</g>
<g clip-path="url(#mapclip)" fill="none" stroke="#000" stroke-width="1" stroke-linejoin="round" shape-rendering="crispEdges">
<polyline points="113.0,167.7 121.8,168.4 123.5,171.9 119.3,172.7 118.5,180.2 116.8,185.2 119.3,187.2 129.3,188.4 131.8,195.2 138.0,199.0 143.0,197.7 149.3,193.2 151.1,200.2"/>
<polyline points="159.3,201.5 156.8,185.2 160.6,179.7 168.1,180.7 172.6,174.7 181.8,180.2 188.1,173.9 191.9,175.2 196.9,179.7 201.9,173.9 208.1,174.7 211.1,166.4 220.6,163.4 225.7,168.9 231.9,172.2 244.4,172.7 245.2,177.7 241.9,182.7 244.4,188.2 253.2,194.0 261.2,196.5"/>
<polyline points="168.1,180.7 173.6,187.7 179.3,192.7 180.6,201.5"/>
<polyline points="113.0,224.8 121.8,219.8 131.8,218.5 135.5,212.3 140.5,203.5 141.8,201.0"/>
<polyline points="131.8,218.5 139.3,223.5 138.0,232.3 145.5,233.5 151.8,233.5 153.1,242.3 149.3,254.8 148.1,263.6 145.5,268.6 149.3,269.8 158.1,262.3 165.6,257.3 174.3,263.6 183.1,258.6 186.9,253.6 195.6,254.8 203.1,262.3 210.6,271.1 210.6,283.6 216.9,293.6 223.1,297.4 224.4,306.1 221.9,316.1 224.4,323.7 219.4,326.2"/>
<polyline points="179.3,201.0 183.1,208.5 193.1,212.3 200.6,208.5 208.1,214.8 205.6,219.8 213.1,224.8 210.6,229.8 201.9,232.3 196.9,237.3 204.4,242.3 213.1,247.3 218.1,254.8 225.7,261.1 233.2,269.8 238.2,276.1 241.9,286.1 248.2,288.6 251.9,299.9 258.2,306.1 259.4,312.4 256.9,319.9"/>
<polyline points="171.8,366.2 170.6,351.2 170.6,338.7 176.8,331.2 181.8,326.2 193.1,324.9 208.1,323.7 219.4,326.2 228.2,328.7 230.7,331.2 235.7,323.7 241.9,321.2 248.2,323.7 256.9,319.9"/>
<polyline points="113.0,331.2 115.5,341.2 118.0,351.2 120.5,361.2 121.8,367.5"/>
<polyline points="256.5,320.1 255.0,328.6 258.1,336.3 258.8,344.1 257.3,351.8 258.1,359.5 252.6,361.9 246.5,364.2 240.3,366.5 237.9,370.4 231.0,371.9 228.6,375.0 230.2,379.7 234.8,382.8 235.6,386.6 231.0,385.9 226.3,384.3 221.7,385.9 217.0,387.4 210.8,390.5 206.3,393.6"/>
<polyline points="134.3,457.1 139.6,459.2 144.8,462.4 149.1,465.5 148.0,471.8 151.2,473.9 157.5,470.8 162.7,471.8 165.9,466.6"/>
<polyline points="292.2,537.5 299.9,549.5 307.5,556.1 318.5,552.8 330.6,551.7 337.2,545.2 348.1,544.1 362.4,548.5 373.4,545.2 378.8,544.1 381.0,535.3 386.5,528.7 386.5,519.9 393.1,511.2 395.3,500.2 401.9,496.9 412.8,496.9 421.6,498.0 430.4,500.2"/>
<polyline points="371.2,492.5 376.6,501.3 379.9,501.3 381.0,489.2"/>
<polyline points="384.3,487.0 386.5,496.9 389.8,496.9 388.7,488.1"/>
</g>
<g clip-path="url(#mapclip)" fill="#000" stroke="none">
<circle cx="583.2" cy="505.8" r="1.0"/>
<circle cx="559.5" cy="523.4" r="1.0"/>
<circle cx="559.5" cy="530.6" r="1.0"/>
<circle cx="559.5" cy="534.7" r="1.0"/>
<circle cx="589.4" cy="490.3" r="1.0"/>
<circle cx="460.1" cy="160.0" r="0.8"/>
<circle cx="462.5" cy="160.2" r="1.1"/>
<circle cx="458.2" cy="156.3" r="0.8"/>
<circle cx="462.6" cy="159.5" r="0.9"/>
<circle cx="464.7" cy="162.2" r="1.0"/>
<circle cx="465.7" cy="165.7" r="0.9"/>
<circle cx="458.4" cy="157.7" r="1.3"/>
<circle cx="602.6" cy="107.7" r="1.3"/>
<circle cx="604.3" cy="103.0" r="1.2"/>
<circle cx="606.3" cy="102.4" r="1.5"/>
<circle cx="604.1" cy="105.6" r="1.6"/>
<circle cx="603.1" cy="106.9" r="1.7"/>
<circle cx="606.3" cy="103.6" r="1.1"/>
<circle cx="605.0" cy="104.4" r="1.4"/>
<circle cx="601.7" cy="109.3" r="1.5"/>
<circle cx="607.6" cy="101.6" r="1.5"/>
<circle cx="596.5" cy="110.1" r="1.4"/>
<circle cx="596.2" cy="108.5" r="1.2"/>
<circle cx="598.4" cy="109.8" r="0.9"/>
<circle cx="595.5" cy="108.7" r="1.0"/>
<circle cx="582.7" cy="107.8" r="0.9"/>
<circle cx="624.6" cy="73.6" r="1.6"/>
<circle cx="624.6" cy="74.7" r="1.7"/>
<circle cx="624.6" cy="75.5" r="1.7"/>
<circle cx="632.2" cy="68.9" r="1.3"/>
<circle cx="628.2" cy="74.2" r="1.1"/>
<circle cx="624.9" cy="74.0" r="1.4"/>
<circle cx="628.7" cy="70.1" r="1.3"/>
<circle cx="627.5" cy="74.1" r="1.6"/>
<circle cx="619.8" cy="81" r="1.2"/>
<circle cx="613" cy="88.8" r="0.9"/>
<circle cx="536.0" cy="145.8" r="0.9"/>
<circle cx="540.6" cy="144.4" r="1.5"/>
<circle cx="534.1" cy="145.1" r="1.3"/>
<circle cx="529.6" cy="147.0" r="1.0"/>
<circle cx="532.7" cy="145.1" r="1.0"/>
<circle cx="530.8" cy="146.4" r="1.5"/>
<circle cx="535.9" cy="144.3" r="1.1"/>
<circle cx="546.8" cy="139" r="0.8"/>
<circle cx="518.8" cy="143.5" r="0.8"/>
<circle cx="556.6" cy="138.6" r="1.5"/>
<circle cx="557.8" cy="136.9" r="1.1"/>
<circle cx="556.8" cy="138.5" r="1.1"/>
<circle cx="494" cy="188.4" r="0.9"/>
<circle cx="501.1" cy="209.3" r="0.9"/>
<circle cx="500.0" cy="215.0" r="1.2"/>
<circle cx="502.2" cy="217.9" r="0.9"/>
<circle cx="501.0" cy="210.9" r="1.1"/>
<circle cx="489.4" cy="241.3" r="1.0"/>
<circle cx="491.7" cy="245.1" r="0.8"/>
<circle cx="501" cy="244.4" r="1.8"/>
<circle cx="498.6" cy="459.8" r="1.8"/>
<circle cx="505.3" cy="458.2" r="1.6"/>
<circle cx="498.3" cy="459.0" r="1.0"/>
<circle cx="495.7" cy="459.3" r="1.6"/>
<circle cx="505.4" cy="458.2" r="1.8"/>
<circle cx="505.2" cy="456.5" r="1.2"/>
<circle cx="497.3" cy="459.7" r="1.7"/>
<circle cx="504.4" cy="457.8" r="1.6"/>
<circle cx="482.2" cy="470.7" r="1.4"/>
<circle cx="488.4" cy="467.0" r="1.5"/>
<circle cx="485.0" cy="470.1" r="1.2"/>
<circle cx="486.1" cy="469.3" r="1.0"/>
<circle cx="481.4" cy="470.6" r="1.5"/>
<circle cx="483.2" cy="470.7" r="1.4"/>
<circle cx="484.6" cy="468.1" r="0.9"/>
<circle cx="477.0" cy="475.3" r="1.6"/>
<circle cx="471.7" cy="479.7" r="1.1"/>
<circle cx="468.3" cy="479.6" r="1.4"/>
<circle cx="468.7" cy="479.3" r="1.6"/>
<circle cx="469.8" cy="479.7" r="1.6"/>
<circle cx="471.6" cy="479.1" r="1.3"/>
<circle cx="470.6" cy="478.2" r="1.0"/>
<circle cx="466.8" cy="481.2" r="1.3"/>
<circle cx="474.1" cy="476.5" r="1.3"/>
<circle cx="461.1" cy="486.3" r="1.1"/>
<circle cx="457.5" cy="489.4" r="1.1"/>
<circle cx="461.1" cy="488.2" r="1.0"/>
<circle cx="460.9" cy="487.0" r="1.2"/>
<circle cx="427.7" cy="507.1" r="1.7"/>
<circle cx="430.5" cy="512.6" r="1.1"/>
<circle cx="429.5" cy="509.9" r="1.0"/>
<circle cx="424.8" cy="500.2" r="1.1"/>
<circle cx="425.0" cy="501.0" r="1.7"/>
<circle cx="425.8" cy="502.2" r="1.0"/>
<circle cx="432.2" cy="514.2" r="1.8"/>
<circle cx="427.2" cy="507.3" r="1.6"/>
<circle cx="425.1" cy="501.9" r="1.2"/>
<circle cx="425.1" cy="503.1" r="0.9"/>
<circle cx="428.3" cy="507.8" r="1.2"/>
<circle cx="429.0" cy="509.2" r="1.8"/>
<circle cx="433.1" cy="530.1" r="0.9"/>
<circle cx="428.9" cy="520.0" r="0.8"/>
<circle cx="431.1" cy="526.7" r="0.9"/>
<circle cx="429.8" cy="522.3" r="1.2"/>
<circle cx="427.4" cy="521.7" r="1.0"/>
<circle cx="417.5" cy="436.0" r="1.3"/>
<circle cx="417.4" cy="434.6" r="1.3"/>
<circle cx="418.3" cy="434.3" r="1.4"/>
<circle cx="416.7" cy="435.0" r="1.0"/>
<circle cx="202.8" cy="560.6" r="1.0"/>
<circle cx="201.5" cy="563.3" r="1.2"/>
<circle cx="200.3" cy="552.6" r="1.4"/>
<circle cx="202.3" cy="563.3" r="0.9"/>
<circle cx="200.0" cy="559.2" r="1.6"/>
<circle cx="196.3" cy="556.6" r="1.4"/>
<circle cx="202.7" cy="556.7" r="1.7"/>
<circle cx="194.2" cy="560.9" r="1.7"/>
<circle cx="195.0" cy="562.4" r="1.6"/>
<circle cx="205.2" cy="557.4" r="1.7"/>
<circle cx="198.1" cy="550.3" r="1.3"/>
<circle cx="198.8" cy="559.9" r="1.0"/>
<circle cx="207.0" cy="561.7" r="1.2"/>
<circle cx="201.4" cy="560.5" r="1.7"/>
<circle cx="205.1" cy="552.0" r="1.2"/>
<circle cx="200.2" cy="563.4" r="1.4"/>
<circle cx="203.3" cy="563.6" r="1.2"/>
<circle cx="208.6" cy="555.7" r="1.4"/>
<circle cx="200.3" cy="567.8" r="1.2"/>
<circle cx="199.8" cy="558.3" r="1.3"/>
<circle cx="193.7" cy="559.1" r="1.1"/>
<circle cx="199.4" cy="558.0" r="1.2"/>
<circle cx="204.8" cy="561.4" r="0.9"/>
<circle cx="204.9" cy="558.8" r="1.1"/>
<circle cx="194.4" cy="554.3" r="1.7"/>
<circle cx="195.8" cy="550.9" r="1.8"/>
<circle cx="196.0" cy="561.7" r="1.9"/>
<circle cx="204.5" cy="564.9" r="1.5"/>
<circle cx="207.9" cy="560.5" r="1.8"/>
<circle cx="194.6" cy="551.9" r="1.7"/>
<circle cx="204.2" cy="563.6" r="1.4"/>
<circle cx="204.1" cy="550.3" r="1.7"/>
<circle cx="192.7" cy="553.2" r="1.6"/>
<circle cx="198.5" cy="553.5" r="0.9"/>
<circle cx="203.6" cy="562.5" r="1.0"/>
<circle cx="203.5" cy="551.6" r="1.5"/>
<circle cx="194.8" cy="552.1" r="1.4"/>
<circle cx="208.0" cy="558.2" r="1.6"/>
<circle cx="190.1" cy="551.0" r="1.1"/>
<circle cx="196.1" cy="552.0" r="0.9"/>
<circle cx="194.8" cy="551.7" r="1.2"/>
<circle cx="194.0" cy="553.5" r="1.3"/>
<circle cx="190.5" cy="551.1" r="1.0"/>
<circle cx="191.6" cy="548.6" r="1.1"/>
<circle cx="235.3" cy="511.9" r="1.1"/>
<circle cx="235.9" cy="517.3" r="1.3"/>
<circle cx="235.6" cy="512.8" r="1.1"/>
<circle cx="235.6" cy="517.1" r="1.6"/>
<circle cx="235.0" cy="510.6" r="1.5"/>
<circle cx="233.3" cy="513.8" r="1.1"/>
<circle cx="237.4" cy="511.6" r="1.9"/>
<circle cx="236.5" cy="512.7" r="1.4"/>
<circle cx="237.7" cy="508.5" r="1.4"/>
<circle cx="228.8" cy="520.4" r="1.6"/>
<circle cx="229.7" cy="521.2" r="1.0"/>
<circle cx="225.1" cy="518.6" r="1.0"/>
<circle cx="230.2" cy="517.1" r="1.5"/>
<circle cx="228.4" cy="517.6" r="1.5"/>
<circle cx="228.4" cy="519.0" r="0.9"/>
<circle cx="226.3" cy="519.1" r="1.1"/>
<circle cx="279.2" cy="518.9" r="1.0"/>
<circle cx="280.0" cy="519.3" r="0.7"/>
<circle cx="281.0" cy="525.1" r="0.8"/>
<circle cx="283" cy="527.5" r="0.8"/>
<circle cx="256" cy="553" r="0.9"/>
<circle cx="263.4" cy="490.3" r="0.9"/>
<circle cx="265.5" cy="520" r="0.8"/>
<circle cx="290" cy="514" r="0.8"/>
<circle cx="242.6" cy="422.1" r="1.5"/>
<circle cx="281.9" cy="392" r="0.9"/>
<circle cx="190.5" cy="386.0" r="1.2"/>
<circle cx="190.6" cy="384.2" r="0.9"/>
<circle cx="190.7" cy="382.2" r="1.4"/>
<circle cx="189.8" cy="383.9" r="1.0"/>
<circle cx="191.9" cy="385.7" r="1.3"/>
<circle cx="203.9" cy="405.9" r="0.8"/>
<circle cx="208.4" cy="403.5" r="0.8"/>
<circle cx="174.1" cy="371.5" r="1.0"/>
<circle cx="172.2" cy="371.6" r="1.0"/>
<circle cx="173.7" cy="370.8" r="0.8"/>
<circle cx="172.9" cy="372.4" r="0.9"/>
<circle cx="468.7" cy="365.5" r="1.1"/>
<circle cx="470.1" cy="367.4" r="1.1"/>
<circle cx="466.4" cy="362.6" r="1.4"/>
<circle cx="468.8" cy="367.0" r="1.5"/>
<circle cx="468.3" cy="364.9" r="1.0"/>
<circle cx="467.4" cy="364.1" r="1.1"/>
<circle cx="470.9" cy="367.2" r="1.1"/>
<circle cx="469.0" cy="365.0" r="1.1"/>
<circle cx="481" cy="378" r="0.8"/>
<circle cx="484" cy="383" r="0.8"/>
<circle cx="487" cy="381" r="0.8"/>
<circle cx="483" cy="388" r="0.8"/>
<circle cx="480" cy="372" r="0.8"/>
<circle cx="494" cy="368" r="0.8"/>
<circle cx="497" cy="372" r="0.8"/>
<circle cx="502.1" cy="40.8" r="1.0"/>
<circle cx="503.3" cy="43.3" r="1.1"/>
<circle cx="501.7" cy="39.3" r="1.4"/>
<circle cx="503.7" cy="46.5" r="0.8"/>
<circle cx="504.4" cy="40.2" r="1.5"/>
<circle cx="499.9" cy="41.4" r="2.1"/>
<circle cx="498.0" cy="51.2" r="1.1"/>
<circle cx="499.3" cy="45.5" r="1.8"/>
<circle cx="496.5" cy="50.0" r="1.9"/>
<circle cx="498.9" cy="44.6" r="1.9"/>
<circle cx="502.4" cy="46.7" r="1.2"/>
<circle cx="499.6" cy="46.2" r="1.8"/>
<circle cx="498.8" cy="45.5" r="1.6"/>
<circle cx="493.8" cy="53.1" r="0.8"/>
<circle cx="494.9" cy="54.2" r="1.7"/>
<circle cx="495.5" cy="55.0" r="1.1"/>
<circle cx="496.7" cy="56.0" r="0.8"/>
<circle cx="496.2" cy="53.0" r="1.2"/>
<circle cx="497.6" cy="53.3" r="0.8"/>
<circle cx="494.8" cy="53.1" r="1.1"/>
<circle cx="500.6" cy="62.3" r="1.1"/>
<circle cx="499.2" cy="65.0" r="1.1"/>
<circle cx="498.1" cy="57.6" r="2.1"/>
<circle cx="496.4" cy="58.9" r="1.4"/>
<circle cx="501.1" cy="59.6" r="1.4"/>
<circle cx="499.1" cy="56.8" r="0.9"/>
<circle cx="499.5" cy="65.9" r="2.0"/>
<circle cx="500.0" cy="69.7" r="1.3"/>
<circle cx="501.8" cy="65.8" r="0.8"/>
<circle cx="497.1" cy="66.4" r="1.3"/>
<circle cx="497.1" cy="63.3" r="1.3"/>
<circle cx="486.3" cy="75.0" r="1.1"/>
<circle cx="495.0" cy="72.0" r="1.4"/>
<circle cx="495.8" cy="68.4" r="2.1"/>
<circle cx="494.1" cy="71.7" r="0.8"/>
<circle cx="494.5" cy="71.9" r="0.9"/>
<circle cx="493.8" cy="71.2" r="1.2"/>
<circle cx="492.1" cy="71.0" r="1.2"/>
<circle cx="488.9" cy="71.4" r="1.8"/>
<circle cx="485.8" cy="71.9" r="1.9"/>
<circle cx="485.8" cy="80.1" r="0.8"/>
<circle cx="487.0" cy="76.4" r="2.1"/>
<circle cx="485.4" cy="74.5" r="1.5"/>
<circle cx="483.4" cy="79.4" r="1.8"/>
<circle cx="482.4" cy="83.2" r="1.3"/>
<circle cx="482.6" cy="81.4" r="0.9"/>
<circle cx="485.2" cy="78.0" r="0.9"/>
<circle cx="484.9" cy="77.5" r="2.2"/>
<circle cx="483.3" cy="81.7" r="0.9"/>
<circle cx="484.3" cy="79.8" r="1.4"/>
<circle cx="479.0" cy="85.5" r="1.7"/>
<circle cx="479.7" cy="88.5" r="1.0"/>
<circle cx="476.5" cy="88.5" r="1.3"/>
<circle cx="476.3" cy="86.3" r="1.1"/>
<circle cx="481.7" cy="84.8" r="1.3"/>
<circle cx="477.8" cy="91.5" r="1.1"/>
<circle cx="474.1" cy="96.6" r="0.9"/>
<circle cx="476.5" cy="93.7" r="2.1"/>
<circle cx="475.8" cy="87.3" r="1.1"/>
<circle cx="473.0" cy="97.3" r="1.3"/>
<circle cx="472.8" cy="93.1" r="1.9"/>
<circle cx="470.6" cy="95.4" r="1.7"/>
<circle cx="470.7" cy="94.2" r="1.1"/>
<circle cx="471.7" cy="97.0" r="1.1"/>
<circle cx="471.4" cy="96.2" r="1.1"/>
<circle cx="469.4" cy="98.0" r="1.6"/>
<circle cx="470.0" cy="94.9" r="1.6"/>
<circle cx="461.7" cy="98.3" r="1.8"/>
<circle cx="464.1" cy="98.7" r="2.1"/>
<circle cx="466.2" cy="98.8" r="1.4"/>
<circle cx="465.0" cy="99.7" r="1.1"/>
<circle cx="461.7" cy="97.6" r="2.1"/>
<circle cx="463.6" cy="103.4" r="2.0"/>
<circle cx="460.2" cy="101.7" r="1.6"/>
<circle cx="464.2" cy="103.5" r="1.7"/>
<circle cx="461.9" cy="101.7" r="1.2"/>
<circle cx="464.2" cy="102.6" r="1.5"/>
<circle cx="464.7" cy="105.3" r="1.0"/>
<circle cx="464.8" cy="107.9" r="0.9"/>
<circle cx="463.2" cy="116.2" r="1.7"/>
<circle cx="461.9" cy="115.0" r="1.1"/>
<circle cx="464.8" cy="112.6" r="1.1"/>
<circle cx="462.2" cy="109.8" r="1.3"/>
<circle cx="461.3" cy="110.3" r="2.1"/>
<circle cx="464.1" cy="116.3" r="0.9"/>
<circle cx="458.6" cy="121.6" r="1.6"/>
<circle cx="460.4" cy="119.0" r="1.6"/>
<circle cx="463.1" cy="117.6" r="1.4"/>
<circle cx="464.4" cy="114.7" r="1.1"/>
<circle cx="462.4" cy="120.3" r="1.1"/>
<circle cx="460.0" cy="116.3" r="1.4"/>
<circle cx="453.1" cy="129.5" r="0.8"/>
<circle cx="448.9" cy="134.0" r="1.7"/>
<circle cx="449.3" cy="132.1" r="1.3"/>
<circle cx="447.7" cy="136.5" r="2.0"/>
<circle cx="451.9" cy="132.0" r="2.0"/>
<circle cx="453.7" cy="133.9" r="1.0"/>
<circle cx="446.4" cy="137.9" r="1.2"/>
<circle cx="442.9" cy="141.7" r="1.1"/>
<circle cx="442.4" cy="140.2" r="1.9"/>
<circle cx="446.8" cy="136.4" r="1.2"/>
<circle cx="447.4" cy="133.7" r="1.9"/>
<circle cx="446.9" cy="137.7" r="1.7"/>
<circle cx="448.6" cy="136.5" r="1.2"/>
<circle cx="436.5" cy="145.8" r="1.9"/>
<circle cx="444.6" cy="142.4" r="1.3"/>
<circle cx="435.7" cy="147.4" r="1.5"/>
<circle cx="441.5" cy="142.7" r="1.0"/>
<circle cx="435.1" cy="146.3" r="1.1"/>
<circle cx="440.4" cy="144.7" r="1.6"/>
<circle cx="438.2" cy="140.5" r="1.0"/>
<circle cx="432.1" cy="149.9" r="1.9"/>
<circle cx="433.4" cy="147.6" r="0.8"/>
<circle cx="434.6" cy="144.1" r="1.2"/>
<circle cx="434.6" cy="147.8" r="1.0"/>
<circle cx="432.2" cy="148.1" r="1.9"/>
<circle cx="432.5" cy="145.6" r="1.6"/>
<circle cx="426.6" cy="156.4" r="1.1"/>
<circle cx="431.2" cy="152.6" r="1.2"/>
<circle cx="426.3" cy="157.8" r="1.7"/>
<circle cx="431.0" cy="151.4" r="1.4"/>
<circle cx="426.8" cy="152.3" r="1.7"/>
<circle cx="430.8" cy="154.4" r="1.0"/>
<circle cx="423.7" cy="158.6" r="1.6"/>
<circle cx="417.8" cy="160.4" r="1.2"/>
<circle cx="426.0" cy="159.2" r="1.7"/>
<circle cx="426.0" cy="158.8" r="1.4"/>
<circle cx="419.6" cy="159.7" r="0.9"/>
<circle cx="420.7" cy="157.9" r="1.7"/>
<circle cx="414.5" cy="165.9" r="1.1"/>
<circle cx="413.6" cy="165.7" r="1.4"/>
<circle cx="416.8" cy="165.5" r="1.1"/>
<circle cx="409.1" cy="164.5" r="1.1"/>
<circle cx="414.6" cy="166.3" r="1.2"/>
<circle cx="410.6" cy="164.4" r="1.9"/>
<circle cx="414.3" cy="165.5" r="2.0"/>
<circle cx="411.8" cy="169.2" r="1.8"/>
<circle cx="411.2" cy="168.4" r="1.2"/>
<circle cx="410.9" cy="165.0" r="1.9"/>
<circle cx="406.4" cy="169.3" r="1.9"/>
<circle cx="405.6" cy="169.5" r="0.8"/>
<circle cx="405.5" cy="173.8" r="1.7"/>
<circle cx="409.7" cy="170.2" r="1.8"/>
<circle cx="405.8" cy="171.2" r="1.8"/>
<circle cx="405.4" cy="171.6" r="1.0"/>
<circle cx="399.6" cy="175.7" r="1.8"/>
<circle cx="399.4" cy="176.0" r="1.1"/>
<circle cx="400.0" cy="175.3" r="1.0"/>
<circle cx="399.9" cy="172.3" r="1.1"/>
<circle cx="401.6" cy="173.8" r="1.2"/>
<circle cx="395.3" cy="177.8" r="1.5"/>
<circle cx="394.3" cy="175.9" r="1.7"/>
<circle cx="393.3" cy="176.1" r="1.1"/>
<circle cx="386.4" cy="177.0" r="1.0"/>
<circle cx="393.6" cy="177.5" r="2.0"/>
<circle cx="394.9" cy="176.2" r="1.8"/>
<circle cx="393.6" cy="175.3" r="1.8"/>
<circle cx="388.2" cy="174.8" r="1.1"/>
<circle cx="384.0" cy="174.6" r="1.6"/>
<circle cx="388.3" cy="176.5" r="1.7"/>
<circle cx="383.7" cy="175.9" r="1.3"/>
<circle cx="376.5" cy="180.2" r="0.8"/>
<circle cx="380.5" cy="179.2" r="1.4"/>
<circle cx="382.7" cy="176.2" r="1.4"/>
<circle cx="381.4" cy="179.0" r="1.6"/>
<circle cx="375.0" cy="178.2" r="1.8"/>
<circle cx="375.1" cy="179.5" r="1.3"/>
<circle cx="373.6" cy="179.7" r="1.4"/>
<circle cx="371.3" cy="180.5" r="1.2"/>
<circle cx="375.3" cy="179.6" r="1.0"/>
<circle cx="375.6" cy="179.6" r="1.0"/>
<circle cx="368.3" cy="184.4" r="1.7"/>
<circle cx="373.4" cy="180.4" r="1.3"/>
<circle cx="367.1" cy="182.7" r="1.3"/>
<circle cx="371.2" cy="180.4" r="1.0"/>
<circle cx="367.2" cy="181.6" r="1.7"/>
<circle cx="364.5" cy="179.0" r="1.4"/>
<circle cx="365.9" cy="180.5" r="1.7"/>
<circle cx="363.8" cy="177.7" r="1.7"/>
<circle cx="363.6" cy="180.7" r="1.9"/>
<circle cx="361.4" cy="173.8" r="1.6"/>
<circle cx="360.8" cy="172.0" r="1.6"/>
<circle cx="363.2" cy="177.6" r="1.7"/>
<circle cx="359.9" cy="172.6" r="1.3"/>
<circle cx="360.7" cy="173.9" r="1.9"/>
<circle cx="363.9" cy="177.1" r="1.3"/>
<circle cx="360.9" cy="169.3" r="1.5"/>
<circle cx="359.5" cy="176.2" r="1.4"/>
<circle cx="358.4" cy="173.6" r="1.7"/>
<circle cx="359.7" cy="179.4" r="1.4"/>
<circle cx="360.9" cy="175.3" r="1.6"/>
<circle cx="360.0" cy="174.7" r="2.0"/>
<circle cx="356.5" cy="175.1" r="1.3"/>
<circle cx="357.4" cy="172.1" r="1.6"/>
<circle cx="357.5" cy="174.8" r="1.7"/>
<circle cx="360.2" cy="181.1" r="1.8"/>
<circle cx="357.3" cy="183.2" r="1.7"/>
<circle cx="357.7" cy="186.8" r="1.5"/>
<circle cx="361.5" cy="183.5" r="1.6"/>
<circle cx="358.5" cy="186.8" r="1.2"/>
<circle cx="356.3" cy="187.3" r="1.2"/>
<circle cx="351.2" cy="183.2" r="1.1"/>
<circle cx="352.8" cy="183.4" r="1.7"/>
<circle cx="353.8" cy="185.5" r="1.4"/>
<circle cx="354.9" cy="186.6" r="1.2"/>
<circle cx="353.6" cy="181.3" r="1.8"/>
<circle cx="351.6" cy="187.0" r="1.8"/>
<circle cx="348.3" cy="184.7" r="1.9"/>
<circle cx="349.4" cy="185.3" r="1.0"/>
<circle cx="352.6" cy="183.8" r="1.0"/>
<circle cx="351.6" cy="187.1" r="1.9"/>
<circle cx="348.6" cy="193.0" r="1.9"/>
<circle cx="348.0" cy="191.6" r="1.6"/>
<circle cx="348.8" cy="191.5" r="1.9"/>
<circle cx="346.4" cy="190.6" r="1.0"/>
<circle cx="345.7" cy="191.5" r="1.0"/>
<circle cx="343.1" cy="195.7" r="1.8"/>
<circle cx="347.0" cy="193.9" r="1.5"/>
<circle cx="344.0" cy="195.5" r="1.3"/>
<circle cx="338.9" cy="197.6" r="1.6"/>
<circle cx="344.8" cy="196.0" r="1.5"/>
<circle cx="344.3" cy="194.7" r="1.1"/>
<circle cx="337.4" cy="194.1" r="1.3"/>
<circle cx="343.8" cy="194.1" r="1.1"/>
<circle cx="335.3" cy="192.8" r="1.1"/>
<circle cx="335.3" cy="194.9" r="1.0"/>
<circle cx="331.6" cy="194.4" r="0.9"/>
<circle cx="336.2" cy="194.4" r="1.4"/>
<circle cx="335.2" cy="192.9" r="1.2"/>
<circle cx="326.7" cy="194.5" r="1.4"/>
<circle cx="323.9" cy="195.1" r="1.0"/>
<circle cx="329.4" cy="196.1" r="1.2"/>
<circle cx="326.6" cy="197.7" r="1.3"/>
<circle cx="326.3" cy="196.8" r="1.2"/>
<circle cx="317.6" cy="199.2" r="1.1"/>
<circle cx="316.7" cy="197.6" r="0.7"/>
<circle cx="319.6" cy="199.3" r="1.0"/>
<circle cx="318.8" cy="199.1" r="0.9"/>
<circle cx="314.5" cy="199.6" r="1.1"/>
<circle cx="314.3" cy="199.7" r="1.2"/>
<circle cx="315.1" cy="200.5" r="1.2"/>
<circle cx="310.8" cy="200.4" r="1.0"/>
<circle cx="309.8" cy="206.4" r="1.1"/>
<circle cx="307.5" cy="204.5" r="0.9"/>
<circle cx="308.2" cy="201.2" r="1.3"/>
<circle cx="308.2" cy="204.2" r="1.5"/>
<circle cx="304.8" cy="206.5" r="0.9"/>
<circle cx="305.0" cy="201.2" r="1.4"/>
<circle cx="306.0" cy="208.0" r="0.8"/>
<circle cx="305.6" cy="206.4" r="1.5"/>
<circle cx="307.2" cy="204.4" r="0.7"/>
<circle cx="306.4" cy="202.9" r="0.8"/>
<circle cx="306.2" cy="202.8" r="1.5"/>
<circle cx="304.6" cy="211.9" r="1.2"/>
<circle cx="306.6" cy="210.8" r="1.4"/>
<circle cx="306.2" cy="212.1" r="1.1"/>
<circle cx="306.8" cy="213.4" r="1.4"/>
<circle cx="307.9" cy="216.1" r="1.6"/>
<circle cx="309.9" cy="217.6" r="1.2"/>
<circle cx="304.1" cy="222.0" r="1.0"/>
<circle cx="307.7" cy="219.9" r="1.3"/>
<circle cx="306.7" cy="221.9" r="1.0"/>
<circle cx="308.1" cy="219.1" r="1.2"/>
<circle cx="282.6" cy="194.2" r="1.8"/>
<circle cx="282.5" cy="196.5" r="1.1"/>
<circle cx="282.1" cy="196.9" r="1.9"/>
<circle cx="281.2" cy="197.9" r="1.8"/>
<circle cx="280.2" cy="196.9" r="1.1"/>
<circle cx="278.0" cy="193.6" r="1.0"/>
<circle cx="279.9" cy="196.1" r="1.4"/>
<circle cx="280.9" cy="196.5" r="1.1"/>
<circle cx="274.5" cy="196.9" r="1.4"/>
<circle cx="273.6" cy="193.4" r="1.0"/>
<circle cx="275.5" cy="192.7" r="1.5"/>
<circle cx="273.6" cy="192.8" r="0.9"/>
<circle cx="270.3" cy="195.5" r="1.6"/>
<circle cx="265.0" cy="198.8" r="1.2"/>
<circle cx="265.8" cy="195.9" r="2.0"/>
<circle cx="266.0" cy="198.8" r="1.1"/>
<circle cx="266.2" cy="200.3" r="1.7"/>
<circle cx="264.2" cy="201.5" r="0.8"/>
<circle cx="263.1" cy="197.8" r="0.9"/>
<circle cx="264.8" cy="201.1" r="1.9"/>
<circle cx="259.9" cy="203.4" r="1.3"/>
<circle cx="263.0" cy="202.7" r="1.5"/>
<circle cx="260.5" cy="206.1" r="1.3"/>
<circle cx="257.9" cy="206.8" r="2.0"/>
<circle cx="258.4" cy="203.0" r="1.2"/>
<circle cx="254.4" cy="211.4" r="0.9"/>
<circle cx="254.1" cy="210.1" r="2.0"/>
<circle cx="255.0" cy="207.8" r="1.9"/>
<circle cx="252.8" cy="209.5" r="1.7"/>
<circle cx="250.6" cy="209.1" r="0.9"/>
<circle cx="247.0" cy="208.4" r="1.0"/>
<circle cx="244.8" cy="210.2" r="1.0"/>
<circle cx="253.8" cy="209.0" r="1.9"/>
<circle cx="247.1" cy="207.4" r="1.3"/>
<circle cx="253.3" cy="211.7" r="1.6"/>
<circle cx="243.4" cy="212.0" r="1.4"/>
<circle cx="242.4" cy="210.0" r="0.9"/>
<circle cx="244.1" cy="210.0" r="1.8"/>
<circle cx="205.8" cy="395.0" r="0.7"/>
<circle cx="202.6" cy="393.0" r="0.8"/>
<circle cx="201.9" cy="393.4" r="1.1"/>
<circle cx="199.2" cy="396.8" r="0.6"/>
<circle cx="196.3" cy="392.8" r="0.6"/>
<circle cx="194.8" cy="390.8" r="1.1"/>
<circle cx="191.0" cy="389.8" r="0.5"/>
<circle cx="192.1" cy="385.5" r="0.5"/>
<circle cx="189.8" cy="380.8" r="0.5"/>
<circle cx="188.1" cy="384.5" r="0.8"/>
<circle cx="183.7" cy="382.9" r="0.6"/>
<circle cx="184.4" cy="381.6" r="0.6"/>
<circle cx="183.0" cy="382.1" r="0.8"/>
<circle cx="180.6" cy="373.7" r="0.9"/>
<circle cx="179.5" cy="369.3" r="0.5"/>
<circle cx="175.1" cy="372.0" r="0.5"/>
<circle cx="174.6" cy="372.6" r="1.0"/>
<circle cx="170.7" cy="370.3" r="0.8"/>
<circle cx="169.6" cy="366.2" r="1.0"/>
<circle cx="168.1" cy="363.8" r="0.9"/>
<circle cx="479.5" cy="251.9" r="1.0"/>
<circle cx="484.4" cy="251.4" r="1.2"/>
<circle cx="490.3" cy="250.4" r="1.2"/>
<circle cx="494.7" cy="254.5" r="1.0"/>
<circle cx="501.2" cy="255.3" r="0.7"/>
<circle cx="505.6" cy="250.4" r="0.8"/>
<circle cx="507.5" cy="251.8" r="0.8"/>
<circle cx="505.6" cy="255.3" r="1.1"/>
<circle cx="505.6" cy="264.1" r="0.8"/>
<circle cx="505.8" cy="264.4" r="0.8"/>
<circle cx="506.4" cy="269.2" r="0.8"/>
<circle cx="505.1" cy="269.6" r="1.2"/>
<circle cx="508.6" cy="274.7" r="0.8"/>
<circle cx="511.0" cy="284.0" r="1.0"/>
<circle cx="507.1" cy="289.6" r="1.3"/>
<circle cx="502.4" cy="293.1" r="0.9"/>
<circle cx="500.9" cy="297.0" r="1.2"/>
<circle cx="496.1" cy="301.5" r="1.0"/>
<circle cx="494.9" cy="300.6" r="1.0"/>
<circle cx="492.1" cy="305.2" r="0.7"/>
<circle cx="492.6" cy="308.2" r="0.8"/>
<circle cx="496.4" cy="319.9" r="1.1"/>
<circle cx="498.4" cy="325.9" r="0.7"/>
<circle cx="496.2" cy="324.0" r="0.9"/>
<circle cx="500.6" cy="328.7" r="0.9"/>
<circle cx="502.7" cy="332.4" r="0.9"/>
<circle cx="506.3" cy="329.9" r="1.1"/>
<circle cx="510.0" cy="326.0" r="1.0"/>
<circle cx="511.2" cy="325.2" r="0.8"/>
<circle cx="514.9" cy="326.1" r="0.8"/>
<circle cx="517.7" cy="329.6" r="1.1"/>
<circle cx="521.0" cy="332.6" r="1.1"/>
<circle cx="523.1" cy="333.8" r="1.0"/>
<circle cx="525.1" cy="331.3" r="1.0"/>
<circle cx="531.0" cy="330.7" r="0.9"/>
<circle cx="534.9" cy="334.8" r="1.0"/>
<circle cx="536.3" cy="334.6" r="1.2"/>
<circle cx="530.1" cy="337.3" r="1.0"/>
<circle cx="528.5" cy="337.5" r="1.1"/>
<circle cx="529.3" cy="342.3" r="1.1"/>
<circle cx="533.1" cy="343.7" r="1.1"/>
<circle cx="537.8" cy="349.7" r="1.0"/>
<circle cx="538.4" cy="353.4" r="1.0"/>
<circle cx="537.1" cy="356.9" r="0.8"/>
<circle cx="532.8" cy="354.3" r="1.1"/>
<circle cx="534.3" cy="351.8" r="1.0"/>
<circle cx="530.6" cy="348.7" r="0.9"/>
<circle cx="527.3" cy="347.2" r="0.9"/>
<circle cx="524.6" cy="342.8" r="0.9"/>
<circle cx="521.1" cy="338.2" r="1.0"/>
<circle cx="518.2" cy="336.0" r="1.0"/>
<circle cx="513.8" cy="335.5" r="0.9"/>
<circle cx="513.0" cy="334.3" r="0.8"/>
<circle cx="512.6" cy="333.3" r="0.7"/>
<circle cx="512.3" cy="341.7" r="1.2"/>
<circle cx="514.2" cy="343.9" r="1.0"/>
<circle cx="510.4" cy="342.2" r="1.1"/>
<circle cx="510.7" cy="340.8" r="1.0"/>
<circle cx="507.4" cy="337.0" r="1.0"/>
<circle cx="505.3" cy="335.9" r="1.0"/>
<circle cx="501.8" cy="334.7" r="0.9"/>
<circle cx="498.5" cy="331.0" r="0.9"/>
<circle cx="493.5" cy="334.4" r="0.8"/>
<circle cx="490.2" cy="336.7" r="1.3"/>
<circle cx="486.3" cy="336.3" r="0.9"/>
<circle cx="484.6" cy="336.1" r="0.8"/>
<circle cx="480.6" cy="332.1" r="1.3"/>
<circle cx="478.9" cy="332.2" r="1.2"/>
<circle cx="480.1" cy="327.3" r="0.9"/>
<circle cx="483.2" cy="321.5" r="0.8"/>
<circle cx="481.1" cy="318.7" r="1.1"/>
<circle cx="478.0" cy="319.6" r="0.9"/>
<circle cx="473.3" cy="320.5" r="0.8"/>
<circle cx="470.4" cy="316.3" r="1.2"/>
<circle cx="471.1" cy="311.0" r="0.7"/>
<circle cx="468.2" cy="309.4" r="0.9"/>
<circle cx="467.4" cy="306.1" r="1.2"/>
<circle cx="466.7" cy="304.0" r="0.9"/>
<circle cx="467.3" cy="300.7" r="1.3"/>
<circle cx="465.9" cy="296.7" r="0.7"/>
<circle cx="467.2" cy="290.4" r="1.2"/>
<circle cx="468.1" cy="294.9" r="1.3"/>
<circle cx="472.9" cy="294.3" r="0.9"/>
<circle cx="473.6" cy="288.5" r="1.2"/>
<circle cx="475.2" cy="290.2" r="0.8"/>
<circle cx="474.0" cy="285.0" r="0.9"/>
<circle cx="474.0" cy="281.8" r="0.9"/>
<circle cx="474.5" cy="272.8" r="1.2"/>
<circle cx="475.0" cy="273.4" r="0.9"/>
<circle cx="475.3" cy="266.7" r="0.9"/>
<circle cx="477.2" cy="265.7" r="0.9"/>
<circle cx="478.0" cy="253.1" r="1.2"/>
<circle cx="478.1" cy="253.0" r="1.1"/>
<circle cx="479.4" cy="338.0" r="1.3"/>
<circle cx="481.3" cy="339.7" r="0.8"/>
<circle cx="487.1" cy="343.5" r="1.1"/>
<circle cx="489.7" cy="345.3" r="0.8"/>
<circle cx="492.7" cy="353.3" r="1.0"/>
<circle cx="494.4" cy="355.2" r="1.1"/>
<circle cx="490.1" cy="360.7" r="0.8"/>
<circle cx="489.8" cy="361.7" r="1.1"/>
<circle cx="486.2" cy="360.4" r="1.0"/>
<circle cx="482.3" cy="353.8" r="0.8"/>
<circle cx="482.5" cy="348.8" r="0.9"/>
<circle cx="478.5" cy="343.2" r="1.2"/>
<circle cx="476.7" cy="339.9" r="1.1"/>
<circle cx="525.5" cy="357.0" r="1.1"/>
<circle cx="529.1" cy="361.4" r="0.9"/>
<circle cx="532.5" cy="362.9" r="1.2"/>
<circle cx="536.9" cy="366.9" r="0.7"/>
<circle cx="535.6" cy="368.5" r="0.9"/>
<circle cx="534.1" cy="369.0" r="0.8"/>
<circle cx="527.9" cy="364.1" r="0.9"/>
<circle cx="526.4" cy="362.3" r="0.7"/>
<circle cx="524.3" cy="364.4" r="0.7"/>
<circle cx="522.3" cy="363.3" r="0.8"/>
<circle cx="522.8" cy="363.2" r="1.2"/>
<circle cx="522.4" cy="357.8" r="0.9"/>
<circle cx="545.6" cy="356.3" r="0.8"/>
<circle cx="551.3" cy="358.0" r="1.1"/>
<circle cx="556.7" cy="357.9" r="1.0"/>
<circle cx="557.8" cy="357.8" r="1.0"/>
<circle cx="559.0" cy="367.0" r="0.7"/>
<circle cx="561.8" cy="369.5" r="1.0"/>
<circle cx="563.2" cy="377.0" r="0.8"/>
<circle cx="562.2" cy="376.9" r="0.8"/>
<circle cx="558.6" cy="380.9" r="1.1"/>
<circle cx="556.0" cy="379.1" r="1.0"/>
<circle cx="552.5" cy="373.0" r="1.2"/>
<circle cx="553.0" cy="372.4" r="1.2"/>
<circle cx="551.2" cy="367.8" r="1.1"/>
<circle cx="546.8" cy="366.5" r="1.2"/>
<circle cx="544.8" cy="363.7" r="0.8"/>
<circle cx="542.3" cy="360.3" r="1.1"/>
<circle cx="541.7" cy="372.5" r="1.0"/>
<circle cx="544.0" cy="373.7" r="0.7"/>
<circle cx="549.5" cy="376.2" r="1.1"/>
<circle cx="552.0" cy="378.9" r="1.0"/>
<circle cx="551.4" cy="382.0" r="0.7"/>
<circle cx="554.3" cy="389.4" r="1.3"/>
<circle cx="554.6" cy="390.7" r="0.8"/>
<circle cx="556.8" cy="393.6" r="0.9"/>
<circle cx="554.9" cy="398.0" r="1.3"/>
<circle cx="552.8" cy="399.0" r="1.1"/>
<circle cx="548.9" cy="396.6" r="0.9"/>
<circle cx="549.4" cy="390.6" r="1.2"/>
<circle cx="546.2" cy="387.9" r="1.1"/>
<circle cx="545.4" cy="383.1" r="1.3"/>
<circle cx="543.9" cy="378.5" r="0.9"/>
<circle cx="540.9" cy="375.3" r="0.8"/>
<circle cx="504.2" cy="367.9" r="0.7"/>
<circle cx="504.6" cy="371.5" r="0.7"/>
<circle cx="511.8" cy="374.9" r="1.0"/>
<circle cx="513.1" cy="374.6" r="1.0"/>
<circle cx="517.0" cy="375.2" r="1.2"/>
<circle cx="520.6" cy="376.1" r="1.0"/>
<circle cx="520.2" cy="377.8" r="0.8"/>
<circle cx="518.6" cy="382.2" r="1.2"/>
<circle cx="515.3" cy="386.3" r="1.1"/>
<circle cx="509.7" cy="387.5" r="1.1"/>
<circle cx="509.4" cy="389.2" r="1.0"/>
<circle cx="503.6" cy="390.1" r="1.2"/>
<circle cx="502.1" cy="392.0" r="1.0"/>
<circle cx="501.5" cy="391.2" r="1.0"/>
<circle cx="502.1" cy="385.4" r="0.9"/>
<circle cx="501.8" cy="382.8" r="1.0"/>
<circle cx="505.2" cy="375.8" r="0.8"/>
<circle cx="501.6" cy="370.6" r="1.0"/>
<circle cx="521.9" cy="383.5" r="1.0"/>
<circle cx="525.2" cy="385.2" r="0.7"/>
<circle cx="528.2" cy="388.7" r="1.1"/>
<circle cx="523.8" cy="396.2" r="1.1"/>
<circle cx="525.2" cy="395.8" r="0.8"/>
<circle cx="522.0" cy="405.6" r="0.8"/>
<circle cx="521.6" cy="408.2" r="0.9"/>
<circle cx="523.6" cy="409.4" r="0.9"/>
<circle cx="520.6" cy="417.0" r="1.1"/>
<circle cx="518.6" cy="414.9" r="1.2"/>
<circle cx="518.5" cy="412.1" r="1.2"/>
<circle cx="513.7" cy="406.2" r="0.9"/>
<circle cx="511.2" cy="405.3" r="0.7"/>
<circle cx="509.1" cy="402.6" r="1.2"/>
<circle cx="512.7" cy="401.8" r="0.9"/>
<circle cx="515.8" cy="400.6" r="1.0"/>
<circle cx="516.3" cy="394.9" r="1.2"/>
<circle cx="519.0" cy="390.1" r="1.1"/>
<circle cx="518.7" cy="387.5" r="1.0"/>
<circle cx="536.8" cy="385.2" r="0.7"/>
<circle cx="535.1" cy="385.6" r="1.2"/>
<circle cx="532.7" cy="390.7" r="1.2"/>
<circle cx="531.3" cy="395.3" r="0.8"/>
<circle cx="528.1" cy="401.3" r="1.1"/>
<circle cx="527.4" cy="400.3" r="1.2"/>
<circle cx="524.5" cy="407.5" r="0.9"/>
<circle cx="525.2" cy="408.9" r="0.9"/>
<circle cx="524.6" cy="407.6" r="0.7"/>
<circle cx="527.8" cy="398.1" r="0.8"/>
<circle cx="528.9" cy="392.5" r="1.0"/>
<circle cx="531.5" cy="390.4" r="1.3"/>
<circle cx="533.4" cy="383.4" r="1.2"/>
<circle cx="539.8" cy="398.9" r="1.1"/>
<circle cx="539.9" cy="399.1" r="1.2"/>
<circle cx="545.0" cy="399.6" r="1.2"/>
<circle cx="544.3" cy="403.4" r="0.9"/>
<circle cx="542.4" cy="403.8" r="0.9"/>
<circle cx="541.6" cy="406.3" r="0.9"/>
<circle cx="535.8" cy="406.3" r="0.8"/>
<circle cx="535.3" cy="405.3" r="1.0"/>
<circle cx="534.3" cy="400.7" r="0.7"/>
<circle cx="501.7" cy="445.8" r="1.0"/>
<circle cx="503.3" cy="441.4" r="1.1"/>
<circle cx="503.3" cy="439.6" r="1.3"/>
<circle cx="511.6" cy="434.0" r="1.2"/>
<circle cx="515.0" cy="433.7" r="0.9"/>
<circle cx="517.6" cy="428.2" r="0.9"/>
<circle cx="523.7" cy="423.8" r="0.8"/>
<circle cx="530.7" cy="424.8" r="0.8"/>
<circle cx="534.4" cy="428.7" r="0.7"/>
<circle cx="532.6" cy="432.3" r="0.8"/>
<circle cx="531.8" cy="434.3" r="1.1"/>
<circle cx="538.3" cy="430.7" r="1.1"/>
<circle cx="540.8" cy="428.2" r="0.9"/>
<circle cx="542.0" cy="424.3" r="1.1"/>
<circle cx="544.2" cy="425.5" r="0.9"/>
<circle cx="547.7" cy="423.3" r="1.0"/>
<circle cx="555.2" cy="419.2" r="1.1"/>
<circle cx="550.7" cy="418.2" r="0.8"/>
<circle cx="559.5" cy="418.5" r="1.0"/>
<circle cx="561.5" cy="414.5" r="1.1"/>
<circle cx="559.5" cy="408.8" r="0.9"/>
<circle cx="563.2" cy="407.0" r="0.9"/>
<circle cx="567.9" cy="409.3" r="0.9"/>
<circle cx="571.2" cy="410.8" r="0.7"/>
<circle cx="573.7" cy="417.1" r="0.9"/>
<circle cx="574.4" cy="428.0" r="0.8"/>
<circle cx="573.3" cy="418.4" r="1.0"/>
<circle cx="575.1" cy="432.9" r="0.9"/>
<circle cx="574.5" cy="429.2" r="1.3"/>
<circle cx="575.8" cy="436.8" r="0.8"/>
<circle cx="579.7" cy="441.5" r="0.9"/>
<circle cx="579.7" cy="445.6" r="1.2"/>
<circle cx="580.2" cy="446.6" r="1.1"/>
<circle cx="576.9" cy="451.7" r="1.0"/>
<circle cx="575.3" cy="458.6" r="1.1"/>
<circle cx="573.5" cy="455.3" r="1.0"/>
<circle cx="572.4" cy="461.1" r="1.1"/>
<circle cx="573.1" cy="454.5" r="1.0"/>
<circle cx="571.1" cy="452.5" r="0.9"/>
<circle cx="566.6" cy="445.6" r="0.9"/>
<circle cx="565.2" cy="447.9" r="1.1"/>
<circle cx="560.8" cy="455.1" r="1.2"/>
<circle cx="561.5" cy="457.3" r="1.2"/>
<circle cx="563.8" cy="466.5" r="1.3"/>
<circle cx="563.0" cy="466.0" r="1.3"/>
<circle cx="564.0" cy="468.9" r="1.1"/>
<circle cx="557.5" cy="473.1" r="0.8"/>
<circle cx="553.6" cy="468.4" r="1.2"/>
<circle cx="546.1" cy="466.0" r="1.2"/>
<circle cx="541.6" cy="465.2" r="0.8"/>
<circle cx="538.2" cy="461.4" r="1.3"/>
<circle cx="538.1" cy="457.5" r="1.0"/>
<circle cx="536.7" cy="452.9" r="1.1"/>
<circle cx="540.3" cy="449.8" r="0.8"/>
<circle cx="538.9" cy="446.1" r="0.9"/>
<circle cx="536.9" cy="442.9" r="1.1"/>
<circle cx="529.6" cy="437.6" r="0.7"/>
<circle cx="527.1" cy="438.8" r="1.0"/>
<circle cx="521.4" cy="443.9" r="1.1"/>
<circle cx="517.9" cy="445.7" r="1.3"/>
<circle cx="512.9" cy="441.5" r="0.9"/>
<circle cx="511.8" cy="442.2" r="0.9"/>
<circle cx="506.6" cy="447.7" r="0.7"/>
<circle cx="506.6" cy="450.1" r="1.1"/>
<circle cx="502.8" cy="450.9" r="0.8"/>
<circle cx="502.5" cy="449.2" r="0.7"/>
</g>
<g clip-path="url(#mapclip)" fill="none" stroke="#000" stroke-linejoin="round" stroke-linecap="round">
</g>
<g stroke="#000" stroke-width="1" shape-rendering="crispEdges">
<line x1="130.5" y1="38" x2="130.5" y2="42"/>
<line x1="130.5" y1="570" x2="130.5" y2="566"/>
<line x1="164.5" y1="38" x2="164.5" y2="42"/>
<line x1="164.5" y1="570" x2="164.5" y2="566"/>
<line x1="198.5" y1="38" x2="198.5" y2="42"/>
<line x1="198.5" y1="570" x2="198.5" y2="566"/>
<line x1="232.5" y1="38" x2="232.5" y2="42"/>
<line x1="232.5" y1="570" x2="232.5" y2="566"/>
<line x1="266.5" y1="38" x2="266.5" y2="42"/>
<line x1="266.5" y1="570" x2="266.5" y2="566"/>
<line x1="299.5" y1="38" x2="299.5" y2="42"/>
<line x1="299.5" y1="570" x2="299.5" y2="566"/>
<line x1="333.5" y1="38" x2="333.5" y2="42"/>
<line x1="333.5" y1="570" x2="333.5" y2="566"/>
<line x1="367.5" y1="38" x2="367.5" y2="42"/>
<line x1="367.5" y1="570" x2="367.5" y2="566"/>
<line x1="401.5" y1="38" x2="401.5" y2="42"/>
<line x1="401.5" y1="570" x2="401.5" y2="566"/>
<line x1="435.5" y1="38" x2="435.5" y2="42"/>
<line x1="435.5" y1="570" x2="435.5" y2="566"/>
<line x1="468.5" y1="38" x2="468.5" y2="42"/>
<line x1="468.5" y1="570" x2="468.5" y2="566"/>
<line x1="502.5" y1="38" x2="502.5" y2="42"/>
<line x1="502.5" y1="570" x2="502.5" y2="566"/>
<line x1="536.5" y1="38" x2="536.5" y2="42"/>
<line x1="536.5" y1="570" x2="536.5" y2="566"/>
<line x1="570.5" y1="38" x2="570.5" y2="42"/>
<line x1="570.5" y1="570" x2="570.5" y2="566"/>
<line x1="604.5" y1="38" x2="604.5" y2="42"/>
<line x1="604.5" y1="570" x2="604.5" y2="566"/>
<line x1="113" y1="537.5" x2="118" y2="537.5"/>
<line x1="637" y1="537.5" x2="632" y2="537.5"/>
<line x1="113" y1="503.5" x2="118" y2="503.5"/>
<line x1="637" y1="503.5" x2="632" y2="503.5"/>
<line x1="113" y1="469.5" x2="118" y2="469.5"/>
<line x1="637" y1="469.5" x2="632" y2="469.5"/>
<line x1="113" y1="435.5" x2="118" y2="435.5"/>
<line x1="637" y1="435.5" x2="632" y2="435.5"/>
<line x1="113" y1="401.5" x2="118" y2="401.5"/>
<line x1="637" y1="401.5" x2="632" y2="401.5"/>
<line x1="113" y1="366.5" x2="118" y2="366.5"/>
<line x1="637" y1="366.5" x2="632" y2="366.5"/>
<line x1="113" y1="331.5" x2="118" y2="331.5"/>
<line x1="637" y1="331.5" x2="632" y2="331.5"/>
<line x1="113" y1="296.5" x2="118" y2="296.5"/>
<line x1="637" y1="296.5" x2="632" y2="296.5"/>
<line x1="113" y1="261.5" x2="118" y2="261.5"/>
<line x1="637" y1="261.5" x2="632" y2="261.5"/>
<line x1="113" y1="225.5" x2="118" y2="225.5"/>
<line x1="637" y1="225.5" x2="632" y2="225.5"/>
<line x1="113" y1="189.5" x2="118" y2="189.5"/>
<line x1="637" y1="189.5" x2="632" y2="189.5"/>
<line x1="113" y1="152.5" x2="118" y2="152.5"/>
<line x1="637" y1="152.5" x2="632" y2="152.5"/>
<line x1="113" y1="115.5" x2="118" y2="115.5"/>
<line x1="637" y1="115.5" x2="632" y2="115.5"/>
<line x1="113" y1="77.5" x2="118" y2="77.5"/>
<line x1="637" y1="77.5" x2="632" y2="77.5"/>
</g>
<rect x="112" y="37" width="526" height="534" fill="none" stroke="#000" stroke-width="2" shape-rendering="crispEdges"/>
<g font-size="10.6" font-style="italic" fill="#000">
<text x="133.3" y="588" text-anchor="middle">100 E</text>
<text x="217.9" y="588" text-anchor="middle">105 E</text>
<text x="302.4" y="588" text-anchor="middle">110 E</text>
<text x="387.0" y="588" text-anchor="middle">115 E</text>
<text x="471.5" y="588" text-anchor="middle">120 E</text>
<text x="556.0" y="588" text-anchor="middle">125 E</text>
<text x="640.6" y="588" text-anchor="middle">130 E</text>
<text x="646" y="574.5">0</text>
<text x="646" y="489.8">5 N</text>
<text x="646" y="404.5">10 N</text>
<text x="646" y="317.9">15 N</text>
<text x="646" y="229.2">20 N</text>
<text x="646" y="137.7">25 N</text>
<text x="646" y="42.3">30 N</text>
</g>
<text x="375.5" y="20" font-size="12.9" fill="#000050" text-anchor="middle">Significant Wave Height with Wave Direction</text>
<text x="375.5" y="32" font-size="12" font-style="italic" fill="#000040" text-anchor="middle">Valid For Jun-14-2013 06:00 GMT</text>
<text x="113" y="602" font-size="12.2" fill="#000058" textLength="127" lengthAdjust="spacingAndGlyphs">oceanweather inc.</text>
<text x="522" y="599" font-size="8" font-style="italic" fill="#000060" textLength="115" lengthAdjust="spacingAndGlyphs">Plotted at Jun 13, 2013 22:03 GMT</text>
<rect x="255" y="628" width="241" height="14" fill="url(#lg)"/>
<rect x="255" y="628" width="2" height="14" fill="#000"/>
<text x="375.5" y="613" font-size="9.5" fill="#000060" text-anchor="middle">Significant Wave Height (Meters)</text>
<text x="375.5" y="662" font-size="9.5" fill="#000060" text-anchor="middle">Significant Wave Height (Feet)</text>
<g font-size="9.5" fill="#000060" text-anchor="middle">
<text x="255.5" y="625">0</text>
<text x="275.6" y="625">1</text>
<text x="295.6" y="625">2</text>
<text x="315.6" y="625">3</text>
<text x="335.7" y="625">4</text>
<text x="355.8" y="625">5</text>
<text x="375.8" y="625">6</text>
<text x="395.9" y="625">7</text>
<text x="415.9" y="625">8</text>
<text x="436.0" y="625">9</text>
<text x="456.0" y="625">10</text>
<text x="476.1" y="625">11</text>
<text x="496.1" y="625">12</text>
<text x="255.5" y="650.5">0</text>
<text x="285.6" y="650.5">5</text>
<text x="315.6" y="650.5">10</text>
<text x="345.7" y="650.5">15</text>
<text x="375.8" y="650.5">20</text>
<text x="405.8" y="650.5">25</text>
<text x="435.9" y="650.5">30</text>
<text x="465.9" y="650.5">35</text>
<text x="496.0" y="650.5">40</text>
</g>
</svg></body></html>
